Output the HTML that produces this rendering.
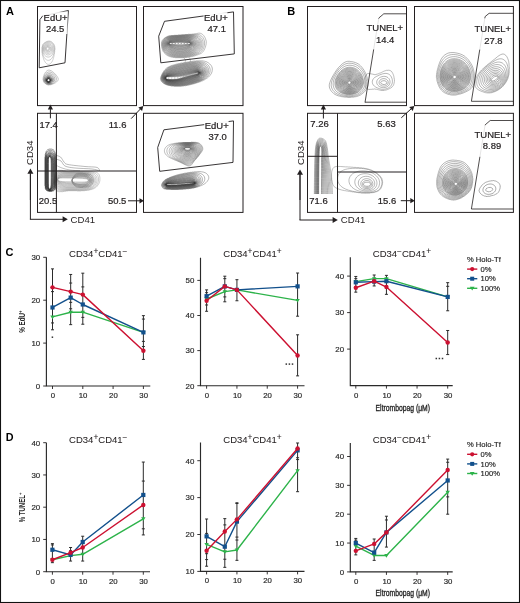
<!DOCTYPE html>
<html><head><meta charset="utf-8"><style>
html,body{margin:0;padding:0;background:#fff;overflow:hidden;}
svg{display:block;will-change:transform;}
text{font-family:"Liberation Sans", sans-serif;}
</style></head><body>
<svg width="520" height="603" viewBox="0 0 520 603">
<rect width="520" height="603" fill="#fff"/>
<rect x="0.5" y="0.5" width="519" height="602" fill="none" stroke="#111" stroke-width="1.1"/>
<text x="5.9" y="14.8" font-size="11" text-anchor="start" font-weight="bold" fill="#000" >A</text>
<text x="287.2" y="14.6" font-size="11" text-anchor="start" font-weight="bold" fill="#000" >B</text>
<text x="5.5" y="255.6" font-size="11" text-anchor="start" font-weight="bold" fill="#000" >C</text>
<text x="5.8" y="440.9" font-size="10.8" text-anchor="start" font-weight="bold" fill="#000" >D</text>
<rect x="37.5" y="6.5" width="99.00" height="99.10" fill="none" stroke="#231f20" stroke-width="1"/>
<rect x="143.5" y="6.5" width="99.50" height="99.10" fill="none" stroke="#231f20" stroke-width="1"/>
<rect x="37.5" y="113.3" width="99.00" height="99.10" fill="none" stroke="#231f20" stroke-width="1"/>
<rect x="143.5" y="113.3" width="99.50" height="99.10" fill="none" stroke="#231f20" stroke-width="1"/>
<path d="M49.30,64.25L50.00,63.90L50.50,63.51L51.64,62.25L52.00,61.72L52.62,60.50L53.02,59.50L53.10,59.00L53.32,58.50L53.39,58.00L53.61,57.50L53.66,57.00L53.83,56.75L53.93,55.75L54.12,55.50L54.20,54.25L54.40,54.00L54.46,52.50L54.67,52.25L54.69,52.00L54.72,50.25L54.93,50.00L54.95,47.75L54.93,47.50L54.72,47.25L54.67,46.25L54.46,46.00L54.42,45.50L54.21,45.25L54.17,44.75L53.95,44.50L53.91,44.25L53.45,43.75L53.41,43.50L52.50,42.58L51.75,41.85L51.50,41.81L51.25,41.60L51.00,41.56L50.75,41.35L50.25,41.30L50.00,41.11L49.75,41.07L48.25,41.07L48.00,41.09L47.75,41.29L47.25,41.33L47.00,41.54L46.50,41.58L46.25,41.79L46.00,41.82L45.75,42.04L45.50,42.07L45.25,42.29L45.00,42.32L44.30,43.00L44.00,43.07L43.75,43.32L43.57,43.50L43.54,43.75L42.82,44.50L42.78,45.00L42.55,45.25L42.53,45.75L42.30,46.00L42.27,47.00L42.05,47.25L42.05,53.00L42.07,53.25L42.29,53.50L42.35,54.75L42.55,55.00L42.63,56.00L42.82,56.25L42.91,57.00L43.09,57.25L43.18,57.75L43.35,58.00L43.50,58.75L44.09,60.25L45.25,62.22L46.00,63.17L46.75,63.80L47.25,64.11L48.25,64.40L48.75,64.39L49.30,64.25" fill="none" stroke="#a0a0a0" stroke-width="0.50" stroke-linejoin="round"/>
<path d="M49.05,60.25L50.00,59.93L51.00,59.25L52.00,58.12L52.75,56.84L53.40,55.25L53.90,53.50L54.26,51.75L54.55,49.50L54.57,48.75L54.50,47.75L54.24,46.50L54.00,45.75L53.50,44.61L52.75,43.54L51.75,42.59L51.00,42.13L49.75,41.68L48.75,41.59L48.25,41.62L47.25,41.85L46.50,42.09L45.50,42.55L44.17,43.50L43.52,44.25L43.18,44.75L42.60,46.25L42.29,47.75L42.26,49.75L42.34,51.75L42.50,53.00L43.25,55.53L43.75,56.67L44.25,57.56L45.25,58.86L45.75,59.32L46.50,59.83L47.25,60.15L47.75,60.27L48.50,60.32L49.05,60.25" fill="none" stroke="#9d9d9d" stroke-width="0.50" stroke-linejoin="round"/>
<path d="M49.08,57.00L50.00,56.67L51.00,55.99L51.75,55.20L52.50,54.04L53.00,52.92L53.43,51.50L53.73,49.75L53.76,48.50L53.58,47.25L53.19,46.00L52.67,45.00L52.00,44.14L51.25,43.49L50.25,42.93L49.25,42.64L48.25,42.58L47.00,42.79L45.75,43.29L44.75,43.97L44.00,44.76L43.41,45.75L42.98,47.00L42.77,48.25L42.76,49.75L42.96,51.50L43.29,52.75L43.97,54.25L44.75,55.37L45.75,56.28L46.75,56.83L48.00,57.10L49.08,57.00" fill="none" stroke="#999999" stroke-width="0.50" stroke-linejoin="round"/>
<path d="M49.26,54.75L50.00,54.42L50.75,53.88L51.50,53.05L52.00,52.25L52.43,51.25L52.69,50.25L52.82,49.00L52.75,48.00L52.52,47.00L52.21,46.25L51.75,45.49L51.00,44.67L50.25,44.15L49.50,43.82L48.50,43.62L47.50,43.66L46.50,43.93L45.75,44.29L45.00,44.85L44.25,45.75L43.75,46.75L43.47,47.75L43.37,49.00L43.47,50.25L43.79,51.50L44.25,52.50L44.75,53.24L45.50,54.00L46.25,54.49L47.25,54.86L48.25,54.94L49.26,54.75" fill="none" stroke="#969696" stroke-width="0.50" stroke-linejoin="round"/>
<path d="M48.75,53.25L49.50,52.97L50.00,52.66L50.50,52.22L51.07,51.50L51.45,50.75L51.69,50.00L51.82,49.00L51.79,48.25L51.63,47.50L51.33,46.75L50.85,46.00L50.36,45.50L49.75,45.07L49.00,44.75L48.25,44.61L47.50,44.63L46.75,44.80L46.00,45.15L45.26,45.75L44.84,46.25L44.43,47.00L44.19,47.75L44.08,48.50L44.10,49.50L44.33,50.50L44.65,51.25L45.16,52.00L45.75,52.58L46.50,53.04L47.25,53.28L48.00,53.35L48.75,53.25" fill="none" stroke="#929292" stroke-width="0.50" stroke-linejoin="round"/>
<path d="M48.54,52.00L49.00,51.83L49.54,51.50L50.00,51.07L50.40,50.50L50.63,50.00L50.82,49.25L50.84,48.50L50.77,48.00L50.37,47.00L50.00,46.50L49.50,46.05L49.00,45.77L48.50,45.59L48.00,45.52L47.25,45.57L46.50,45.83L46.00,46.15L45.63,46.50L45.26,47.00L45.02,47.50L44.83,48.25L44.80,49.00L44.86,49.50L45.10,50.25L45.38,50.75L45.75,51.21L46.25,51.63L46.75,51.89L47.25,52.04L48.00,52.09L48.54,52.00" fill="none" stroke="#8f8f8f" stroke-width="0.50" stroke-linejoin="round"/>
<path d="M48.15,51.00L48.50,50.90L49.00,50.61L49.54,50.00L49.84,49.25L49.86,48.25L49.60,47.50L49.25,47.03L48.93,46.75L48.50,46.51L48.00,46.38L47.25,46.41L46.50,46.75L46.21,47.00L45.84,47.50L45.58,48.25L45.60,49.25L45.90,50.00L46.50,50.66L47.25,51.00L47.75,51.05L48.15,51.00" fill="none" stroke="#8b8b8b" stroke-width="0.50" stroke-linejoin="round"/>
<path d="M48.25,50.00L48.59,49.75L48.89,49.25L48.97,48.50L48.87,48.00L48.54,47.50L48.25,47.29L47.75,47.16L47.25,47.21L46.75,47.51L46.44,48.00L46.34,48.50L46.42,49.25L46.75,49.78L47.25,50.08L47.75,50.14L48.25,50.00" fill="none" stroke="#888888" stroke-width="0.50" stroke-linejoin="round"/>
<path d="M49.71,84.75L50.75,84.71L51.00,84.48L51.75,84.45L52.00,84.22L52.50,84.19L52.69,84.00L53.00,83.94L53.25,83.72L53.75,83.67L54.00,83.45L54.25,83.42L54.50,83.20L54.75,83.16L55.00,82.94L55.25,82.89L55.50,82.67L55.75,82.62L56.50,81.90L56.75,81.82L57.52,81.00L57.97,80.25L58.20,79.50L58.25,79.00L58.00,78.00L57.78,77.50L57.54,77.00L57.14,76.50L57.07,76.25L56.50,75.62L56.34,75.25L56.12,75.00L53.50,72.38L53.25,72.16L52.88,72.00L52.25,71.42L52.00,71.35L51.50,70.95L51.00,70.70L49.50,70.19L48.50,70.13L47.75,70.29L47.00,70.72L45.68,72.00L45.60,72.25L45.14,72.75L45.08,73.00L44.87,73.25L44.82,73.50L44.60,73.75L44.56,74.00L44.34,74.25L44.31,74.50L44.09,74.75L44.04,75.25L43.83,75.50L43.79,76.00L43.57,76.25L43.53,77.00L43.31,77.25L43.28,78.25L43.06,78.50L43.06,80.00L43.28,80.25L43.30,81.00L43.53,81.25L43.56,81.75L44.03,82.25L44.05,82.50L45.25,83.71L45.50,83.73L46.00,84.21L46.25,84.23L46.50,84.46L47.00,84.48L47.25,84.71L48.00,84.73L48.25,84.96L49.50,84.96L49.71,84.75" fill="none" stroke="#8a8a8a" stroke-width="0.50" stroke-linejoin="round"/>
<path d="M49.56,84.50L50.50,84.33L52.25,83.72L53.60,83.00L54.63,82.25L55.38,81.50L56.02,80.50L56.29,79.75L56.38,78.75L56.20,77.75L55.67,76.50L54.81,75.25L53.75,74.12L52.50,73.12L51.25,72.43L50.00,72.03L49.00,71.96L48.00,72.14L47.00,72.62L46.00,73.45L45.25,74.37L44.59,75.50L44.07,76.75L43.62,78.50L43.53,79.50L43.75,80.75L44.00,81.50L44.60,82.50L45.25,83.19L46.50,84.01L47.50,84.37L48.75,84.59L49.56,84.50" fill="none" stroke="#7d7d7d" stroke-width="0.53" stroke-linejoin="round"/>
<path d="M49.81,84.00L50.75,83.74L51.86,83.25L52.64,82.75L53.50,82.00L54.09,81.25L54.57,80.25L54.74,79.50L54.73,78.50L54.48,77.50L53.98,76.50L53.25,75.56L52.50,74.87L51.75,74.35L50.75,73.90L49.75,73.67L48.75,73.67L47.75,73.92L47.00,74.29L46.25,74.85L45.50,75.68L44.84,76.75L44.44,77.75L44.16,79.00L44.17,80.00L44.38,81.00L44.71,81.75L45.24,82.50L46.00,83.19L46.75,83.64L47.75,83.98L48.75,84.12L49.81,84.00" fill="none" stroke="#6f6f6f" stroke-width="0.56" stroke-linejoin="round"/>
<path d="M49.90,83.50L50.75,83.19L51.50,82.78L52.16,82.25L52.62,81.75L53.11,81.00L53.40,80.25L53.52,79.50L53.49,78.75L53.30,78.00L52.96,77.25L52.41,76.50L51.75,75.88L51.00,75.41L50.25,75.11L49.25,74.95L48.50,75.00L47.75,75.20L47.00,75.56L46.25,76.15L45.73,76.75L45.25,77.52L44.88,78.50L44.72,79.50L44.76,80.25L44.94,81.00L45.29,81.75L45.89,82.50L46.51,83.00L47.25,83.38L48.25,83.63L49.00,83.66L49.90,83.50" fill="none" stroke="#626262" stroke-width="0.58" stroke-linejoin="round"/>
<path d="M50.02,83.00L50.75,82.65L51.30,82.25L51.78,81.75L52.13,81.25L52.37,80.75L52.56,80.00L52.59,79.25L52.44,78.50L52.10,77.75L51.75,77.26L51.25,76.77L50.75,76.43L50.25,76.18L49.50,75.98L48.75,75.94L48.00,76.07L47.25,76.38L46.75,76.72L46.25,77.19L45.75,77.89L45.46,78.50L45.27,79.25L45.23,80.00L45.35,80.75L45.66,81.50L46.00,82.00L46.52,82.50L47.25,82.94L47.75,83.12L48.50,83.24L49.25,83.20L50.02,83.00" fill="none" stroke="#545454" stroke-width="0.61" stroke-linejoin="round"/>
<path d="M49.45,82.75L50.00,82.55L50.50,82.26L51.27,81.50L51.57,81.00L51.75,80.50L51.84,80.00L51.81,79.25L51.44,78.25L51.00,77.67L50.50,77.25L49.50,76.82L48.75,76.74L48.25,76.79L47.75,76.93L47.15,77.25L46.75,77.56L46.25,78.14L45.92,78.75L45.77,79.25L45.69,80.00L45.74,80.50L45.89,81.00L46.14,81.50L46.54,82.00L47.00,82.38L47.50,82.64L48.25,82.84L48.75,82.86L49.45,82.75" fill="none" stroke="#474747" stroke-width="0.64" stroke-linejoin="round"/>
<path d="M48.99,82.50L49.50,82.37L50.00,82.13L50.72,81.50L51.14,80.75L51.29,79.75L51.21,79.25L51.01,78.75L50.44,78.00L50.00,77.68L49.50,77.46L49.00,77.35L48.50,77.35L48.00,77.44L47.50,77.65L46.75,78.25L46.40,78.75L46.19,79.25L46.08,80.25L46.18,80.75L46.39,81.25L47.03,82.00L47.50,82.29L48.00,82.47L48.99,82.50" fill="none" stroke="#393939" stroke-width="0.67" stroke-linejoin="round"/>
<path d="M49.54,82.00L50.22,81.50L50.69,80.75L50.82,80.00L50.69,79.25L50.21,78.50L49.50,78.01L49.00,77.87L48.50,77.84L47.75,78.03L47.00,78.59L46.58,79.25L46.44,79.75L46.42,80.25L46.61,81.00L47.00,81.57L47.75,82.08L48.25,82.21L48.75,82.22L49.54,82.00" fill="none" stroke="#2c2c2c" stroke-width="0.69" stroke-linejoin="round"/>
<path d="M49.29,81.75L49.95,81.25L50.25,80.75L50.37,80.25L50.27,79.50L50.00,79.01L49.76,78.75L49.25,78.44L48.75,78.32L48.00,78.41L47.43,78.75L47.00,79.27L46.77,80.00L46.86,80.75L47.25,81.39L47.75,81.75L48.50,81.92L49.29,81.75" fill="none" stroke="#1e1e1e" stroke-width="0.72" stroke-linejoin="round"/>
<path d="M49.12,81.50L49.51,81.25L49.88,80.75L50.00,80.00L49.85,79.50L49.50,79.05L49.00,78.77L48.50,78.70L48.00,78.81L47.50,79.15L47.14,79.75L47.06,80.25L47.16,80.75L47.49,81.25L48.00,81.57L48.50,81.65L49.12,81.50" fill="none" stroke="#111111" stroke-width="0.75" stroke-linejoin="round"/>
<path d="M39.2,67.8 L39.9,19.6 L42.6,16.0 L68.4,10.5 L65.0,62.8 Z" fill="none" stroke="#231f20" stroke-width="0.9" stroke-linejoin="miter"/>
<rect x="42.8" y="11.6" width="24.700000000000003" height="22.4" fill="#fff" fill-opacity="0.85"/>
<text x="43.6" y="21.1" font-size="9.45" text-anchor="start" font-weight="normal" fill="#231f20" stroke="#231f20" stroke-width="0.22">EdU+</text>
<text x="46.0" y="32.0" font-size="9.45" text-anchor="start" font-weight="normal" fill="#231f20" stroke="#231f20" stroke-width="0.22">24.5</text>
<path d="M185.16,57.50L187.25,57.41L187.50,57.21L188.75,57.16L189.00,56.96L190.25,56.91L190.50,56.70L191.50,56.65L191.75,56.45L192.75,56.39L193.00,56.20L193.75,56.14L194.00,55.94L194.75,55.88L195.00,55.69L195.50,55.63L195.75,55.44L196.25,55.38L196.50,55.18L197.00,55.12L197.25,54.93L197.75,54.86L198.00,54.67L198.50,54.59L199.25,54.16L199.75,54.06L201.25,53.27L202.52,52.25L203.50,51.00L204.00,50.25L204.75,48.75L204.87,48.25L205.25,47.50L205.73,46.00L205.86,45.25L206.04,44.75L206.11,43.75L206.27,43.25L206.28,41.75L205.94,40.00L204.95,37.50L203.66,35.50L202.50,34.35L201.25,33.59L200.50,33.32L200.00,33.21L198.75,33.17L198.00,33.35L196.75,33.42L196.50,33.58L195.50,33.63L195.25,33.81L194.25,33.85L194.00,34.04L191.75,34.07L191.50,34.28L188.25,34.30L188.00,34.52L184.75,34.55L184.50,34.77L181.50,34.79L181.25,35.02L178.25,35.04L178.00,35.27L174.00,35.28L173.75,35.29L173.50,35.52L170.75,35.55L170.50,35.77L169.25,35.80L169.00,36.03L168.25,36.05L168.00,36.28L167.50,36.31L167.25,36.53L167.00,36.55L166.75,36.78L166.50,36.80L166.25,37.03L166.00,37.06L165.75,37.29L165.50,37.31L165.25,37.54L165.00,37.57L164.25,38.29L164.00,38.33L163.08,39.25L163.05,39.50L162.34,40.25L162.30,40.50L162.08,40.75L162.05,41.00L161.84,41.25L161.80,41.75L161.59,42.00L161.58,46.50L161.79,46.75L161.83,47.75L162.04,48.00L162.09,48.75L162.30,49.00L162.34,49.50L162.55,49.75L162.60,50.25L162.81,50.50L162.84,50.75L163.06,51.00L163.09,51.25L163.31,51.50L163.35,51.75L163.81,52.25L163.86,52.50L166.00,54.64L166.25,54.69L166.75,55.15L167.00,55.19L167.50,55.64L167.75,55.68L168.00,55.90L168.25,55.94L168.50,56.14L169.00,56.20L169.25,56.41L169.50,56.44L169.75,56.64L170.50,56.70L170.75,56.91L171.25,56.95L171.50,57.15L172.75,57.21L173.00,57.41L174.75,57.46L175.00,57.66L176.00,57.70L184.50,57.69L185.00,57.66L185.16,57.50" fill="none" stroke="#707070" stroke-width="0.45" stroke-linejoin="round"/>
<path d="M182.54,57.25L184.50,57.18L188.25,56.68L191.25,56.08L194.36,55.25L196.99,54.25L199.05,53.25L200.50,52.29L201.60,51.25L202.21,50.50L202.85,49.50L203.77,47.50L204.40,45.25L204.57,44.00L204.62,43.00L204.56,42.00L204.40,41.00L203.84,39.25L203.36,38.25L202.90,37.50L201.75,36.15L200.75,35.38L199.75,34.87L198.50,34.53L197.00,34.38L192.25,34.51L191.25,34.61L188.75,34.63L187.75,34.77L185.50,34.80L184.25,34.99L182.00,35.04L181.00,35.22L178.75,35.28L177.75,35.46L174.25,35.54L173.50,35.70L171.00,35.85L170.50,35.99L169.50,36.12L168.25,36.46L167.00,36.98L165.50,37.79L165.00,38.12L163.75,39.22L162.69,40.75L162.35,41.50L162.13,42.25L161.98,43.75L162.04,46.00L162.60,48.50L163.26,50.25L164.25,51.93L165.50,53.34L166.75,54.36L168.25,55.29L170.00,56.04L171.75,56.56L173.50,56.89L176.00,57.20L182.54,57.25" fill="none" stroke="#6e6e6e" stroke-width="0.45" stroke-linejoin="round"/>
<path d="M183.46,56.75L186.50,56.44L188.50,56.11L191.50,55.45L194.00,54.69L196.25,53.75L198.08,52.75L199.46,51.75L200.69,50.50L201.25,49.75L201.85,48.75L202.59,47.00L203.06,45.00L203.16,43.25L202.96,41.50L202.40,39.75L201.50,38.17L200.95,37.50L200.25,36.83L198.99,36.00L197.50,35.44L195.75,35.13L193.00,34.98L189.25,34.94L185.50,35.08L184.25,35.22L182.00,35.30L181.00,35.43L178.75,35.53L177.75,35.67L174.50,35.77L171.00,36.13L169.50,36.42L168.25,36.79L167.18,37.25L165.84,38.00L164.85,38.75L164.09,39.50L163.22,40.75L162.87,41.50L162.63,42.25L162.42,44.00L162.43,45.25L162.54,46.25L163.11,48.50L163.86,50.25L164.83,51.75L166.25,53.23L167.50,54.16L169.00,55.00L170.75,55.69L172.75,56.22L175.25,56.61L176.75,56.74L180.00,56.81L183.46,56.75" fill="none" stroke="#6d6d6d" stroke-width="0.45" stroke-linejoin="round"/>
<path d="M183.69,56.25L186.50,55.94L188.75,55.54L191.25,54.94L193.36,54.25L195.25,53.43L196.91,52.50L198.27,51.50L199.52,50.25L200.56,48.75L201.34,47.00L201.77,45.25L201.88,43.50L201.66,41.75L201.17,40.25L200.31,38.75L199.75,38.08L199.14,37.50L198.00,36.72L196.50,36.08L194.75,35.68L192.25,35.39L189.25,35.28L185.75,35.35L177.50,35.90L174.75,36.00L171.25,36.37L169.75,36.66L168.50,37.03L167.25,37.57L166.10,38.25L165.25,38.90L164.50,39.66L163.59,41.00L163.04,42.50L162.85,44.25L162.96,46.00L163.44,48.00L164.18,49.75L165.25,51.38L166.58,52.75L168.00,53.80L169.50,54.61L171.25,55.28L173.25,55.78L175.50,56.13L177.50,56.29L180.75,56.34L183.69,56.25" fill="none" stroke="#6b6b6b" stroke-width="0.45" stroke-linejoin="round"/>
<path d="M184.10,55.75L186.50,55.46L188.75,55.04L191.00,54.46L193.02,53.75L194.75,52.95L196.31,52.00L197.58,51.00L198.74,49.75L199.71,48.25L200.33,46.75L200.68,45.25L200.77,43.50L200.50,41.75L199.94,40.25L199.15,39.00L198.00,37.84L196.69,37.00L195.00,36.35L193.00,35.92L190.50,35.66L188.75,35.59L185.50,35.63L175.00,36.23L171.25,36.63L169.75,36.94L168.50,37.34L167.50,37.79L166.32,38.50L165.39,39.25L164.71,40.00L163.92,41.25L163.41,42.75L163.25,44.50L163.43,46.25L163.91,48.00L164.74,49.75L165.75,51.17L167.11,52.50L168.50,53.48L170.00,54.25L171.75,54.89L173.75,55.38L176.00,55.71L178.25,55.85L181.50,55.88L184.10,55.75" fill="none" stroke="#696969" stroke-width="0.45" stroke-linejoin="round"/>
<path d="M183.82,55.25L186.00,55.00L188.25,54.59L190.25,54.07L192.25,53.38L194.00,52.55L195.50,51.62L196.75,50.59L197.75,49.50L198.58,48.25L199.24,46.75L199.60,45.25L199.67,43.50L199.42,42.00L198.85,40.50L198.02,39.25L197.02,38.25L195.91,37.50L194.75,36.96L193.26,36.50L191.75,36.21L190.00,36.00L188.25,35.92L185.75,35.92L182.25,36.06L174.50,36.53L171.75,36.84L170.25,37.13L168.75,37.58L167.35,38.25L166.25,39.00L165.23,40.00L164.40,41.25L163.87,42.75L163.70,44.25L163.84,46.00L164.33,47.75L165.05,49.25L166.12,50.75L167.40,52.00L168.75,52.95L170.25,53.73L172.00,54.38L174.00,54.87L176.25,55.20L178.50,55.35L181.25,55.37L183.82,55.25" fill="none" stroke="#686868" stroke-width="0.45" stroke-linejoin="round"/>
<path d="M183.62,54.75L185.75,54.51L188.00,54.09L190.00,53.56L191.75,52.92L193.25,52.21L194.75,51.27L195.97,50.25L196.87,49.25L197.70,48.00L198.34,46.50L198.66,45.00L198.69,43.50L198.42,42.00L197.92,40.75L197.09,39.50L196.06,38.50L194.92,37.75L193.50,37.12L192.00,36.70L190.25,36.41L188.50,36.26L186.00,36.21L179.25,36.49L174.00,36.84L171.75,37.12L170.00,37.49L168.75,37.92L167.50,38.54L166.50,39.25L165.51,40.25L164.73,41.50L164.29,42.75L164.12,44.25L164.29,46.00L164.73,47.50L165.50,49.04L166.50,50.39L167.75,51.58L169.00,52.45L170.50,53.23L172.25,53.88L174.00,54.32L176.25,54.67L178.50,54.84L181.25,54.87L183.62,54.75" fill="none" stroke="#666666" stroke-width="0.45" stroke-linejoin="round"/>
<path d="M183.32,54.25L185.50,54.01L187.50,53.64L189.25,53.19L191.00,52.59L192.50,51.89L193.95,51.00L195.16,50.00L196.07,49.00L196.89,47.75L197.43,46.50L197.77,45.00L197.80,43.50L197.50,42.00L196.96,40.75L196.27,39.75L195.24,38.75L194.09,38.00L192.75,37.41L191.25,36.98L189.50,36.69L187.75,36.56L185.50,36.52L179.00,36.77L173.75,37.14L171.75,37.40L170.25,37.73L169.00,38.15L167.75,38.77L166.74,39.50L165.78,40.50L165.05,41.75L164.65,43.00L164.53,44.50L164.73,46.00L165.22,47.50L166.00,48.92L167.00,50.17L168.20,51.25L169.50,52.11L171.00,52.85L172.50,53.38L174.25,53.82L176.25,54.14L178.50,54.32L181.00,54.36L183.32,54.25" fill="none" stroke="#646464" stroke-width="0.45" stroke-linejoin="round"/>
<path d="M182.18,53.75L184.25,53.59L186.25,53.30L188.25,52.85L190.00,52.30L191.50,51.66L193.00,50.80L194.05,50.00L195.05,49.00L195.79,48.00L196.43,46.75L196.81,45.50L196.95,44.00L196.81,42.75L196.41,41.50L195.68,40.25L194.75,39.25L193.75,38.51L192.75,37.99L191.50,37.53L190.00,37.18L188.50,36.98L186.50,36.87L181.75,36.94L174.75,37.34L172.50,37.60L171.00,37.87L169.50,38.31L168.25,38.88L167.25,39.55L166.28,40.50L165.61,41.50L165.14,42.75L164.97,44.00L165.08,45.50L165.53,47.00L166.18,48.25L167.00,49.36L168.17,50.50L169.50,51.43L170.75,52.09L172.25,52.68L174.00,53.17L175.75,53.49L177.75,53.70L180.00,53.79L182.18,53.75" fill="none" stroke="#636363" stroke-width="0.45" stroke-linejoin="round"/>
<path d="M180.92,53.25L183.00,53.16L185.00,52.94L187.00,52.58L188.75,52.12L190.25,51.57L191.75,50.84L193.00,50.01L194.00,49.13L194.94,48.00L195.63,46.75L196.04,45.50L196.19,44.25L196.10,43.00L195.73,41.75L195.21,40.75L194.39,39.75L193.49,39.00L192.50,38.41L191.25,37.91L190.00,37.58L188.50,37.34L187.00,37.22L182.75,37.20L175.25,37.59L173.25,37.79L171.50,38.07L170.00,38.46L168.75,38.98L167.75,39.58L166.73,40.50L166.03,41.50L165.60,42.50L165.37,43.75L165.41,45.00L165.71,46.25L166.26,47.50L167.00,48.60L168.00,49.67L169.00,50.47L170.25,51.24L171.75,51.92L173.25,52.41L175.00,52.81L176.75,53.07L178.75,53.22L180.92,53.25" fill="none" stroke="#616161" stroke-width="0.45" stroke-linejoin="round"/>
<path d="M184.05,52.50L185.75,52.26L187.50,51.88L189.00,51.43L190.50,50.81L191.75,50.13L192.75,49.41L193.70,48.50L194.46,47.50L194.99,46.50L195.38,45.25L195.50,44.00L195.40,43.00L195.02,41.75L194.46,40.75L193.75,39.92L192.75,39.13L191.75,38.58L190.50,38.12L189.00,37.78L187.25,37.58L185.25,37.50L182.50,37.52L175.25,37.88L172.00,38.28L170.75,38.56L169.75,38.88L168.75,39.33L168.00,39.80L167.18,40.50L166.58,41.25L166.07,42.25L165.77,43.50L165.77,44.75L166.06,46.00L166.63,47.25L167.32,48.25L168.25,49.23L169.50,50.18L170.75,50.89L172.25,51.51L174.00,52.03L175.75,52.37L177.75,52.60L179.75,52.70L182.00,52.66L184.05,52.50" fill="none" stroke="#5f5f5f" stroke-width="0.45" stroke-linejoin="round"/>
<path d="M182.64,52.00L184.25,51.85L186.00,51.57L187.50,51.22L189.00,50.75L190.25,50.21L191.50,49.50L192.48,48.75L193.25,47.97L193.94,47.00L194.42,46.00L194.70,45.00L194.78,43.75L194.58,42.50L194.17,41.50L193.50,40.53L192.75,39.80L191.75,39.14L190.50,38.60L189.25,38.26L187.75,38.02L185.75,37.89L183.50,37.86L177.50,38.07L173.25,38.43L171.75,38.67L170.50,38.98L169.50,39.35L168.50,39.88L167.70,40.50L167.00,41.29L166.48,42.25L166.20,43.25L166.15,44.25L166.36,45.50L166.75,46.50L167.50,47.68L168.50,48.73L169.50,49.50L170.75,50.23L172.00,50.77L173.50,51.26L175.00,51.61L176.75,51.88L178.75,52.04L180.75,52.08L182.64,52.00" fill="none" stroke="#5e5e5e" stroke-width="0.45" stroke-linejoin="round"/>
<path d="M180.50,51.50L184.00,51.29L185.75,51.03L187.25,50.69L188.75,50.22L190.00,49.68L191.00,49.12L192.00,48.38L192.86,47.50L193.53,46.50L193.96,45.50L194.17,44.50L194.18,43.50L193.98,42.50L193.54,41.50L193.01,40.75L192.25,40.02L191.48,39.50L190.50,39.04L189.25,38.66L188.00,38.43L186.25,38.26L182.00,38.21L175.75,38.50L173.50,38.72L171.75,39.00L170.50,39.31L169.25,39.81L168.25,40.44L167.43,41.25L166.95,42.00L166.60,43.00L166.50,44.00L166.62,45.00L166.96,46.00L167.50,46.95L168.25,47.85L169.00,48.52L170.00,49.21L171.25,49.87L172.50,50.37L173.75,50.74L175.25,51.07L177.00,51.32L180.50,51.50" fill="none" stroke="#5c5c5c" stroke-width="0.45" stroke-linejoin="round"/>
<path d="M183.54,50.75L186.50,50.27L187.75,49.94L189.00,49.50L190.00,49.04L191.00,48.43L191.84,47.75L192.53,47.00L193.02,46.25L193.45,45.25L193.61,44.50L193.63,43.50L193.43,42.50L193.11,41.75L192.60,41.00L191.82,40.25L190.75,39.60L189.75,39.20L188.50,38.90L187.00,38.69L185.00,38.57L182.25,38.55L176.00,38.80L172.50,39.18L171.25,39.43L170.00,39.82L169.00,40.30L168.35,40.75L167.75,41.35L167.31,42.00L167.00,42.75L166.84,43.75L166.93,44.75L167.26,45.75L167.75,46.59L168.50,47.47L169.50,48.30L170.50,48.92L171.75,49.50L173.00,49.94L174.50,50.33L176.25,50.64L178.00,50.83L179.75,50.91L181.75,50.88L183.54,50.75" fill="none" stroke="#5b5b5b" stroke-width="0.45" stroke-linejoin="round"/>
<path d="M181.41,50.25L184.50,49.99L187.25,49.44L188.50,49.04L189.50,48.61L190.50,48.05L191.25,47.49L191.99,46.75L192.50,46.02L192.86,45.25L193.05,44.50L193.09,43.50L192.96,42.75L192.67,42.00L192.18,41.25L191.39,40.50L190.50,39.96L189.50,39.57L188.25,39.27L186.75,39.07L185.00,38.97L180.00,38.97L174.75,39.27L172.75,39.50L171.25,39.79L170.00,40.18L169.00,40.68L168.25,41.27L167.68,42.00L167.34,42.75L167.20,43.50L167.21,44.25L167.47,45.25L167.85,46.00L168.44,46.75L169.25,47.49L170.00,48.01L171.00,48.55L172.25,49.07L173.50,49.46L175.00,49.80L178.00,50.19L181.41,50.25" fill="none" stroke="#595959" stroke-width="0.45" stroke-linejoin="round"/>
<path d="M183.53,49.50L186.25,49.08L188.50,48.43L190.25,47.58L191.00,47.03L191.50,46.55L192.00,45.90L192.34,45.25L192.57,44.50L192.65,43.75L192.57,43.00L192.31,42.25L192.00,41.71L191.50,41.12L190.75,40.55L189.75,40.07L188.50,39.71L187.25,39.51L185.25,39.35L182.75,39.29L177.00,39.44L173.00,39.80L171.50,40.06L170.50,40.33L169.50,40.73L168.75,41.21L168.20,41.75L167.74,42.50L167.53,43.25L167.50,44.00L167.64,44.75L168.00,45.56L168.50,46.24L169.25,46.95L170.25,47.61L171.25,48.11L172.50,48.58L173.75,48.94L176.75,49.47L180.00,49.66L183.53,49.50" fill="none" stroke="#575757" stroke-width="0.45" stroke-linejoin="round"/>
<path d="M182.22,49.00L185.00,48.71L187.25,48.25L189.00,47.65L189.75,47.28L190.57,46.75L191.25,46.13L191.72,45.50L191.97,45.00L192.19,44.25L192.23,43.50L192.15,43.00L191.88,42.25L191.56,41.75L191.00,41.18L190.25,40.69L189.25,40.29L188.00,40.01L186.50,39.82L184.25,39.69L179.25,39.69L174.25,40.01L172.50,40.21L171.00,40.51L169.75,40.93L169.00,41.36L168.50,41.80L168.03,42.50L167.80,43.25L167.78,44.00L167.96,44.75L168.20,45.25L168.75,45.98L169.25,46.43L170.00,46.95L171.00,47.47L173.25,48.24L176.00,48.78L179.00,49.03L182.22,49.00" fill="none" stroke="#565656" stroke-width="0.45" stroke-linejoin="round"/>
<path d="M184.11,48.25L186.50,47.87L188.25,47.40L189.75,46.74L190.75,46.04L191.24,45.50L191.55,45.00L191.85,44.00L191.84,43.25L191.72,42.75L191.49,42.25L191.12,41.75L190.50,41.23L189.75,40.84L188.75,40.53L187.50,40.30L185.75,40.14L183.00,40.02L178.00,40.09L173.50,40.42L172.00,40.62L170.75,40.88L169.75,41.23L169.00,41.67L168.50,42.18L168.18,42.75L168.05,43.25L168.04,44.00L168.25,44.73L168.55,45.25L169.00,45.76L169.75,46.34L170.75,46.87L171.75,47.26L173.00,47.64L174.50,47.97L177.50,48.36L180.75,48.47L184.11,48.25" fill="none" stroke="#545454" stroke-width="0.45" stroke-linejoin="round"/>
<path d="M182.28,47.75L184.75,47.52L187.00,47.14L188.75,46.63L190.00,46.04L190.50,45.67L190.91,45.25L191.24,44.75L191.43,44.25L191.48,43.25L191.35,42.75L191.08,42.25L190.62,41.75L190.00,41.35L189.25,41.06L188.00,40.79L186.25,40.60L183.75,40.46L179.50,40.44L177.00,40.53L174.25,40.73L172.25,40.94L171.00,41.16L170.00,41.44L169.25,41.81L168.76,42.25L168.45,42.75L168.31,43.25L168.31,44.00L168.45,44.50L168.75,45.00L169.25,45.51L169.75,45.86L171.25,46.55L173.50,47.16L176.50,47.62L179.25,47.80L182.28,47.75" fill="none" stroke="#525252" stroke-width="0.45" stroke-linejoin="round"/>
<path d="M184.25,47.00L186.25,46.73L187.75,46.44L189.00,46.06L190.00,45.58L190.75,44.93L191.12,44.25L191.21,43.75L191.19,43.25L190.92,42.50L190.50,42.01L190.00,41.69L189.25,41.40L188.00,41.15L186.25,40.98L183.00,40.81L179.00,40.81L176.75,40.89L173.50,41.14L170.75,41.51L169.75,41.80L169.25,42.07L168.81,42.50L168.57,43.00L168.51,43.75L168.60,44.25L169.09,45.00L169.50,45.33L170.25,45.73L172.00,46.31L175.00,46.87L178.00,47.16L181.25,47.21L184.25,47.00" fill="none" stroke="#515151" stroke-width="0.45" stroke-linejoin="round"/>
<path d="M182.06,46.50L186.75,46.03L188.25,45.76L189.50,45.37L190.25,44.96L190.50,44.73L190.80,44.25L190.91,43.50L190.75,42.75L190.50,42.40L190.00,42.03L189.25,41.77L188.25,41.59L183.00,41.24L179.75,41.21L176.75,41.30L171.00,41.79L170.25,41.93L169.50,42.18L169.08,42.50L168.79,43.00L168.76,44.00L169.00,44.52L169.25,44.79L169.75,45.10L171.00,45.54L173.25,45.99L176.75,46.41L179.25,46.53L182.06,46.50" fill="none" stroke="#4f4f4f" stroke-width="0.45" stroke-linejoin="round"/>
<path d="M183.44,45.75L187.75,45.32L189.00,45.10L189.75,44.87L190.25,44.59L190.52,44.25L190.62,44.00L190.60,43.00L190.27,42.50L190.00,42.32L189.00,42.07L187.25,41.90L181.00,41.62L177.00,41.68L171.00,42.11L169.50,42.40L169.09,42.75L168.98,43.00L168.95,44.00L169.25,44.49L169.75,44.78L171.00,45.10L173.00,45.39L177.50,45.82L180.75,45.87L183.44,45.75" fill="none" stroke="#4d4d4d" stroke-width="0.45" stroke-linejoin="round"/>
<path d="M182.47,45.25L188.00,44.84L189.75,44.58L190.25,44.32L190.44,44.00L190.44,43.00L190.25,42.71L190.00,42.53L189.00,42.36L184.25,42.17L182.75,42.02L180.75,42.00L176.75,42.04L175.25,42.22L170.50,42.42L169.50,42.57L169.25,42.76L169.10,43.00L169.16,43.50L169.09,44.00L169.24,44.25L169.50,44.46L170.25,44.63L177.00,45.23L182.47,45.25" fill="none" stroke="#4c4c4c" stroke-width="0.45" stroke-linejoin="round"/>
<path d="M182.89,44.75L184.25,44.55L190.00,44.34L190.32,44.00L190.16,43.50L190.32,43.00L190.00,42.67L189.75,42.65L184.25,42.54L183.75,42.51L183.25,42.35L180.75,42.32L176.50,42.35L175.50,42.55L169.75,42.67L169.50,42.68L169.20,43.00L169.34,43.25L169.37,43.50L169.34,43.75L169.19,44.00L169.50,44.33L175.25,44.54L176.75,44.75L182.89,44.75" fill="none" stroke="#4a4a4a" stroke-width="0.45" stroke-linejoin="round"/>
<path d="M181.71,86.00L184.00,85.95L184.25,85.73L185.75,85.70L186.00,85.48L187.25,85.45L187.50,85.23L188.50,85.20L188.75,84.98L189.50,84.95L189.75,84.73L190.50,84.70L190.75,84.48L191.50,84.45L191.75,84.23L192.50,84.20L192.75,83.98L193.50,83.95L193.75,83.73L194.50,83.70L194.75,83.47L195.25,83.45L195.50,83.22L196.00,83.20L196.25,82.97L196.75,82.95L197.00,82.72L197.75,82.69L197.94,82.50L198.25,82.45L198.50,82.22L199.00,82.20L199.25,81.97L199.75,81.95L200.00,81.72L200.50,81.69L200.75,81.47L201.00,81.44L201.25,81.22L201.50,81.20L201.75,80.97L202.25,80.93L202.50,80.71L202.75,80.69L203.00,80.46L203.25,80.43L203.50,80.21L203.75,80.18L204.00,79.96L204.25,79.93L204.50,79.70L204.75,79.67L205.25,79.20L205.50,79.17L205.75,78.95L206.00,78.91L206.50,78.44L206.75,78.40L207.25,77.93L207.50,77.88L208.40,77.00L208.75,76.86L209.37,76.25L209.83,75.75L210.00,75.37L210.56,74.75L210.64,74.50L211.04,74.00L211.54,73.00L212.07,71.50L212.12,70.75L212.32,70.00L212.26,68.00L211.72,66.50L210.97,65.25L209.75,63.97L209.07,63.50L208.50,62.98L207.25,62.20L206.25,61.70L205.75,61.60L205.50,61.44L204.75,61.34L204.50,61.17L204.25,61.12L203.50,61.07L203.25,60.90L203.00,60.86L196.25,60.82L196.00,60.84L195.75,61.04L193.75,61.06L193.50,61.08L193.25,61.29L191.75,61.33L191.50,61.54L190.25,61.57L190.00,61.78L188.75,61.82L188.50,62.03L187.50,62.07L187.25,62.28L186.00,62.32L185.75,62.53L184.50,62.57L184.25,62.78L183.00,62.82L182.75,63.03L181.25,63.07L181.00,63.28L179.75,63.32L179.50,63.53L178.50,63.57L178.25,63.79L177.50,63.82L177.25,64.03L176.50,64.07L176.25,64.28L175.50,64.32L175.25,64.54L174.75,64.57L174.50,64.78L173.75,64.82L173.50,65.04L173.00,65.07L172.75,65.28L172.25,65.31L172.00,65.53L171.25,65.57L171.00,65.79L170.75,65.81L170.50,66.04L170.00,66.07L169.75,66.29L169.50,66.32L169.25,66.54L169.00,66.56L168.75,66.79L168.50,66.81L168.25,67.04L168.00,67.07L167.75,67.29L167.50,67.32L166.75,68.04L166.50,68.07L165.06,69.50L165.03,69.75L164.05,70.75L164.03,71.00L163.55,71.50L163.53,71.75L163.04,72.25L163.03,72.50L162.79,72.75L162.77,73.00L162.29,73.50L162.27,73.75L162.04,74.00L162.02,74.25L161.79,74.50L161.77,74.75L161.54,75.00L161.52,75.50L161.29,75.75L161.25,76.04L161.04,76.25L161.02,76.75L160.80,77.00L160.77,78.00L160.55,78.25L160.54,79.00L160.56,79.25L160.78,79.50L160.81,80.25L161.03,80.50L161.05,80.75L161.28,81.00L161.30,81.25L163.25,83.21L163.50,83.23L164.00,83.71L164.25,83.73L164.50,83.96L164.75,83.98L165.00,84.21L165.25,84.23L165.50,84.46L165.75,84.48L166.00,84.71L166.50,84.73L166.75,84.96L167.25,84.98L167.50,85.21L168.25,85.23L168.50,85.46L169.50,85.48L169.75,85.71L171.00,85.73L171.25,85.96L173.50,85.98L173.75,86.21L174.00,86.22L181.25,86.22L181.50,86.21L181.71,86.00" fill="none" stroke="#606060" stroke-width="0.45" stroke-linejoin="round"/>
<path d="M181.37,85.75L183.50,85.54L187.00,84.99L189.25,84.50L194.50,83.15L197.50,82.20L200.50,81.05L203.15,79.75L205.11,78.50L206.68,77.25L208.11,75.75L209.10,74.25L209.83,72.50L210.15,70.75L210.16,69.75L210.08,69.00L209.66,67.50L208.83,66.00L207.74,64.75L206.50,63.74L205.00,62.89L203.25,62.24L201.50,61.88L199.00,61.65L196.75,61.61L194.25,61.77L190.75,62.20L180.25,63.93L175.75,64.95L171.50,66.22L170.00,66.80L168.00,67.81L166.25,69.08L164.69,70.75L163.50,72.37L162.23,74.50L161.42,76.50L161.18,77.50L161.06,78.50L161.07,79.00L161.30,80.00L161.50,80.50L161.92,81.25L162.33,81.75L163.36,82.75L165.00,83.78L166.25,84.37L168.75,85.11L171.50,85.60L173.50,85.72L174.50,85.88L179.50,85.87L181.37,85.75" fill="none" stroke="#5e5e5e" stroke-width="0.45" stroke-linejoin="round"/>
<path d="M180.29,85.50L183.50,85.16L187.00,84.60L190.25,83.86L194.25,82.81L197.50,81.75L200.00,80.77L202.08,79.75L203.69,78.75L205.27,77.50L206.69,76.00L207.67,74.50L208.30,73.00L208.63,71.25L208.63,70.25L208.55,69.50L208.12,68.00L207.29,66.50L206.44,65.50L205.25,64.49L203.75,63.62L202.25,63.04L200.50,62.63L198.50,62.38L196.50,62.31L194.00,62.42L190.25,62.85L181.50,64.27L178.75,64.79L176.00,65.45L172.50,66.46L170.25,67.28L168.25,68.27L166.50,69.50L165.00,71.01L163.65,72.75L162.50,74.66L161.76,76.50L161.47,78.00L161.52,79.25L161.93,80.50L162.75,81.70L163.89,82.75L165.25,83.58L167.00,84.33L168.75,84.81L171.75,85.32L174.50,85.56L177.00,85.58L180.29,85.50" fill="none" stroke="#5c5c5c" stroke-width="0.45" stroke-linejoin="round"/>
<path d="M178.33,85.25L180.75,85.12L185.00,84.58L188.25,83.95L192.00,83.03L194.75,82.25L198.00,81.14L200.25,80.17L202.36,79.00L204.03,77.75L205.27,76.50L206.34,75.00L207.02,73.50L207.36,72.00L207.42,71.00L207.37,70.25L207.01,68.75L206.26,67.25L205.48,66.25L204.37,65.25L203.21,64.50L201.75,63.85L200.00,63.36L198.25,63.09L196.50,62.97L194.25,63.01L191.75,63.22L188.75,63.63L181.00,64.91L177.50,65.62L174.25,66.46L171.50,67.34L169.50,68.18L167.75,69.16L166.25,70.32L164.75,71.86L163.36,73.75L162.54,75.25L161.95,77.00L161.80,78.50L162.02,79.75L162.63,81.00L163.50,82.02L164.75,82.97L166.25,83.74L168.00,84.34L170.00,84.77L172.00,85.05L175.00,85.27L178.33,85.25" fill="none" stroke="#5a5a5a" stroke-width="0.45" stroke-linejoin="round"/>
<path d="M181.10,84.75L184.00,84.38L187.25,83.79L190.50,83.03L194.00,82.09L196.75,81.18L199.00,80.29L200.75,79.42L202.21,78.50L203.72,77.25L204.81,76.00L205.58,74.75L206.15,73.25L206.39,71.75L206.29,70.25L205.84,68.75L205.13,67.50L204.53,66.75L203.75,66.01L203.00,65.46L202.00,64.89L201.00,64.46L200.00,64.14L198.75,63.86L197.50,63.69L195.00,63.58L192.00,63.76L188.75,64.18L183.00,65.10L179.00,65.83L175.50,66.65L172.25,67.61L169.75,68.60L167.75,69.71L166.00,71.09L164.50,72.69L163.24,74.50L162.64,75.75L162.25,77.00L162.12,78.25L162.22,79.25L162.57,80.25L163.20,81.25L164.21,82.25L165.25,82.95L166.50,83.55L168.00,84.06L169.75,84.45L171.75,84.75L174.25,84.94L176.00,84.99L179.00,84.91L181.10,84.75" fill="none" stroke="#585858" stroke-width="0.45" stroke-linejoin="round"/>
<path d="M180.24,84.50L183.25,84.13L186.50,83.57L189.50,82.90L193.00,81.98L195.75,81.12L198.00,80.28L199.75,79.47L201.38,78.50L202.66,77.50L203.84,76.25L204.65,75.00L205.25,73.50L205.48,72.25L205.43,70.75L205.01,69.25L204.33,68.00L203.23,66.75L202.50,66.16L201.75,65.68L200.00,64.91L197.75,64.38L195.50,64.19L192.75,64.26L189.75,64.58L185.50,65.23L180.50,66.08L176.75,66.88L173.25,67.82L170.50,68.80L168.25,69.93L166.50,71.17L165.50,72.08L164.75,72.89L163.50,74.62L162.94,75.75L162.55,77.00L162.42,78.25L162.55,79.25L162.91,80.25L163.50,81.15L164.25,81.91L165.25,82.63L166.50,83.26L167.75,83.71L169.25,84.08L171.25,84.40L173.50,84.60L175.50,84.68L178.00,84.64L180.24,84.50" fill="none" stroke="#565656" stroke-width="0.45" stroke-linejoin="round"/>
<path d="M179.36,84.25L182.25,83.93L185.25,83.45L188.25,82.82L192.00,81.87L194.75,81.06L197.04,80.25L199.00,79.39L200.59,78.50L201.93,77.50L203.14,76.25L203.96,75.00L204.47,73.75L204.71,72.50L204.66,71.00L204.33,69.75L203.69,68.50L202.61,67.25L201.25,66.25L199.61,65.50L197.75,65.02L195.75,64.79L193.25,64.79L190.50,65.02L187.00,65.52L181.25,66.48L177.50,67.23L173.75,68.19L171.00,69.11L168.75,70.15L166.75,71.46L165.75,72.31L165.00,73.08L163.75,74.73L163.22,75.75L162.82,77.00L162.70,78.00L162.79,79.00L163.11,80.00L163.55,80.75L164.25,81.55L165.25,82.33L166.25,82.87L167.50,83.35L169.00,83.76L170.75,84.07L172.75,84.27L175.00,84.39L179.36,84.25" fill="none" stroke="#545454" stroke-width="0.45" stroke-linejoin="round"/>
<path d="M178.13,84.00L180.75,83.77L183.75,83.34L186.75,82.76L190.00,82.00L193.25,81.11L195.75,80.30L198.00,79.41L199.75,78.50L201.19,77.50L202.24,76.50L203.00,75.50L203.63,74.25L203.95,73.00L204.00,71.75L203.78,70.50L203.24,69.25L202.30,68.00L201.08,67.00L199.75,66.29L198.00,65.73L196.00,65.42L194.00,65.35L191.75,65.47L188.75,65.82L182.75,66.78L178.25,67.63L174.50,68.52L171.50,69.45L169.25,70.41L167.25,71.59L165.50,73.03L164.75,73.84L164.07,74.75L163.52,75.75L163.16,76.75L163.00,77.75L163.04,78.75L163.32,79.75L163.72,80.50L164.33,81.25L165.25,82.00L166.25,82.57L167.50,83.07L168.75,83.42L170.25,83.71L172.00,83.92L174.25,84.06L178.13,84.00" fill="none" stroke="#525252" stroke-width="0.45" stroke-linejoin="round"/>
<path d="M176.76,83.75L179.50,83.57L182.00,83.26L184.94,82.75L188.00,82.09L191.50,81.21L194.50,80.32L196.78,79.50L198.75,78.60L200.15,77.75L201.25,76.86L202.23,75.75L202.83,74.75L203.26,73.50L203.40,72.25L203.23,71.00L202.75,69.75L201.85,68.50L200.75,67.57L199.50,66.87L198.00,66.35L196.25,66.03L194.50,65.92L192.25,65.99L189.75,66.24L184.50,67.04L179.00,68.03L175.00,68.93L172.00,69.79L169.50,70.78L167.50,71.89L165.75,73.24L164.50,74.62L163.94,75.50L163.50,76.50L163.28,77.50L163.27,78.50L163.51,79.50L163.87,80.25L164.45,81.00L165.25,81.69L166.25,82.29L167.25,82.71L168.50,83.08L169.75,83.35L173.00,83.71L176.76,83.75" fill="none" stroke="#505050" stroke-width="0.45" stroke-linejoin="round"/>
<path d="M179.45,83.25L182.00,82.91L184.75,82.42L187.75,81.77L191.00,80.95L193.50,80.24L195.75,79.48L197.50,78.77L199.00,78.01L200.25,77.17L201.25,76.25L202.01,75.25L202.51,74.25L202.81,73.00L202.83,72.00L202.63,71.00L202.20,70.00L201.49,69.00L200.98,68.50L200.25,67.95L198.75,67.19L197.00,66.71L195.00,66.49L192.75,66.50L190.25,66.72L186.75,67.22L181.00,68.19L176.75,69.04L173.50,69.84L170.75,70.74L168.50,71.75L166.50,73.03L165.75,73.66L165.00,74.42L164.38,75.25L163.96,76.00L163.61,77.00L163.50,77.75L163.56,78.75L163.77,79.50L164.16,80.25L164.79,81.00L165.50,81.57L166.50,82.13L167.75,82.61L169.00,82.93L172.00,83.36L175.75,83.48L179.45,83.25" fill="none" stroke="#4e4e4e" stroke-width="0.45" stroke-linejoin="round"/>
<path d="M178.48,83.00L180.75,82.74L183.50,82.27L186.50,81.65L190.00,80.79L192.75,80.04L195.00,79.32L197.00,78.55L198.50,77.82L199.75,77.02L200.65,76.25L201.30,75.50L201.89,74.50L202.22,73.50L202.32,72.50L202.19,71.50L201.75,70.37L201.00,69.33L200.00,68.49L198.75,67.82L197.00,67.30L195.25,67.08L193.25,67.05L191.00,67.22L188.00,67.61L182.00,68.60L177.25,69.50L173.75,70.32L171.00,71.16L168.75,72.10L166.75,73.28L166.00,73.86L165.25,74.57L164.70,75.25L164.24,76.00L163.87,77.00L163.75,77.75L163.81,78.75L164.04,79.50L164.46,80.25L165.00,80.86L165.75,81.44L166.50,81.85L167.50,82.24L168.75,82.59L171.50,83.02L175.00,83.17L178.48,83.00" fill="none" stroke="#4c4c4c" stroke-width="0.45" stroke-linejoin="round"/>
<path d="M177.60,82.75L179.75,82.53L182.25,82.14L188.25,80.84L194.00,79.25L196.00,78.54L197.75,77.78L199.00,77.07L200.07,76.25L200.79,75.50L201.42,74.50L201.77,73.50L201.86,72.50L201.70,71.50L201.40,70.75L200.69,69.75L199.75,68.95L198.50,68.29L197.00,67.84L195.25,67.62L193.50,67.59L191.25,67.74L188.50,68.10L182.25,69.13L177.25,70.05L173.75,70.84L171.00,71.64L168.75,72.54L166.75,73.67L166.00,74.24L165.25,74.96L164.75,75.60L164.38,76.25L164.10,77.00L163.98,77.75L164.01,78.50L164.19,79.25L164.57,80.00L165.00,80.54L165.75,81.16L166.50,81.58L167.50,81.98L168.50,82.27L171.00,82.69L174.25,82.86L177.60,82.75" fill="none" stroke="#4a4a4a" stroke-width="0.45" stroke-linejoin="round"/>
<path d="M176.55,82.50L178.50,82.34L180.75,82.04L186.25,80.91L192.75,79.22L195.25,78.41L197.00,77.71L198.25,77.08L199.25,76.43L200.25,75.54L200.85,74.75L201.21,74.00L201.43,73.00L201.38,72.00L201.14,71.25L200.51,70.25L199.75,69.54L198.50,68.83L197.25,68.43L195.75,68.19L194.00,68.12L192.00,68.23L189.75,68.49L184.75,69.28L177.50,70.56L174.00,71.30L171.25,72.04L169.00,72.86L167.00,73.89L166.25,74.41L165.50,75.07L165.00,75.66L164.63,76.25L164.41,76.75L164.23,77.50L164.20,78.25L164.33,79.00L164.66,79.75L165.03,80.25L165.50,80.70L166.25,81.19L167.00,81.53L168.00,81.87L170.50,82.35L173.25,82.55L176.55,82.50" fill="none" stroke="#494949" stroke-width="0.45" stroke-linejoin="round"/>
<path d="M175.06,82.25L177.25,82.14L179.25,81.92L183.75,81.09L188.00,80.08L191.75,79.10L194.50,78.26L196.50,77.51L198.00,76.79L199.00,76.17L199.79,75.50L200.42,74.75L200.83,74.00L201.03,73.25L201.03,72.25L200.81,71.50L200.25,70.60L199.50,69.91L198.50,69.34L197.25,68.93L196.00,68.72L194.50,68.64L192.75,68.71L190.50,68.94L177.50,71.11L174.00,71.82L171.50,72.44L169.25,73.18L167.25,74.11L166.50,74.58L165.75,75.18L165.25,75.71L164.88,76.25L164.64,76.75L164.44,77.50L164.41,78.25L164.48,78.75L164.64,79.25L165.00,79.88L165.50,80.42L166.00,80.79L167.50,81.46L169.50,81.94L172.00,82.21L175.06,82.25" fill="none" stroke="#474747" stroke-width="0.45" stroke-linejoin="round"/>
<path d="M178.03,81.75L182.00,81.11L188.25,79.63L193.50,78.18L196.75,77.01L197.75,76.53L198.75,75.93L199.50,75.33L200.03,74.75L200.48,74.00L200.71,73.25L200.73,72.50L200.54,71.75L200.00,70.87L199.25,70.21L198.25,69.69L197.00,69.33L195.50,69.15L194.00,69.14L192.25,69.27L190.00,69.55L176.00,71.92L172.75,72.58L170.50,73.17L168.25,73.97L166.50,74.90L165.75,75.49L165.29,76.00L164.75,77.00L164.63,77.50L164.60,78.25L164.74,79.00L164.97,79.50L165.34,80.00L165.75,80.38L166.50,80.83L167.25,81.14L169.25,81.64L171.75,81.92L175.00,81.96L178.03,81.75" fill="none" stroke="#454545" stroke-width="0.45" stroke-linejoin="round"/>
<path d="M177.43,81.50L181.00,80.96L186.18,79.75L192.50,78.08L194.75,77.38L196.50,76.73L197.50,76.27L198.50,75.70L199.25,75.13L199.75,74.61L200.15,74.00L200.41,73.25L200.43,72.50L200.31,72.00L199.88,71.25L199.25,70.65L198.25,70.12L197.25,69.82L196.00,69.65L194.50,69.62L191.00,69.95L175.50,72.53L172.75,73.06L170.50,73.59L168.25,74.32L166.75,75.04L166.00,75.57L165.55,76.00L165.18,76.50L164.95,77.00L164.82,77.50L164.78,78.25L165.03,79.25L165.35,79.75L165.75,80.14L166.25,80.47L167.00,80.81L169.00,81.34L171.50,81.64L174.50,81.68L177.43,81.50" fill="none" stroke="#434343" stroke-width="0.45" stroke-linejoin="round"/>
<path d="M176.87,81.25L180.00,80.81L183.65,80.00L192.00,77.83L194.50,77.08L196.25,76.45L198.25,75.48L199.00,74.95L199.50,74.47L199.85,74.00L200.15,73.25L200.17,72.50L200.02,72.00L199.71,71.50L199.00,70.88L198.25,70.51L197.25,70.23L196.25,70.10L195.00,70.07L191.75,70.37L182.75,71.90L174.25,73.25L170.25,74.06L168.25,74.66L166.75,75.33L165.75,76.07L165.39,76.50L165.13,77.00L164.99,77.50L164.95,78.25L165.03,78.75L165.22,79.25L165.50,79.67L166.00,80.11L167.00,80.59L169.00,81.10L171.25,81.36L173.75,81.41L176.87,81.25" fill="none" stroke="#414141" stroke-width="0.45" stroke-linejoin="round"/>
<path d="M176.32,81.00L179.00,80.67L182.25,79.98L191.75,77.51L196.00,76.17L198.00,75.27L198.75,74.79L199.25,74.36L199.71,73.75L199.91,73.25L199.96,72.75L199.86,72.25L199.50,71.65L199.00,71.23L198.25,70.86L197.50,70.66L196.50,70.53L195.25,70.51L192.25,70.80L183.00,72.43L172.75,73.97L169.75,74.57L167.75,75.15L166.50,75.74L165.75,76.33L165.43,76.75L165.21,77.25L165.11,78.25L165.19,78.75L165.39,79.25L166.00,79.91L167.00,80.38L169.00,80.86L171.00,81.08L173.25,81.14L176.32,81.00" fill="none" stroke="#3f3f3f" stroke-width="0.45" stroke-linejoin="round"/>
<path d="M175.81,80.75L178.50,80.44L181.25,79.88L191.75,77.12L195.75,75.91L197.75,75.07L199.00,74.26L199.45,73.75L199.70,73.25L199.76,72.75L199.64,72.25L199.27,71.75L199.00,71.53L198.25,71.18L197.50,71.00L195.75,70.91L193.25,71.14L183.25,72.95L172.50,74.45L169.50,74.98L168.00,75.35L166.75,75.83L165.81,76.50L165.36,77.25L165.27,78.25L165.41,79.00L165.74,79.50L166.00,79.72L166.75,80.10L168.75,80.58L170.50,80.80L172.75,80.88L175.81,80.75" fill="none" stroke="#3d3d3d" stroke-width="0.45" stroke-linejoin="round"/>
<path d="M175.16,80.50L177.75,80.25L180.50,79.72L192.00,76.67L195.50,75.63L197.50,74.87L198.75,74.16L199.38,73.50L199.57,73.00L199.54,72.50L199.25,72.01L199.00,71.80L198.00,71.41L196.50,71.28L194.25,71.46L183.00,73.55L171.50,75.01L169.00,75.41L167.50,75.77L166.50,76.19L165.79,76.75L165.51,77.25L165.41,78.25L165.55,79.00L166.00,79.55L166.75,79.92L168.75,80.36L170.25,80.54L172.50,80.62L175.16,80.50" fill="none" stroke="#3b3b3b" stroke-width="0.45" stroke-linejoin="round"/>
<path d="M174.58,80.25L177.25,80.04L180.12,79.50L195.25,75.37L197.50,74.57L198.75,73.90L199.00,73.70L199.33,73.25L199.42,73.00L199.39,72.50L199.00,72.02L198.00,71.68L196.75,71.61L195.00,71.78L192.75,72.17L186.25,73.54L183.00,74.10L179.25,74.60L170.75,75.48L168.25,75.84L167.25,76.08L166.50,76.39L166.00,76.71L165.63,77.25L165.55,78.25L165.67,79.00L166.00,79.40L166.50,79.68L169.00,80.18L170.00,80.29L172.50,80.37L174.58,80.25" fill="none" stroke="#393939" stroke-width="0.45" stroke-linejoin="round"/>
<path d="M173.99,80.00L176.50,79.86L178.00,79.64L180.00,79.21L185.75,77.54L195.25,75.02L197.25,74.38L198.75,73.67L199.00,73.46L199.25,73.06L199.25,72.50L199.00,72.20L198.00,71.93L197.25,71.91L195.75,72.06L193.46,72.50L186.50,74.06L182.75,74.71L179.50,75.12L175.50,75.51L170.25,75.89L167.75,76.19L167.00,76.35L166.25,76.69L166.00,76.88L165.76,77.25L165.68,78.00L165.78,79.00L166.00,79.26L166.50,79.54L169.75,80.05L172.50,80.11L173.99,80.00" fill="none" stroke="#373737" stroke-width="0.45" stroke-linejoin="round"/>
<path d="M173.65,79.75L176.50,79.59L179.00,79.14L180.75,78.69L185.75,77.14L196.25,74.40L197.25,74.10L198.75,73.47L199.00,73.26L199.16,73.00L199.15,72.50L199.00,72.33L198.00,72.17L197.50,72.16L196.50,72.31L193.75,72.90L187.50,74.42L184.00,75.10L180.00,75.62L176.00,75.97L170.00,76.26L167.50,76.45L167.00,76.53L166.25,76.83L165.86,77.25L165.81,78.00L165.87,79.00L166.00,79.15L166.50,79.41L169.75,79.82L172.50,79.86L173.65,79.75" fill="none" stroke="#353535" stroke-width="0.45" stroke-linejoin="round"/>
<path d="M173.37,79.50L173.50,79.37L173.75,79.34L176.50,79.31L176.75,79.12L178.00,79.06L178.25,78.87L179.00,78.81L179.25,78.63L180.00,78.56L180.25,78.38L180.75,78.32L181.00,78.13L181.50,78.07L181.75,77.89L182.25,77.82L182.50,77.64L183.00,77.58L183.25,77.40L183.75,77.33L184.00,77.15L184.50,77.08L184.75,76.91L185.25,76.83L185.50,76.66L186.25,76.58L186.50,76.41L186.75,76.36L187.25,76.33L187.50,76.16L188.25,76.08L188.50,75.91L189.25,75.83L189.50,75.66L190.25,75.58L190.50,75.41L191.25,75.33L191.50,75.15L192.25,75.08L192.50,74.90L193.25,74.82L193.50,74.65L194.25,74.57L194.50,74.39L195.25,74.32L195.50,74.13L196.25,74.06L196.50,73.87L197.25,73.81L197.50,73.60L198.00,73.55L198.25,73.33L198.75,73.29L199.03,73.00L199.02,72.50L197.50,72.45L197.25,72.63L196.50,72.68L196.25,72.85L195.50,72.92L195.25,73.09L194.75,73.16L194.50,73.32L193.75,73.41L193.50,73.56L193.00,73.65L192.75,73.79L192.00,73.90L191.75,74.05L191.25,74.14L191.00,74.28L190.25,74.39L189.75,74.59L189.25,74.64L188.75,74.84L188.25,74.89L187.75,75.09L187.25,75.13L186.75,75.33L186.00,75.38L185.50,75.58L184.75,75.63L184.25,75.82L183.00,75.89L182.50,76.07L180.75,76.14L180.50,76.26L180.00,76.35L177.00,76.40L176.75,76.53L176.25,76.61L167.00,76.71L166.75,76.93L166.25,76.97L165.98,77.25L165.98,79.00L166.25,79.04L166.50,79.28L168.75,79.34L169.00,79.54L173.00,79.56L173.37,79.50" fill="none" stroke="#333333" stroke-width="0.45" stroke-linejoin="round"/>
<path d="M171.5,43.5 L188.5,43.5" stroke="#8a8a8a" stroke-width="0.7" stroke-dasharray="1.6 1.4" fill="none"/>
<path d="M168,78.1 L177,77.9 L186,76.1 L197,73.2" stroke="#9a9a9a" stroke-width="0.6" stroke-dasharray="1.4 1.6" fill="none"/>
<path d="M183.50,57.50C183.83,57.92 185.28,59.08 185.50,60.00C185.72,60.92 184.92,62.50 184.80,63.00" fill="none" stroke="#888888" stroke-width="0.45"/>
<path d="M189.00,57.30C189.25,57.75 190.33,59.13 190.50,60.00C190.67,60.87 190.08,62.08 190.00,62.50" fill="none" stroke="#888888" stroke-width="0.45"/>
<path d="M164.5,21.3 L233.5,11.9 L234.3,53.9 L160.8,62.8 L158.7,36.2 Z" fill="none" stroke="#231f20" stroke-width="0.9" stroke-linejoin="miter"/>
<rect x="203.6" y="12.2" width="23.80000000000001" height="21.3" fill="#fff" fill-opacity="0.95"/>
<text x="204.0" y="20.9" font-size="9.45" text-anchor="start" font-weight="normal" fill="#231f20" stroke="#231f20" stroke-width="0.22">EdU+</text>
<text x="207.6" y="31.8" font-size="9.45" text-anchor="start" font-weight="normal" fill="#231f20" stroke="#231f20" stroke-width="0.22">47.1</text>
<path d="M55.50,155.30C56.33,155.58 59.08,155.88 60.50,157.00C61.92,158.12 62.75,160.75 64.00,162.00C65.25,163.25 64.50,163.75 68.00,164.50C71.50,165.25 80.33,166.05 85.00,166.50C89.67,166.95 93.67,166.78 96.00,167.20C98.33,167.62 98.40,168.37 99.00,169.00C99.60,169.63 99.50,170.67 99.60,171.00" fill="none" stroke="#666666" stroke-width="0.45"/>
<path d="M55.50,159.00C56.42,159.33 59.42,159.83 61.00,161.00C62.58,162.17 62.67,164.83 65.00,166.00C67.33,167.17 70.50,167.50 75.00,168.00C79.50,168.50 88.08,168.58 92.00,169.00C95.92,169.42 97.42,170.25 98.50,170.50" fill="none" stroke="#666666" stroke-width="0.45"/>
<path d="M55.50,165.00C56.58,165.50 59.58,167.17 62.00,168.00C64.42,168.83 67.00,169.53 70.00,170.00C73.00,170.47 78.33,170.67 80.00,170.80" fill="none" stroke="#777777" stroke-width="0.45"/>
<path d="M60.09,191.75L60.25,191.69L62.75,191.67L63.00,191.46L64.25,191.43L64.50,191.22L66.00,191.19L66.25,190.97L67.75,190.94L68.00,190.72L77.00,190.72L77.25,190.94L79.50,190.97L80.75,190.94L81.00,190.72L85.00,190.69L85.25,190.47L87.25,190.43L87.50,190.22L88.75,190.18L89.00,189.96L90.00,189.92L90.25,189.71L91.25,189.66L91.50,189.45L92.00,189.41L92.25,189.20L92.75,189.15L93.00,188.94L93.25,188.90L93.50,188.69L94.00,188.62L94.50,188.18L94.75,188.14L95.00,187.92L95.25,187.87L96.15,187.00L96.50,186.85L97.10,186.25L97.16,186.00L98.09,185.00L98.16,184.75L98.58,184.25L99.31,182.75L99.40,182.25L99.62,181.75L99.65,181.25L99.85,180.75L99.88,178.50L99.83,177.00L99.24,175.00L98.98,174.50L98.24,173.50L97.25,172.75L96.75,172.48L95.75,172.13L95.25,172.09L95.00,171.92L93.25,171.81L93.00,171.62L92.75,171.58L68.50,171.52L68.25,171.29L66.50,171.27L66.25,171.04L65.00,171.02L64.75,170.80L63.50,170.77L63.25,170.55L61.75,170.53L61.50,170.31L58.75,170.31L58.50,170.34L58.25,170.54L57.50,170.60L57.25,170.81L57.00,170.86L55.59,172.25L55.55,172.50L55.33,172.75L55.29,173.25L55.07,173.50L55.03,174.00L54.81,174.25L54.77,175.25L54.55,175.50L54.52,176.75L54.29,177.00L54.31,185.00L54.53,185.25L54.58,186.75L54.79,187.00L54.84,187.75L55.05,188.00L55.11,188.50L55.31,188.75L55.38,189.25L55.58,189.50L55.64,189.75L55.84,190.00L55.92,190.25L56.75,191.07L57.25,191.33L57.75,191.42L58.00,191.59L58.25,191.64L59.50,191.69L59.75,191.84L60.00,191.84L60.09,191.75" fill="none" stroke="#8a8a8a" stroke-width="0.42" stroke-linejoin="round"/>
<path d="M62.83,191.00L68.50,190.38L76.25,190.37L77.75,190.53L79.00,190.56L80.25,190.52L81.25,190.37L84.25,190.27L86.75,189.96L88.50,189.64L90.75,189.08L92.00,188.63L93.75,187.75L95.25,186.64L96.54,185.25L97.07,184.50L97.63,183.50L98.28,181.75L98.55,180.00L98.46,178.00L98.24,177.00L97.98,176.25L97.61,175.50L97.08,174.75L96.50,174.15L95.75,173.59L95.00,173.18L94.00,172.79L92.50,172.37L91.50,172.20L89.00,171.98L85.50,171.86L68.75,171.76L67.75,171.58L66.50,171.50L63.00,170.96L61.00,170.78L59.25,170.88L57.92,171.25L57.25,171.60L56.75,172.00L56.27,172.50L55.92,173.00L55.25,174.50L54.58,177.25L54.47,179.50L54.56,183.00L54.70,184.50L55.10,186.25L55.52,187.50L56.15,188.75L56.75,189.55L57.50,190.18L58.50,190.65L59.75,190.94L61.50,191.06L62.83,191.00" fill="none" stroke="#898989" stroke-width="0.42" stroke-linejoin="round"/>
<path d="M64.49,190.25L69.00,189.91L75.50,189.92L79.00,190.05L83.75,189.78L86.25,189.47L87.75,189.19L89.50,188.74L91.00,188.21L92.75,187.31L94.16,186.25L95.31,185.00L96.25,183.50L96.82,182.00L97.11,180.25L97.02,178.50L96.59,177.00L96.06,176.00L95.49,175.25L94.75,174.56L93.94,174.00L92.95,173.50L91.75,173.07L89.25,172.57L86.75,172.34L83.75,172.22L69.00,172.08L63.00,171.42L61.50,171.34L60.00,171.41L58.50,171.79L57.75,172.16L57.25,172.51L56.75,172.99L56.25,173.64L55.50,175.17L54.91,177.25L54.72,179.25L54.79,181.75L55.07,184.00L55.50,185.54L56.00,186.78L56.75,188.02L57.50,188.85L58.50,189.53L59.72,190.00L61.00,190.24L62.50,190.33L64.49,190.25" fill="none" stroke="#878787" stroke-width="0.42" stroke-linejoin="round"/>
<path d="M79.61,189.50L84.25,189.18L86.25,188.88L88.00,188.49L89.54,188.00L91.00,187.36L92.25,186.59L93.27,185.75L94.35,184.50L95.08,183.25L95.55,182.00L95.80,180.50L95.73,179.00L95.42,177.75L94.80,176.50L93.99,175.50L92.73,174.50L91.25,173.77L89.50,173.25L87.25,172.88L85.00,172.69L82.25,172.59L69.25,172.44L62.50,171.88L60.50,171.95L59.50,172.15L58.75,172.42L58.00,172.81L57.50,173.17L57.00,173.65L56.50,174.28L55.73,175.75L55.14,177.75L54.98,179.75L55.13,182.00L55.54,184.00L56.25,185.79L56.75,186.65L57.25,187.32L57.75,187.84L58.50,188.44L59.25,188.86L60.31,189.25L61.50,189.50L62.75,189.62L64.75,189.63L70.00,189.41L79.61,189.50" fill="none" stroke="#868686" stroke-width="0.42" stroke-linejoin="round"/>
<path d="M82.16,188.75L84.25,188.55L86.00,188.27L87.50,187.91L89.00,187.40L90.38,186.75L91.50,186.02L92.39,185.25L93.23,184.25L93.83,183.25L94.31,182.00L94.54,180.75L94.52,179.50L94.25,178.25L93.75,177.14L93.00,176.11L92.05,175.25L90.81,174.50L89.25,173.90L87.50,173.49L85.50,173.23L81.00,173.01L69.50,172.86L64.00,172.47L62.25,172.43L60.25,172.65L59.25,172.95L58.50,173.31L57.75,173.82L57.06,174.50L56.50,175.27L56.10,176.00L55.55,177.50L55.29,179.25L55.38,181.25L55.75,183.03L56.43,184.75L57.25,186.06L58.25,187.12L59.59,188.00L60.50,188.38L61.50,188.65L62.75,188.84L64.00,188.93L70.75,188.83L78.75,188.92L82.16,188.75" fill="none" stroke="#848484" stroke-width="0.42" stroke-linejoin="round"/>
<path d="M80.17,188.25L84.25,187.90L85.75,187.64L87.25,187.26L88.50,186.81L89.75,186.19L90.77,185.50L91.60,184.75L92.40,183.75L92.94,182.75L93.28,181.75L93.46,180.50L93.37,179.25L93.08,178.25L92.58,177.25L91.75,176.23L90.50,175.26L89.00,174.54L87.25,174.05L85.25,173.74L81.50,173.50L70.00,173.32L63.00,172.97L61.75,173.03L60.75,173.18L59.75,173.45L59.00,173.77L58.25,174.22L57.50,174.86L56.95,175.50L56.34,176.50L55.79,178.00L55.59,179.50L55.68,181.00L56.12,182.75L56.75,184.14L57.75,185.55L58.75,186.48L60.00,187.25L61.00,187.65L62.00,187.92L63.25,188.12L64.50,188.22L80.17,188.25" fill="none" stroke="#838383" stroke-width="0.42" stroke-linejoin="round"/>
<path d="M81.23,187.50L84.50,187.15L86.00,186.84L87.25,186.47L88.50,185.95L89.50,185.38L90.32,184.75L91.06,184.00L91.74,183.00L92.17,182.00L92.39,181.00L92.42,180.00L92.25,179.00L91.87,178.00L91.20,177.00L90.44,176.25L89.32,175.50L88.00,174.93L86.25,174.48L84.25,174.21L80.50,173.99L70.25,173.82L64.75,173.57L63.00,173.57L61.75,173.66L60.50,173.90L59.50,174.25L58.75,174.64L58.00,175.18L57.25,175.96L56.75,176.68L56.34,177.50L56.00,178.75L55.92,180.00L56.16,181.50L56.63,182.75L57.25,183.84L58.25,185.03L59.50,186.01L60.75,186.64L61.75,186.98L62.75,187.21L65.50,187.50L77.75,187.61L81.23,187.50" fill="none" stroke="#818181" stroke-width="0.42" stroke-linejoin="round"/>
<path d="M81.54,186.75L84.50,186.40L85.75,186.14L87.00,185.76L88.00,185.33L89.00,184.75L89.75,184.16L90.37,183.50L90.88,182.75L91.31,181.75L91.47,181.00L91.50,180.00L91.31,179.00L91.00,178.25L90.50,177.48L89.75,176.71L88.70,176.00L87.25,175.39L85.75,175.02L83.75,174.75L79.75,174.53L63.25,174.17L62.00,174.27L61.00,174.44L60.00,174.73L59.00,175.20L58.25,175.71L57.50,176.43L56.92,177.25L56.50,178.18L56.28,179.25L56.32,180.50L56.67,181.75L57.25,182.86L58.00,183.82L59.00,184.73L60.25,185.51L61.50,186.02L62.50,186.30L63.75,186.53L66.50,186.75L77.25,186.88L81.54,186.75" fill="none" stroke="#808080" stroke-width="0.42" stroke-linejoin="round"/>
<path d="M81.72,186.00L84.50,185.66L86.50,185.16L87.50,184.76L88.25,184.36L89.00,183.82L89.59,183.25L90.14,182.50L90.49,181.75L90.68,181.00L90.73,180.25L90.57,179.25L90.27,178.50L89.77,177.75L89.25,177.22L88.25,176.52L87.00,175.98L85.50,175.60L83.50,175.32L79.00,175.08L63.50,174.77L62.25,174.86L61.00,175.07L60.00,175.37L59.00,175.84L58.25,176.36L57.60,177.00L57.08,177.75L56.76,178.50L56.58,179.50L56.66,180.50L57.00,181.51L57.60,182.50L58.50,183.49L59.50,184.24L60.75,184.90L62.00,185.34L64.25,185.79L67.25,186.00L77.25,186.14L81.72,186.00" fill="none" stroke="#7e7e7e" stroke-width="0.42" stroke-linejoin="round"/>
<path d="M81.45,185.25L84.00,184.99L86.00,184.56L87.00,184.20L87.75,183.84L88.87,183.00L89.31,182.50L89.75,181.75L89.92,181.25L90.04,180.50L89.98,179.75L89.85,179.25L89.48,178.50L89.00,177.89L88.00,177.12L86.75,176.56L85.25,176.18L83.25,175.91L78.50,175.66L63.75,175.39L62.50,175.46L61.25,175.64L60.25,175.90L59.25,176.32L58.50,176.78L57.75,177.46L57.36,178.00L57.03,178.75L56.90,179.50L57.01,180.50L57.44,181.50L58.00,182.24L58.75,182.94L59.75,183.61L61.00,184.19L62.25,184.58L64.50,184.99L67.75,185.21L76.75,185.36L81.45,185.25" fill="none" stroke="#7d7d7d" stroke-width="0.42" stroke-linejoin="round"/>
<path d="M81.03,184.50L83.50,184.32L85.50,183.97L87.00,183.48L88.23,182.75L88.74,182.25L89.09,181.75L89.43,180.75L89.43,180.00L89.32,179.50L89.10,179.00L88.76,178.50L88.00,177.81L86.75,177.19L85.25,176.80L83.25,176.52L80.50,176.34L74.75,176.17L64.00,176.00L61.50,176.20L60.50,176.41L59.50,176.76L58.75,177.14L58.00,177.74L57.60,178.25L57.27,179.00L57.19,179.75L57.34,180.50L57.72,181.25L58.25,181.87L59.00,182.46L60.00,183.03L61.00,183.43L62.25,183.79L64.50,184.17L67.50,184.38L76.00,184.56L81.03,184.50" fill="none" stroke="#7b7b7b" stroke-width="0.42" stroke-linejoin="round"/>
<path d="M83.90,183.50L85.50,183.24L86.75,182.88L87.75,182.38L88.44,181.75L88.84,181.00L88.94,180.50L88.91,180.00L88.65,179.25L88.00,178.48L87.25,178.02L86.00,177.60L84.50,177.32L82.25,177.08L73.50,176.78L63.25,176.67L61.00,176.89L60.00,177.12L59.25,177.39L58.50,177.80L58.00,178.25L57.68,178.75L57.51,179.25L57.51,180.00L57.67,180.50L58.00,181.03L58.75,181.70L59.50,182.13L60.50,182.54L61.75,182.89L63.00,183.14L64.75,183.35L66.75,183.48L75.25,183.70L81.00,183.69L83.90,183.50" fill="none" stroke="#7a7a7a" stroke-width="0.42" stroke-linejoin="round"/>
<path d="M84.50,182.75L85.75,182.55L86.75,182.30L87.50,181.98L88.11,181.50L88.29,181.25L88.50,180.75L88.51,180.00L88.25,179.37L87.75,178.83L87.00,178.42L86.00,178.14L84.50,177.91L82.00,177.66L73.50,177.37L62.75,177.27L60.75,177.45L59.75,177.66L59.00,177.91L58.50,178.18L58.15,178.50L57.83,179.00L57.71,179.50L57.75,180.00L58.00,180.56L58.50,181.08L59.00,181.39L59.75,181.71L60.75,182.01L63.00,182.41L66.50,182.67L75.75,182.91L81.75,182.93L84.50,182.75" fill="none" stroke="#787878" stroke-width="0.42" stroke-linejoin="round"/>
<path d="M84.77,182.00L86.75,181.72L87.25,181.58L87.75,181.31L88.02,181.00L88.18,180.50L88.14,180.00L87.88,179.50L87.25,179.01L86.50,178.80L82.25,178.34L76.75,178.20L74.00,178.05L62.50,177.90L60.25,178.05L58.75,178.38L58.25,178.78L58.00,179.21L57.95,179.50L57.98,180.00L58.09,180.25L58.50,180.67L59.00,180.96L60.50,181.33L62.50,181.58L65.50,181.75L72.00,181.87L75.50,182.02L82.25,182.11L84.77,182.00" fill="none" stroke="#777777" stroke-width="0.42" stroke-linejoin="round"/>
<path d="M83.21,187.25L86.00,187.21L86.25,186.98L87.75,186.96L88.00,186.73L88.75,186.70L89.00,186.47L89.50,186.45L89.75,186.22L90.00,186.20L90.25,185.97L90.50,185.95L90.75,185.71L91.00,185.69L91.69,185.00L91.71,184.75L92.19,184.25L92.22,184.00L92.45,183.75L92.47,183.50L92.69,183.25L92.72,182.75L92.95,182.50L92.97,182.00L93.19,181.75L93.21,181.50L93.19,178.50L92.97,178.25L92.93,177.50L92.71,177.25L92.69,177.00L92.46,176.75L92.44,176.50L92.21,176.25L92.18,176.00L91.00,174.82L90.75,174.79L90.50,174.56L90.25,174.54L90.00,174.31L89.25,174.28L89.00,174.05L88.25,174.02L88.00,173.80L86.25,173.77L86.00,173.54L83.00,173.52L82.75,173.29L80.75,173.27L77.50,173.29L77.25,173.52L76.50,173.55L76.25,173.78L76.00,173.80L74.03,175.75L74.01,176.00L73.52,176.50L73.51,176.75L73.02,177.25L73.01,177.50L72.76,177.75L72.76,178.00L72.51,178.25L72.50,178.75L72.25,179.00L72.25,179.50L72.00,179.75L72.00,180.75L71.75,181.00L72.00,181.25L72.01,182.25L72.26,182.50L72.26,182.75L72.51,183.00L72.52,183.25L72.76,183.50L72.77,183.75L75.25,186.21L75.50,186.23L76.00,186.71L76.50,186.73L76.75,186.96L77.25,186.98L77.50,187.21L79.00,187.23L79.25,187.46L83.00,187.46L83.21,187.25" fill="none" stroke="#666666" stroke-width="0.42" stroke-linejoin="round"/>
<path d="M83.88,186.50L85.25,186.39L86.75,186.14L88.50,185.63L89.28,185.25L90.00,184.78L90.50,184.33L90.97,183.75L91.42,183.00L91.81,182.00L91.98,181.25L92.06,180.25L91.97,179.25L91.80,178.50L91.50,177.73L91.00,176.89L90.50,176.32L90.00,175.89L88.75,175.21L87.25,174.73L85.00,174.36L81.50,174.08L78.75,174.15L77.75,174.30L77.00,174.51L76.25,174.84L75.50,175.33L74.75,175.95L73.50,177.31L72.75,178.37L72.62,178.75L72.38,179.00L72.28,179.50L72.03,179.75L72.03,180.75L71.78,181.00L72.06,181.25L72.25,182.06L73.00,183.20L73.75,184.01L75.25,185.20L76.25,185.76L77.25,186.13L78.25,186.37L80.25,186.63L82.00,186.65L83.88,186.50" fill="none" stroke="#666666" stroke-width="0.42" stroke-linejoin="round"/>
<path d="M84.98,185.50L87.00,185.08L88.00,184.70L88.75,184.28L89.42,183.75L89.89,183.25L90.37,182.50L90.68,181.75L90.85,181.00L90.88,180.00L90.75,179.25L90.49,178.50L90.06,177.75L89.50,177.11L88.75,176.52L88.00,176.11L87.00,175.73L85.75,175.43L82.75,175.07L80.00,175.02L78.75,175.13L77.75,175.31L76.25,175.86L74.75,176.80L73.25,178.15L72.50,179.03L72.31,179.50L72.06,179.75L72.06,180.75L71.81,181.00L72.13,181.25L72.50,182.00L73.25,182.84L74.00,183.48L75.00,184.15L76.00,184.69L77.75,185.29L80.00,185.66L82.25,185.72L84.98,185.50" fill="none" stroke="#666666" stroke-width="0.42" stroke-linejoin="round"/>
<path d="M84.77,184.50L86.50,184.14L87.25,183.88L88.00,183.49L88.50,183.13L89.00,182.63L89.42,182.00L89.64,181.50L89.80,180.75L89.78,180.00L89.59,179.25L89.35,178.75L89.00,178.25L88.50,177.75L87.75,177.24L87.00,176.89L86.00,176.58L85.00,176.37L82.50,176.09L80.00,176.07L78.00,176.31L76.25,176.83L74.75,177.57L73.50,178.39L72.50,179.19L72.35,179.50L72.10,179.75L72.10,180.75L71.85,181.00L72.21,181.25L72.75,181.86L73.75,182.61L74.75,183.18L76.00,183.73L78.00,184.30L80.00,184.60L82.25,184.68L84.77,184.50" fill="none" stroke="#666666" stroke-width="0.42" stroke-linejoin="round"/>
<path d="M52.22,191.00L53.25,190.96L53.50,190.72L53.75,190.70L54.25,190.22L54.50,190.18L54.68,190.00L54.72,189.75L55.19,189.25L55.22,188.75L55.45,188.50L55.48,186.75L55.71,186.50L55.74,180.75L55.97,180.50L55.98,180.00L55.96,158.75L55.73,158.50L55.71,155.50L55.69,155.25L55.47,155.00L55.42,153.50L55.21,153.25L55.14,152.50L54.94,152.25L54.90,152.00L54.68,151.75L54.64,151.50L54.42,151.25L54.37,151.00L54.15,150.75L54.08,150.50L53.50,149.94L52.50,149.42L52.00,149.34L51.75,149.18L51.00,149.10L49.25,149.12L49.00,149.18L48.75,149.34L48.25,149.42L47.75,149.67L46.38,151.00L46.33,151.25L46.11,151.50L46.07,151.75L45.86,152.00L45.79,152.75L45.57,153.00L45.53,154.00L45.30,154.25L45.26,156.50L45.03,156.75L45.02,157.25L45.02,185.75L45.26,186.00L45.28,188.50L45.52,188.75L45.53,189.25L46.02,189.75L46.03,190.00L46.50,190.47L46.75,190.48L47.00,190.72L47.25,190.73L47.50,190.97L48.50,190.99L48.75,191.23L52.00,191.22L52.22,191.00" fill="none" stroke="#3a3a3a" stroke-width="0.55" stroke-linejoin="round"/>
<path d="M51.60,191.00L53.25,190.49L53.96,190.00L54.43,189.50L54.75,189.00L55.04,188.25L55.42,186.00L55.52,181.00L55.70,180.00L55.73,179.00L55.69,159.75L55.47,158.25L55.27,155.75L54.83,154.00L54.25,152.65L53.50,151.63L53.00,151.17L52.50,150.85L51.50,150.45L50.25,150.31L49.25,150.43L48.25,150.80L47.50,151.32L46.86,152.00L46.25,153.08L45.75,154.50L45.46,156.50L45.31,157.00L45.19,161.00L45.21,185.00L45.25,185.50L45.41,186.00L45.55,188.25L45.93,189.25L46.50,190.03L47.50,190.66L48.50,190.86L49.00,191.05L50.25,191.09L51.60,191.00" fill="none" stroke="#373737" stroke-width="0.55" stroke-linejoin="round"/>
<path d="M51.34,190.75L52.00,190.56L53.00,190.11L53.49,189.75L53.96,189.25L54.29,188.75L54.60,188.00L55.00,186.00L55.37,178.50L55.34,160.75L55.24,159.25L54.79,156.25L54.41,155.00L53.96,154.00L53.25,153.01L52.25,152.19L51.25,151.78L50.00,151.66L49.00,151.85L48.25,152.19L47.50,152.77L47.00,153.35L46.50,154.18L46.16,155.00L45.58,157.50L45.48,159.00L45.44,161.75L45.46,184.50L45.84,188.00L46.20,189.00L46.73,189.75L47.25,190.17L47.75,190.45L49.00,190.81L50.00,190.88L51.34,190.75" fill="none" stroke="#353535" stroke-width="0.55" stroke-linejoin="round"/>
<path d="M51.14,190.50L51.88,190.25L52.50,189.93L53.07,189.50L53.53,189.00L53.85,188.50L54.17,187.75L54.61,185.75L54.98,178.25L54.95,161.50L54.82,159.50L54.50,157.47L54.19,156.25L53.65,155.00L52.93,154.00L52.00,153.25L51.00,152.85L50.00,152.75L49.25,152.86L48.50,153.16L47.75,153.68L47.25,154.21L46.88,154.75L46.50,155.51L46.10,156.75L45.89,157.75L45.77,159.25L45.71,162.00L45.74,184.25L45.80,185.25L46.12,187.75L46.47,188.75L46.97,189.50L47.75,190.12L49.00,190.58L50.00,190.65L51.14,190.50" fill="none" stroke="#323232" stroke-width="0.55" stroke-linejoin="round"/>
<path d="M51.29,190.25L52.00,189.93L52.62,189.50L53.12,189.00L53.47,188.50L53.99,187.25L54.34,185.50L54.71,178.00L54.67,161.75L54.54,159.75L54.27,158.00L53.87,156.50L53.41,155.50L52.75,154.58L52.00,153.95L51.00,153.49L50.00,153.37L49.50,153.42L48.75,153.65L48.00,154.10L47.50,154.57L47.00,155.25L46.63,156.00L46.30,157.00L46.09,158.00L45.95,159.75L45.91,162.50L45.94,184.25L46.03,185.50L46.35,187.75L46.73,188.75L47.25,189.47L48.00,190.04L49.00,190.41L50.25,190.48L51.29,190.25" fill="none" stroke="#303030" stroke-width="0.55" stroke-linejoin="round"/>
<path d="M51.01,190.00L51.53,189.75L52.21,189.25L52.67,188.75L53.00,188.25L53.52,187.00L53.86,185.25L54.00,183.50L54.21,178.00L54.18,162.50L54.08,160.50L53.90,159.00L53.55,157.50L53.17,156.50L52.52,155.50L51.75,154.80L51.00,154.42L50.00,154.25L49.25,154.35L48.75,154.53L48.00,155.01L47.53,155.50L47.19,156.00L46.84,156.75L46.61,157.50L46.42,158.50L46.31,160.00L46.26,162.75L46.28,183.75L46.39,185.50L46.62,187.25L46.91,188.25L47.33,189.00L48.11,189.75L49.00,190.14L50.00,190.23L51.01,190.00" fill="none" stroke="#2d2d2d" stroke-width="0.55" stroke-linejoin="round"/>
<path d="M50.86,189.75L51.31,189.50L51.91,189.00L52.61,188.00L53.15,186.50L53.43,184.75L53.73,177.50L53.69,162.50L53.58,160.50L53.38,159.00L53.07,157.75L52.64,156.75L52.13,156.00L51.50,155.43L50.75,155.05L49.75,154.92L48.75,155.19L48.25,155.50L47.75,156.00L47.42,156.50L47.09,157.25L46.88,158.00L46.73,159.00L46.60,163.50L46.63,183.75L46.73,185.50L46.93,187.00L47.19,188.00L47.55,188.75L48.24,189.50L49.00,189.89L49.50,189.99L50.00,189.98L50.86,189.75" fill="none" stroke="#2b2b2b" stroke-width="0.55" stroke-linejoin="round"/>
<path d="M50.01,189.75L50.50,189.62L51.00,189.34L51.41,189.00L51.83,188.50L52.44,187.25L52.72,186.25L52.88,185.25L53.06,183.00L53.22,178.50L53.24,165.50L53.19,162.50L53.07,160.50L52.86,159.00L52.52,157.75L52.02,156.75L51.33,156.00L50.50,155.56L49.75,155.46L49.25,155.54L48.75,155.74L48.25,156.10L47.90,156.50L47.40,157.50L47.10,159.00L46.95,163.00L46.96,182.00L47.10,185.75L47.27,187.00L47.54,188.00L47.91,188.75L48.50,189.38L49.25,189.72L50.01,189.75" fill="none" stroke="#282828" stroke-width="0.55" stroke-linejoin="round"/>
<path d="M50.26,189.50L51.05,189.00L51.46,188.50L51.75,188.00L52.27,186.50L52.54,184.75L52.69,182.25L52.80,177.75L52.80,164.00L52.73,161.75L52.59,160.00L52.38,158.75L52.08,157.75L51.70,157.00L51.00,156.25L50.50,155.97L49.75,155.83L49.25,155.91L48.75,156.13L48.10,156.75L47.64,157.75L47.38,159.25L47.25,163.50L47.27,183.00L47.45,186.25L47.66,187.50L47.91,188.25L48.38,189.00L49.00,189.46L49.75,189.60L50.26,189.50" fill="none" stroke="#262626" stroke-width="0.55" stroke-linejoin="round"/>
<path d="M50.27,189.25L50.87,188.75L51.41,187.75L51.81,186.25L52.02,184.50L52.23,177.50L52.22,163.75L52.06,160.25L51.88,159.00L51.63,158.00L51.29,157.25L50.89,156.75L50.25,156.34L49.75,156.25L49.00,156.43L48.38,157.00L47.97,158.00L47.76,159.50L47.66,163.75L47.68,183.00L47.83,186.25L48.02,187.50L48.25,188.25L48.51,188.75L49.00,189.22L49.25,189.33L49.75,189.39L50.27,189.25" fill="none" stroke="#232323" stroke-width="0.55" stroke-linejoin="round"/>
<path d="M50.35,189.00L50.59,188.75L50.87,188.25L51.20,187.25L51.46,185.75L51.61,184.00L51.75,177.00L51.73,163.25L51.58,160.00L51.40,158.75L51.21,158.00L51.01,157.50L50.69,157.00L50.25,156.66L49.75,156.54L49.25,156.60L49.00,156.73L48.54,157.25L48.23,158.25L48.09,159.50L48.00,163.75L48.02,183.50L48.19,186.75L48.36,187.75L48.60,188.50L48.96,189.00L49.25,189.17L50.00,189.19L50.35,189.00" fill="none" stroke="#212121" stroke-width="0.55" stroke-linejoin="round"/>
<path d="M50.08,189.00L50.37,188.75L50.80,187.50L51.03,186.00L51.15,184.25L51.27,177.50L51.26,164.00L51.15,160.25L50.90,158.25L50.54,157.25L50.25,156.94L49.75,156.77L49.25,156.83L48.80,157.25L48.57,158.00L48.41,159.50L48.35,163.75L48.36,183.00L48.47,186.50L48.73,188.25L48.92,188.75L49.25,189.03L49.75,189.08L50.08,189.00" fill="none" stroke="#1e1e1e" stroke-width="0.55" stroke-linejoin="round"/>
<line x1="56.4" y1="113.3" x2="56.4" y2="212.4" stroke="#231f20" stroke-width="1"/>
<line x1="37.5" y1="171.0" x2="136.5" y2="171.0" stroke="#231f20" stroke-width="1"/>
<text x="39.4" y="128.0" font-size="9.45" text-anchor="start" font-weight="normal" fill="#231f20" stroke="#231f20" stroke-width="0.22">17.4</text>
<text x="108.8" y="128.0" font-size="9.45" text-anchor="start" font-weight="normal" fill="#231f20" stroke="#231f20" stroke-width="0.22">11.6</text>
<text x="38.8" y="203.5" font-size="9.45" text-anchor="start" font-weight="normal" fill="#231f20" stroke="#231f20" stroke-width="0.22">20.5</text>
<text x="107.9" y="203.5" font-size="9.45" text-anchor="start" font-weight="normal" fill="#231f20" stroke="#231f20" stroke-width="0.22">50.5</text>
<path d="M190.21,165.75L191.00,165.36L191.66,164.75L192.23,164.00L192.63,163.25L193.06,162.75L193.41,162.00L194.11,161.25L194.17,161.00L195.63,159.50L195.75,159.17L197.14,157.75L197.25,157.42L198.38,156.25L198.50,155.91L199.37,155.00L199.43,154.75L200.11,154.00L200.17,153.75L200.61,153.25L200.66,153.00L201.32,152.25L201.39,152.00L202.01,151.25L202.49,150.25L202.76,149.50L202.80,148.75L202.76,148.00L202.46,147.00L201.98,146.00L201.49,145.25L199.75,143.49L198.75,142.96L198.00,142.84L197.75,142.66L196.50,142.56L196.25,142.37L195.75,142.32L191.50,142.29L191.25,142.30L191.00,142.52L182.75,142.54L182.50,142.55L182.25,142.77L178.25,142.83L178.00,142.86L177.75,143.06L175.75,143.13L175.25,143.34L174.00,143.42L173.50,143.63L172.50,143.73L172.00,143.92L171.25,144.04L169.25,144.68L167.34,145.75L166.45,146.50L165.79,147.25L165.11,148.25L164.58,149.50L164.41,150.50L164.50,151.75L164.89,153.00L165.43,154.00L166.46,155.25L167.61,156.25L168.75,157.05L171.25,158.43L171.75,158.58L173.00,159.23L173.50,159.37L174.75,160.03L175.25,160.14L176.00,160.56L176.50,160.66L177.25,161.08L177.75,161.17L179.00,161.84L179.50,161.92L179.75,162.12L180.00,162.17L180.25,162.36L180.50,162.41L180.75,162.61L181.00,162.66L181.25,162.86L181.50,162.91L182.25,163.35L182.50,163.41L182.75,163.60L183.00,163.65L183.25,163.84L183.50,163.90L183.75,164.08L186.25,165.25L186.75,165.36L187.50,165.70L188.75,165.96L189.50,165.96L190.21,165.75" fill="none" stroke="#707070" stroke-width="0.45" stroke-linejoin="round"/>
<path d="M189.60,165.00L190.25,164.77L190.75,164.50L191.25,164.12L192.00,163.34L194.05,160.75L196.75,157.75L198.96,155.00L200.81,152.25L201.53,151.00L201.92,150.00L202.08,149.25L202.10,148.50L201.92,147.50L201.65,146.75L201.11,145.75L200.55,145.00L199.75,144.18L198.75,143.50L197.50,143.01L195.75,142.59L194.50,142.49L191.75,142.41L191.25,142.49L191.00,142.60L183.25,142.64L182.75,142.67L182.25,142.87L178.75,143.05L175.75,143.57L174.00,144.01L171.85,144.75L170.78,145.25L169.75,145.87L168.96,146.50L168.25,147.25L167.56,148.25L167.05,149.50L166.84,150.75L166.93,152.00L167.31,153.25L167.84,154.25L168.81,155.50L169.89,156.50L171.66,157.75L174.75,159.45L184.75,164.06L186.25,164.65L187.50,164.98L188.75,165.11L189.60,165.00" fill="none" stroke="#6e6e6e" stroke-width="0.45" stroke-linejoin="round"/>
<path d="M189.27,164.00L190.50,163.52L191.50,162.79L194.75,159.42L196.46,157.50L198.45,155.00L199.46,153.50L200.32,152.00L200.78,151.00L201.10,150.00L201.22,149.00L201.18,148.25L200.94,147.25L200.49,146.25L200.00,145.50L199.25,144.67L198.37,144.00L197.38,143.50L195.75,142.97L194.50,142.77L192.00,142.60L190.75,142.73L186.25,142.71L183.25,142.81L182.00,143.04L178.75,143.40L175.75,144.18L174.27,144.75L172.80,145.50L171.72,146.25L170.90,147.00L170.12,148.00L169.51,149.25L169.22,150.50L169.22,151.75L169.49,153.00L170.04,154.25L170.92,155.50L171.88,156.50L173.45,157.75L175.86,159.25L179.00,160.83L183.00,162.68L185.25,163.56L186.75,163.97L188.00,164.12L189.27,164.00" fill="none" stroke="#6c6c6c" stroke-width="0.45" stroke-linejoin="round"/>
<path d="M189.34,163.00L190.50,162.51L191.50,161.85L192.75,160.75L194.50,159.03L196.00,157.40L197.35,155.75L198.42,154.25L199.30,152.75L199.88,151.50L200.21,150.50L200.38,149.50L200.36,148.50L200.15,147.50L199.85,146.75L199.25,145.75L198.59,145.00L197.62,144.25L196.50,143.68L195.25,143.25L193.75,142.97L191.75,142.81L190.75,142.88L187.00,142.83L184.00,142.93L183.00,143.02L179.50,143.62L177.32,144.25L176.05,144.75L175.06,145.25L173.90,146.00L173.02,146.75L172.16,147.75L171.47,149.00L171.10,150.25L171.03,151.50L171.21,152.75L171.68,154.00L172.43,155.25L173.52,156.50L175.32,158.00L177.27,159.25L179.75,160.56L183.00,162.04L184.75,162.68L186.50,163.11L188.00,163.21L189.34,163.00" fill="none" stroke="#6b6b6b" stroke-width="0.45" stroke-linejoin="round"/>
<path d="M188.26,162.25L189.50,161.97L190.50,161.54L191.50,160.92L192.75,159.93L194.25,158.54L195.70,157.00L196.92,155.50L197.94,154.00L198.63,152.75L199.16,151.50L199.43,150.50L199.55,149.50L199.50,148.50L199.26,147.50L198.80,146.50L198.28,145.75L197.55,145.00L196.50,144.27L195.38,143.75L194.25,143.40L192.00,143.06L186.50,142.99L183.25,143.21L179.58,144.00L178.25,144.46L177.07,145.00L176.20,145.50L175.17,146.25L174.16,147.25L173.46,148.25L172.91,149.50L172.67,150.75L172.69,152.00L172.98,153.25L173.53,154.50L174.39,155.75L175.58,157.00L177.16,158.25L179.00,159.40L181.25,160.56L183.25,161.40L185.25,162.02L186.75,162.27L188.26,162.25" fill="none" stroke="#696969" stroke-width="0.45" stroke-linejoin="round"/>
<path d="M188.70,161.25L189.75,160.94L191.00,160.34L192.00,159.69L193.25,158.69L194.50,157.51L195.65,156.25L196.62,155.00L197.42,153.75L198.06,152.50L198.43,151.50L198.67,150.50L198.76,149.50L198.68,148.50L198.49,147.75L198.06,146.75L197.55,146.00L196.84,145.25L196.00,144.62L195.00,144.09L193.75,143.66L191.75,143.30L187.50,143.15L184.00,143.33L183.00,143.49L181.25,143.92L180.00,144.30L178.87,144.75L177.92,145.25L176.81,146.00L175.74,147.00L174.99,148.00L174.39,149.25L174.10,150.50L174.08,151.75L174.31,153.00L174.82,154.25L175.61,155.50L176.74,156.75L178.25,158.00L180.00,159.11L182.00,160.11L184.00,160.87L185.75,161.29L187.25,161.41L188.70,161.25" fill="none" stroke="#676767" stroke-width="0.45" stroke-linejoin="round"/>
<path d="M187.85,160.50L189.00,160.29L190.00,159.96L191.00,159.48L192.25,158.67L193.50,157.66L194.50,156.69L195.50,155.55L196.27,154.50L196.88,153.50L197.37,152.50L197.72,151.50L197.94,150.50L198.00,149.50L197.90,148.50L197.60,147.50L197.22,146.75L196.68,146.00L196.20,145.50L195.59,145.00L194.78,144.50L194.00,144.15L193.00,143.82L191.08,143.50L187.25,143.33L185.50,143.40L184.00,143.56L182.75,143.82L181.29,144.25L180.00,144.75L179.03,145.25L177.64,146.25L176.68,147.25L176.02,148.25L175.51,149.50L175.29,150.75L175.34,152.00L175.65,153.25L176.23,154.50L177.11,155.75L178.25,156.90L179.69,158.00L181.25,158.92L183.00,159.71L184.75,160.26L186.25,160.51L187.85,160.50" fill="none" stroke="#656565" stroke-width="0.45" stroke-linejoin="round"/>
<path d="M188.62,159.50L189.50,159.26L190.50,158.86L191.50,158.32L192.50,157.64L193.50,156.80L194.31,156.00L195.17,155.00L195.87,154.00L196.43,153.00L196.85,152.00L197.13,151.00L197.24,150.25L197.24,149.25L197.13,148.50L196.81,147.50L196.41,146.75L195.84,146.00L195.32,145.50L194.66,145.00L193.75,144.50L192.00,143.92L189.50,143.60L186.50,143.55L184.00,143.82L183.00,144.05L181.63,144.50L180.50,145.00L179.64,145.50L178.66,146.25L177.72,147.25L177.08,148.25L176.60,149.50L176.41,150.75L176.49,152.00L176.83,153.25L177.45,154.50L178.40,155.75L179.50,156.79L181.00,157.85L182.50,158.64L184.25,159.28L185.75,159.59L187.25,159.67L188.62,159.50" fill="none" stroke="#636363" stroke-width="0.45" stroke-linejoin="round"/>
<path d="M188.16,158.75L189.00,158.58L190.00,158.25L191.75,157.34L192.75,156.61L193.50,155.94L194.25,155.15L194.96,154.25L195.50,153.41L195.96,152.50L196.32,151.50L196.48,150.75L196.57,149.75L196.52,149.00L196.36,148.25L196.09,147.50L195.67,146.75L195.29,146.25L194.17,145.25L192.75,144.50L191.00,144.02L188.25,143.75L185.50,143.84L183.34,144.25L181.41,145.00L180.16,145.75L179.28,146.50L178.44,147.50L177.79,148.75L177.50,149.75L177.40,151.00L177.57,152.25L178.01,153.50L178.76,154.75L179.63,155.75L180.81,156.75L182.25,157.63L183.75,158.28L185.25,158.68L186.75,158.84L188.16,158.75" fill="none" stroke="#626262" stroke-width="0.45" stroke-linejoin="round"/>
<path d="M187.82,158.00L189.50,157.64L191.25,156.84L192.78,155.75L193.50,155.06L194.21,154.25L195.16,152.75L195.58,151.75L195.78,151.00L195.91,149.50L195.82,148.75L195.62,148.00L194.98,146.75L194.06,145.75L192.95,145.00L191.50,144.43L189.50,144.07L187.25,143.96L185.00,144.15L183.25,144.59L182.00,145.12L180.75,145.90L179.83,146.75L179.09,147.75L178.62,148.75L178.32,150.00L178.32,151.25L178.59,152.50L179.16,153.75L180.00,154.91L181.00,155.87L182.25,156.73L183.50,157.35L185.00,157.82L186.50,158.04L187.82,158.00" fill="none" stroke="#606060" stroke-width="0.45" stroke-linejoin="round"/>
<path d="M187.48,157.25L188.75,157.07L190.00,156.68L191.25,156.05L192.25,155.35L193.17,154.50L194.00,153.49L194.59,152.50L195.08,151.25L195.28,150.00L195.24,149.00L194.99,148.00L194.49,147.00L193.90,146.25L193.00,145.50L192.09,145.00L191.00,144.61L189.25,144.29L187.00,144.21L185.00,144.42L183.50,144.82L182.08,145.50L180.79,146.50L180.34,147.00L179.82,147.75L179.30,149.00L179.14,149.75L179.10,150.50L179.16,151.25L179.32,152.00L179.60,152.75L180.00,153.50L181.00,154.77L181.75,155.44L182.50,155.96L184.00,156.70L185.75,157.17L187.48,157.25" fill="none" stroke="#5e5e5e" stroke-width="0.45" stroke-linejoin="round"/>
<path d="M187.35,156.50L188.50,156.37L189.50,156.10L190.75,155.56L191.75,154.92L192.75,154.04L193.42,153.25L194.04,152.25L194.44,151.25L194.66,150.25L194.67,149.25L194.48,148.25L194.04,147.25L193.49,146.50L192.65,145.75L191.75,145.23L190.75,144.86L189.00,144.52L187.25,144.45L185.50,144.60L183.92,145.00L182.50,145.69L181.46,146.50L180.65,147.50L180.07,148.75L179.85,150.00L179.87,150.75L180.01,151.50L180.25,152.25L180.63,153.00L181.50,154.15L182.75,155.20L184.25,155.98L185.75,156.39L187.35,156.50" fill="none" stroke="#5c5c5c" stroke-width="0.45" stroke-linejoin="round"/>
<path d="M187.75,155.75L189.25,155.46L190.50,154.94L191.75,154.12L192.75,153.13L193.50,152.00L193.98,150.75L194.12,149.50L193.93,148.25L193.47,147.25L192.75,146.36L191.75,145.63L190.75,145.18L189.25,144.82L187.75,144.70L186.25,144.77L184.75,145.05L183.75,145.41L182.70,146.00L181.83,146.75L181.26,147.50L180.87,148.25L180.59,149.25L180.53,150.25L180.69,151.25L181.07,152.25L181.70,153.25L182.41,154.00L183.25,154.64L184.25,155.18L185.50,155.59L186.75,155.77L187.75,155.75" fill="none" stroke="#5a5a5a" stroke-width="0.45" stroke-linejoin="round"/>
<path d="M188.00,155.00L189.25,154.73L190.50,154.19L191.50,153.50L192.50,152.46L193.09,151.50L193.50,150.25L193.55,149.00L193.30,148.00L192.92,147.25L192.25,146.47L191.25,145.76L190.25,145.35L188.75,145.05L187.25,144.99L185.75,145.13L184.50,145.46L183.50,145.92L182.75,146.46L182.21,147.00L181.69,147.75L181.37,148.50L181.18,149.50L181.20,150.25L181.42,151.25L181.89,152.25L182.45,153.00L183.25,153.74L184.00,154.23L185.00,154.68L186.00,154.94L187.00,155.05L188.00,155.00" fill="none" stroke="#585858" stroke-width="0.45" stroke-linejoin="round"/>
<path d="M188.55,154.25L189.75,153.87L190.75,153.33L191.75,152.48L192.48,151.50L192.91,150.50L193.08,149.50L192.98,148.50L192.58,147.50L192.00,146.75L191.25,146.15L190.25,145.68L189.00,145.37L187.50,145.26L186.00,145.37L184.75,145.69L183.75,146.16L183.00,146.73L182.53,147.25L182.08,148.00L181.83,148.75L181.74,149.50L181.79,150.25L181.98,151.00L182.33,151.75L182.88,152.50L183.50,153.09L184.25,153.60L185.00,153.96L185.75,154.20L186.75,154.37L187.75,154.37L188.55,154.25" fill="none" stroke="#575757" stroke-width="0.45" stroke-linejoin="round"/>
<path d="M188.82,153.50L189.75,153.17L190.75,152.58L191.50,151.89L192.13,151.00L192.50,150.00L192.58,149.00L192.34,148.00L191.91,147.25L191.25,146.60L190.50,146.15L189.50,145.79L188.25,145.59L187.00,145.58L185.75,145.74L184.75,146.04L183.75,146.60L183.25,147.04L182.72,147.75L182.41,148.50L182.31,149.00L182.30,149.75L182.45,150.50L182.75,151.20L183.11,151.75L183.56,152.25L184.17,152.75L184.75,153.10L185.50,153.41L186.25,153.60L187.25,153.70L188.00,153.66L188.82,153.50" fill="none" stroke="#555555" stroke-width="0.45" stroke-linejoin="round"/>
<path d="M188.97,152.75L190.00,152.31L190.75,151.78L191.47,151.00L191.87,150.25L192.07,149.50L192.07,148.75L191.86,148.00L191.37,147.25L190.75,146.72L190.00,146.33L189.00,146.04L187.75,145.91L186.50,145.97L185.50,146.16L184.63,146.50L183.87,147.00L183.40,147.50L183.10,148.00L182.91,148.50L182.82,149.25L182.92,150.00L183.09,150.50L183.75,151.50L184.75,152.30L186.00,152.82L186.75,152.96L187.50,152.99L188.25,152.92L188.97,152.75" fill="none" stroke="#535353" stroke-width="0.45" stroke-linejoin="round"/>
<path d="M187.88,152.25L188.75,152.09L189.75,151.70L190.50,151.19L191.00,150.67L191.40,150.00L191.60,149.25L191.56,148.50L191.23,147.75L190.79,147.25L190.25,146.87L189.50,146.56L188.50,146.36L187.25,146.30L186.25,146.39L185.25,146.65L184.50,147.02L183.75,147.74L183.40,148.50L183.33,149.00L183.37,149.50L183.51,150.00L183.77,150.50L184.50,151.31L185.50,151.90L186.75,152.23L187.88,152.25" fill="none" stroke="#515151" stroke-width="0.45" stroke-linejoin="round"/>
<path d="M188.42,151.50L189.25,151.25L190.00,150.86L190.50,150.45L191.00,149.75L191.17,149.25L191.16,148.50L190.95,148.00L190.51,147.50L190.00,147.17L189.25,146.89L188.25,146.72L187.25,146.70L186.25,146.79L185.50,146.96L184.75,147.30L184.22,147.75L183.82,148.50L183.80,149.25L184.08,150.00L184.50,150.52L185.25,151.07L186.25,151.46L187.25,151.60L188.42,151.50" fill="none" stroke="#4f4f4f" stroke-width="0.45" stroke-linejoin="round"/>
<path d="M188.04,151.00L188.75,150.86L189.50,150.58L190.00,150.29L190.56,149.75L190.82,149.25L190.88,148.75L190.74,148.25L190.33,147.75L189.75,147.41L189.00,147.18L188.00,147.07L187.00,147.07L186.25,147.14L185.50,147.31L184.75,147.68L184.41,148.00L184.15,148.50L184.11,149.00L184.26,149.50L184.75,150.14L185.50,150.62L186.25,150.88L187.25,151.03L188.04,151.00" fill="none" stroke="#4e4e4e" stroke-width="0.45" stroke-linejoin="round"/>
<path d="M187.75,150.50L188.50,150.39L189.25,150.18L189.75,149.96L190.25,149.59L190.50,149.25L190.60,148.75L190.50,148.36L190.25,148.03L189.75,147.75L189.00,147.52L187.00,147.43L185.75,147.57L185.00,147.85L184.55,148.25L184.42,148.50L184.40,149.00L184.65,149.50L185.00,149.82L185.50,150.10L186.25,150.34L187.00,150.49L187.75,150.50" fill="none" stroke="#4c4c4c" stroke-width="0.45" stroke-linejoin="round"/>
<path d="M188.35,150.00L189.50,149.72L190.24,149.25L190.39,149.00L190.40,148.75L190.38,148.50L190.25,148.30L190.00,148.09L189.25,147.82L186.50,147.76L185.75,147.82L185.00,148.09L184.61,148.50L184.61,149.00L184.75,149.24L185.00,149.47L185.50,149.73L187.00,150.06L188.35,150.00" fill="none" stroke="#4a4a4a" stroke-width="0.45" stroke-linejoin="round"/>
<path d="M178.98,189.25L183.25,189.22L183.50,188.99L186.25,188.97L186.50,188.74L188.75,188.72L189.00,188.49L190.75,188.47L191.00,188.24L192.25,188.22L192.50,187.99L193.75,187.97L194.00,187.74L195.00,187.72L195.25,187.48L196.00,187.47L196.25,187.23L196.75,187.22L197.00,186.98L197.75,186.95L198.00,186.72L198.50,186.70L198.75,186.47L199.25,186.44L199.50,186.21L200.00,186.17L200.17,186.00L200.50,185.92L200.75,185.70L201.25,185.65L201.50,185.44L201.75,185.39L202.00,185.18L202.25,185.13L202.50,184.92L202.75,184.87L203.00,184.66L203.75,184.33L205.00,183.50L206.21,182.50L207.34,181.25L208.35,179.50L208.68,178.50L208.76,177.25L208.69,176.75L208.45,176.00L207.88,175.00L207.47,174.50L206.50,173.53L205.75,173.00L204.00,172.27L203.00,171.99L201.75,171.87L201.25,171.68L197.75,171.60L197.25,171.64L197.00,171.81L194.25,171.82L194.00,171.85L193.75,172.04L192.25,172.06L192.00,172.08L191.75,172.29L190.00,172.32L189.75,172.53L188.50,172.56L188.25,172.78L187.00,172.81L186.75,173.03L185.50,173.06L185.25,173.28L184.25,173.31L184.00,173.53L183.00,173.55L182.75,173.78L181.75,173.80L181.50,174.03L180.50,174.05L180.25,174.28L179.50,174.30L179.25,174.52L178.50,174.55L178.25,174.77L177.50,174.80L177.25,175.02L176.50,175.05L176.25,175.27L175.75,175.30L175.50,175.52L175.00,175.54L174.75,175.77L174.25,175.79L174.00,176.02L173.50,176.04L173.25,176.27L172.75,176.29L172.50,176.52L172.00,176.54L171.75,176.77L171.25,176.79L171.04,177.00L170.75,177.04L170.50,177.27L170.00,177.29L169.79,177.50L169.50,177.53L169.25,177.77L169.00,177.78L168.75,178.02L168.50,178.03L168.25,178.27L167.75,178.29L167.54,178.50L167.25,178.53L167.00,178.77L166.75,178.78L166.25,179.27L166.00,179.28L165.75,179.52L165.50,179.53L165.00,180.02L164.75,180.03L163.53,181.25L162.79,182.00L162.77,182.25L162.54,182.50L162.52,182.75L162.05,183.25L162.02,183.75L161.79,184.00L161.78,184.25L161.56,184.50L161.56,186.00L161.78,186.25L161.80,186.50L162.03,186.75L162.05,187.00L162.28,187.25L162.31,187.50L163.25,188.44L163.50,188.47L163.75,188.70L164.25,188.73L164.50,188.96L165.75,188.99L166.00,189.22L170.25,189.24L170.50,189.48L170.75,189.48L178.75,189.48L178.98,189.25" fill="none" stroke="#606060" stroke-width="0.45" stroke-linejoin="round"/>
<path d="M178.29,189.25L179.00,189.08L182.50,189.01L183.00,188.98L183.50,188.83L185.75,188.75L186.50,188.58L188.25,188.50L189.00,188.32L190.50,188.23L191.00,188.07L192.00,187.98L192.50,187.82L193.50,187.72L194.00,187.55L194.75,187.44L197.50,186.56L199.00,185.91L200.64,185.00L202.00,184.00L203.03,183.00L203.95,181.75L204.52,180.50L204.78,179.25L204.74,178.00L204.37,176.75L203.95,176.00L203.50,175.41L202.82,174.75L202.13,174.25L200.50,173.44L198.50,172.92L195.25,172.66L192.75,172.73L190.25,172.94L185.75,173.59L180.75,174.53L176.75,175.49L172.25,176.90L170.00,177.72L167.25,178.93L165.50,179.95L164.75,180.47L163.26,182.00L162.44,183.50L162.12,184.50L162.05,185.00L162.11,185.75L162.38,186.50L162.79,187.25L163.25,187.78L163.92,188.25L164.75,188.60L166.50,188.98L170.25,189.09L171.00,189.27L178.29,189.25" fill="none" stroke="#5d5d5d" stroke-width="0.45" stroke-linejoin="round"/>
<path d="M178.29,189.00L179.25,188.86L182.50,188.77L183.75,188.60L185.50,188.52L190.50,187.97L193.50,187.45L194.75,187.15L196.00,186.75L197.73,186.00L199.00,185.25L200.25,184.25L201.16,183.25L201.92,182.00L202.36,180.75L202.48,179.50L202.30,178.25L201.90,177.25L201.42,176.50L200.99,176.00L199.75,175.00L198.18,174.25L196.25,173.75L194.00,173.51L191.25,173.53L188.75,173.74L184.75,174.30L180.50,175.08L176.25,176.09L171.50,177.56L168.00,178.95L166.00,180.01L164.63,181.00L163.51,182.25L163.08,183.00L162.77,183.75L162.58,184.50L162.54,185.25L162.62,185.75L162.90,186.50L163.25,187.07L163.75,187.61L164.32,188.00L165.00,188.31L166.75,188.74L170.00,188.89L171.25,189.05L178.29,189.00" fill="none" stroke="#5a5a5a" stroke-width="0.45" stroke-linejoin="round"/>
<path d="M178.29,188.75L185.50,188.27L190.25,187.75L194.22,187.00L195.50,186.60L196.50,186.17L197.70,185.50L198.95,184.50L199.81,183.50L200.39,182.50L200.80,181.25L200.91,180.25L200.75,179.00L200.38,178.00L199.92,177.25L199.51,176.75L198.31,175.75L196.80,175.00L195.01,174.50L193.00,174.25L190.75,174.22L188.00,174.42L184.75,174.84L180.50,175.59L176.25,176.56L171.75,177.88L168.50,179.10L166.50,180.07L165.00,181.10L163.92,182.25L163.47,183.00L163.16,183.75L163.00,184.50L162.99,185.25L163.17,186.00L163.40,186.50L163.75,187.00L164.27,187.50L164.75,187.81L165.50,188.14L166.50,188.43L167.25,188.54L171.25,188.81L175.50,188.84L178.29,188.75" fill="none" stroke="#575757" stroke-width="0.45" stroke-linejoin="round"/>
<path d="M178.26,188.50L185.50,188.02L190.25,187.50L193.50,186.91L194.75,186.55L195.75,186.16L196.93,185.50L197.87,184.75L198.55,184.00L199.18,183.00L199.55,182.00L199.71,180.75L199.61,179.75L199.28,178.75L198.50,177.53L197.50,176.61L196.25,175.89L194.50,175.29L192.75,175.00L190.50,174.90L188.00,175.02L185.00,175.37L180.75,176.07L176.75,176.92L172.25,178.14L169.00,179.27L167.00,180.16L166.00,180.75L165.25,181.30L164.75,181.76L164.14,182.50L163.84,183.00L163.53,183.75L163.38,184.50L163.37,185.00L163.52,185.75L163.75,186.29L164.05,186.75L164.55,187.25L165.25,187.70L166.00,188.00L167.50,188.32L171.50,188.58L175.50,188.59L178.26,188.50" fill="none" stroke="#555555" stroke-width="0.45" stroke-linejoin="round"/>
<path d="M178.01,188.25L185.25,187.77L189.75,187.29L193.00,186.74L195.00,186.13L196.00,185.64L196.90,185.00L197.63,184.25L198.14,183.50L198.55,182.50L198.73,181.50L198.68,180.50L198.41,179.50L197.75,178.36L196.75,177.36L195.50,176.59L194.00,176.04L192.25,175.71L190.25,175.59L188.00,175.66L185.25,175.94L181.00,176.58L176.75,177.43L172.50,178.52L169.25,179.57L167.00,180.54L165.51,181.50L164.54,182.50L164.22,183.00L163.90,183.75L163.78,184.25L163.76,185.00L163.92,185.75L164.17,186.25L164.54,186.75L165.00,187.16L165.56,187.50L166.25,187.78L167.75,188.09L171.25,188.32L174.75,188.34L178.01,188.25" fill="none" stroke="#525252" stroke-width="0.45" stroke-linejoin="round"/>
<path d="M177.69,188.00L182.75,187.70L188.75,187.14L192.25,186.62L193.50,186.33L194.53,186.00L195.50,185.54L196.29,185.00L197.03,184.25L197.50,183.50L197.80,182.75L197.96,181.75L197.88,180.75L197.65,180.00L197.00,178.89L196.12,178.00L195.00,177.29L193.50,176.72L191.75,176.38L190.00,176.26L187.75,176.31L185.25,176.54L181.25,177.10L177.00,177.89L172.75,178.90L169.50,179.87L167.50,180.66L166.00,181.52L164.93,182.50L164.58,183.00L164.23,183.75L164.11,184.25L164.10,185.00L164.20,185.50L164.42,186.00L164.76,186.50L165.25,186.95L165.75,187.26L166.50,187.57L168.00,187.87L171.25,188.06L174.50,188.09L177.69,188.00" fill="none" stroke="#4f4f4f" stroke-width="0.45" stroke-linejoin="round"/>
<path d="M177.20,187.75L182.50,187.44L188.25,186.92L191.75,186.44L194.00,185.89L195.00,185.46L195.73,185.00L196.29,184.50L196.84,183.75L197.16,183.00L197.30,182.25L197.29,181.50L197.13,180.75L196.65,179.75L195.77,178.75L194.75,178.04L193.50,177.50L192.00,177.13L190.25,176.94L188.25,176.93L186.00,177.07L182.00,177.56L177.75,178.27L173.50,179.18L170.00,180.11L167.75,180.92L166.25,181.73L165.58,182.25L165.11,182.75L164.55,183.75L164.39,184.50L164.41,185.00L164.54,185.50L164.78,186.00L165.50,186.77L166.00,187.08L166.75,187.37L168.25,187.65L171.00,187.80L174.25,187.82L177.20,187.75" fill="none" stroke="#4c4c4c" stroke-width="0.45" stroke-linejoin="round"/>
<path d="M176.78,187.50L182.50,187.17L188.00,186.68L191.50,186.21L193.75,185.69L194.50,185.40L195.25,184.98L195.83,184.50L196.24,184.00L196.52,183.50L196.74,182.75L196.79,182.00L196.66,181.25L196.20,180.25L195.50,179.42L194.50,178.69L193.25,178.13L191.75,177.76L190.00,177.57L188.00,177.55L185.75,177.69L181.75,178.16L177.25,178.88L173.00,179.75L169.75,180.58L167.75,181.28L166.25,182.08L165.72,182.50L165.26,183.00L164.94,183.50L164.75,184.00L164.66,184.50L164.69,185.00L164.83,185.50L165.11,186.00L165.50,186.43L165.94,186.75L167.00,187.19L168.25,187.41L170.50,187.53L176.78,187.50" fill="none" stroke="#494949" stroke-width="0.45" stroke-linejoin="round"/>
<path d="M176.53,187.25L182.50,186.90L187.25,186.49L190.75,186.07L193.25,185.57L194.75,184.97L195.41,184.50L195.86,184.00L196.14,183.50L196.35,182.75L196.36,182.25L196.22,181.50L195.75,180.57L195.00,179.76L194.00,179.11L192.75,178.62L191.25,178.30L189.75,178.16L188.00,178.15L185.75,178.27L181.75,178.71L177.25,179.38L173.00,180.18L169.75,180.95L167.75,181.61L166.50,182.24L166.00,182.60L165.50,183.09L165.21,183.50L165.00,184.00L164.90,184.50L164.93,185.00L165.23,185.75L165.50,186.10L165.99,186.50L167.00,186.95L168.25,187.18L170.00,187.28L176.53,187.25" fill="none" stroke="#464646" stroke-width="0.45" stroke-linejoin="round"/>
<path d="M176.86,187.00L182.50,186.66L187.00,186.28L190.50,185.87L193.00,185.40L194.50,184.85L195.04,184.50L195.50,184.05L195.84,183.50L196.00,183.00L196.04,182.50L195.97,182.00L195.68,181.25L195.00,180.39L194.00,179.68L192.75,179.16L191.50,178.87L190.00,178.71L188.25,178.67L186.00,178.77L182.00,179.17L177.25,179.83L172.75,180.62L169.50,181.34L167.75,181.90L166.50,182.52L165.63,183.25L165.30,183.75L165.13,184.25L165.13,185.00L165.50,185.79L166.25,186.43L167.25,186.80L168.50,187.00L170.00,187.07L176.86,187.00" fill="none" stroke="#444444" stroke-width="0.45" stroke-linejoin="round"/>
<path d="M176.89,186.75L182.50,186.41L186.50,186.07L190.25,185.66L192.75,185.22L194.25,184.72L194.75,184.44L195.24,184.00L195.66,183.25L195.74,182.75L195.69,182.25L195.39,181.50L194.75,180.75L193.75,180.09L192.75,179.70L191.50,179.42L190.00,179.25L188.25,179.21L186.25,179.30L182.50,179.64L177.50,180.26L173.00,180.98L169.75,181.62L167.75,182.19L166.50,182.79L165.75,183.42L165.52,183.75L165.32,184.25L165.32,185.00L165.53,185.50L165.75,185.80L166.50,186.34L167.50,186.65L168.50,186.78L170.00,186.85L176.89,186.75" fill="none" stroke="#414141" stroke-width="0.45" stroke-linejoin="round"/>
<path d="M176.72,186.50L182.75,186.13L186.25,185.83L189.75,185.46L192.50,185.02L193.75,184.68L194.75,184.16L195.31,183.50L195.46,183.00L195.45,182.50L195.14,181.75L194.50,181.06L193.75,180.60L192.75,180.23L191.50,179.96L190.00,179.81L186.50,179.84L182.75,180.16L177.50,180.76L172.75,181.44L169.75,181.96L168.00,182.40L166.75,182.92L165.94,183.50L165.73,183.75L165.51,184.25L165.51,185.00L165.74,185.50L165.96,185.75L166.50,186.12L167.50,186.43L169.75,186.61L176.72,186.50" fill="none" stroke="#3e3e3e" stroke-width="0.45" stroke-linejoin="round"/>
<path d="M177.05,186.25L180.25,186.07L186.25,185.60L189.50,185.26L192.50,184.80L193.75,184.47L194.75,183.93L195.00,183.66L195.22,183.25L195.23,182.50L194.80,181.75L194.25,181.29L193.50,180.90L192.50,180.59L191.25,180.38L190.00,180.28L186.50,180.34L182.75,180.64L177.00,181.24L169.50,182.31L168.00,182.66L166.75,183.14L166.00,183.66L165.65,184.25L165.65,185.00L166.00,185.59L166.50,185.94L167.50,186.25L169.75,186.41L177.05,186.25" fill="none" stroke="#3b3b3b" stroke-width="0.45" stroke-linejoin="round"/>
<path d="M177.29,186.00L180.25,185.85L186.25,185.37L189.25,185.06L192.00,184.68L193.50,184.35L194.50,183.92L194.93,183.50L195.05,183.25L195.09,182.75L194.90,182.25L194.50,181.81L193.75,181.38L192.75,181.06L191.50,180.85L190.00,180.75L186.50,180.83L177.00,181.67L169.25,182.64L167.75,182.97L166.50,183.49L166.00,183.87L165.78,184.25L165.74,184.50L165.78,185.00L166.00,185.39L166.25,185.62L166.75,185.89L167.75,186.11L169.75,186.21L175.50,186.11L177.29,186.00" fill="none" stroke="#383838" stroke-width="0.45" stroke-linejoin="round"/>
<path d="M169.73,186.00L175.75,185.86L180.00,185.61L186.25,185.11L191.25,184.56L193.25,184.20L194.25,183.85L194.75,183.49L194.89,183.25L194.92,182.75L194.75,182.38L194.25,181.96L193.50,181.65L192.75,181.47L190.25,181.26L187.00,181.33L176.75,182.15L169.25,182.94L168.00,183.16L167.00,183.47L166.25,183.82L165.90,184.25L165.91,185.00L166.05,185.25L166.50,185.61L167.50,185.89L169.73,186.00" fill="none" stroke="#353535" stroke-width="0.45" stroke-linejoin="round"/>
<path d="M170.41,185.75L171.50,185.67L176.00,185.61L177.50,185.47L180.25,185.36L186.25,184.87L191.25,184.33L193.50,183.94L194.50,183.56L194.75,183.25L194.78,182.75L194.50,182.36L194.25,182.23L193.00,181.88L190.75,181.75L188.50,181.77L176.75,182.59L169.00,183.26L167.25,183.59L166.25,183.97L166.02,184.25L166.02,185.00L166.25,185.30L166.75,185.57L168.25,185.76L170.41,185.75" fill="none" stroke="#333333" stroke-width="0.45" stroke-linejoin="round"/>
<path d="M170.47,185.50L171.50,185.40L176.00,185.36L177.50,185.18L180.25,185.11L181.25,184.95L183.50,184.86L184.50,184.70L189.25,184.33L193.50,183.75L194.50,183.42L194.65,183.25L194.66,182.75L194.50,182.55L194.25,182.47L193.00,182.24L189.00,182.27L180.50,182.91L176.50,183.08L174.25,183.31L168.50,183.60L167.50,183.73L166.25,184.09L166.11,184.25L166.11,185.00L166.25,185.17L166.75,185.43L168.75,185.57L170.47,185.50" fill="none" stroke="#303030" stroke-width="0.45" stroke-linejoin="round"/>
<path d="M175.34,185.25L176.50,185.21L177.25,185.05L180.25,184.98L181.25,184.81L183.75,184.72L184.50,184.56L186.50,184.47L187.25,184.31L189.25,184.21L190.00,184.04L191.50,183.95L192.00,183.80L193.50,183.66L194.00,183.46L194.50,183.36L194.60,183.25L194.61,182.75L194.50,182.62L194.25,182.57L192.75,182.40L189.00,182.52L184.50,182.90L182.00,183.01L180.50,183.18L176.50,183.30L174.50,183.53L168.00,183.77L167.50,183.82L167.00,184.02L166.25,184.14L166.16,184.25L166.16,185.00L166.75,185.37L169.75,185.46L171.25,185.27L175.34,185.25" fill="none" stroke="#2d2d2d" stroke-width="0.45" stroke-linejoin="round"/>
<path d="M170.36,185.25L170.50,185.11L170.75,185.08L176.50,185.05L176.75,184.87L177.00,184.84L180.50,184.80L180.75,184.62L181.00,184.59L183.75,184.55L184.00,184.37L184.25,184.34L186.50,184.31L186.75,184.12L187.00,184.09L189.25,184.05L189.50,183.87L189.75,183.83L191.50,183.80L191.75,183.61L193.50,183.54L193.75,183.33L194.50,183.28L194.50,183.14L194.36,183.00L194.53,182.75L192.25,182.67L191.75,182.85L188.75,182.89L188.25,183.07L185.50,183.14L184.75,183.34L181.75,183.39L181.00,183.59L175.75,183.66L175.50,183.79L175.00,183.87L167.50,183.95L167.25,184.16L166.23,184.25L166.25,184.60L166.40,184.75L166.23,185.00L166.50,185.05L166.75,185.28L170.36,185.25" fill="none" stroke="#2a2a2a" stroke-width="0.45" stroke-linejoin="round"/>
<path d="M163.9,129.8 L233.5,120.9 L233.0,162.4 L159.7,171.3 L157.7,147.5 Z" fill="none" stroke="#231f20" stroke-width="0.9" stroke-linejoin="miter"/>
<rect x="204.2" y="120.6" width="24.400000000000006" height="20.900000000000006" fill="#fff" fill-opacity="0.95"/>
<text x="204.8" y="128.8" font-size="9.45" text-anchor="start" font-weight="normal" fill="#231f20" stroke="#231f20" stroke-width="0.22">EdU+</text>
<text x="208.5" y="139.6" font-size="9.45" text-anchor="start" font-weight="normal" fill="#231f20" stroke="#231f20" stroke-width="0.22">37.0</text>
<line x1="50.4" y1="118.3" x2="50.40" y2="109.10" stroke="#231f20" stroke-width="1.0"/>
<path d="M50.40,104.60 L53.00,109.60 L47.80,109.60 Z" fill="#231f20"/>
<line x1="131.2" y1="118.6" x2="140.53" y2="108.89" stroke="#231f20" stroke-width="1.0"/>
<path d="M143.30,106.00 L142.06,111.05 L138.31,107.44 Z" fill="#231f20"/>
<line x1="128.0" y1="200.8" x2="140.00" y2="200.80" stroke="#231f20" stroke-width="1.0"/>
<path d="M144.00,200.80 L139.50,203.40 L139.50,198.20 Z" fill="#231f20"/>
<path d="M30.4,219.3 L30.4,173.5" stroke="#231f20" stroke-width="1" fill="none"/>
<line x1="30.4" y1="200" x2="30.40" y2="173.30" stroke="#231f20" stroke-width="1"/>
<path d="M30.40,168.60 L33.40,173.80 L27.40,173.80 Z" fill="#231f20"/>
<line x1="29.9" y1="219.3" x2="63.10" y2="219.30" stroke="#231f20" stroke-width="1"/>
<path d="M67.80,219.30 L62.60,222.30 L62.60,216.30 Z" fill="#231f20"/>
<text x="0" y="0" font-size="9.6" fill="#231f20" transform="translate(33.4,165.0) rotate(-90)">CD34</text>
<text x="70.6" y="222.8" font-size="9.6" text-anchor="start" font-weight="normal" fill="#231f20" >CD41</text>
<rect x="307.5" y="6.5" width="99.00" height="99.10" fill="none" stroke="#231f20" stroke-width="1"/>
<rect x="414.5" y="6.5" width="98.90" height="99.10" fill="none" stroke="#231f20" stroke-width="1"/>
<rect x="307.5" y="113.3" width="99.00" height="99.10" fill="none" stroke="#231f20" stroke-width="1"/>
<rect x="414.5" y="113.3" width="98.90" height="99.10" fill="none" stroke="#231f20" stroke-width="1"/>
<path d="M384.46,90.25L385.50,90.21L385.75,89.98L386.50,89.96L386.75,89.73L387.25,89.71L387.50,89.48L388.00,89.46L388.25,89.22L388.50,89.21L388.75,88.97L389.00,88.96L389.25,88.72L389.50,88.71L389.75,88.47L390.00,88.45L390.25,88.22L390.50,88.20L390.75,87.97L391.00,87.94L391.75,87.21L392.00,87.17L392.17,87.00L392.21,86.75L393.18,85.75L393.21,85.50L393.43,85.25L393.46,85.00L393.68,84.75L393.71,84.25L393.93,84.00L393.96,83.50L394.17,83.25L394.22,81.75L394.42,81.50L394.44,81.25L394.44,79.75L394.42,79.50L394.21,79.25L394.16,77.75L393.96,77.50L393.90,76.50L393.70,76.25L393.64,75.50L393.44,75.25L393.39,74.75L393.19,74.50L393.12,74.00L392.92,73.75L392.87,73.50L392.67,73.25L392.61,73.00L392.41,72.75L392.06,72.00L391.25,71.18L390.50,70.70L389.75,70.40L388.75,70.34L388.50,70.23L388.25,70.23L388.00,70.33L386.50,70.35L386.25,70.39L386.00,70.56L385.50,70.61L385.25,70.81L384.75,70.85L384.50,71.06L384.25,71.08L384.00,71.30L383.50,71.34L383.25,71.55L383.00,71.58L382.75,71.79L382.50,71.82L382.25,72.04L382.00,72.06L381.75,72.29L381.50,72.31L381.25,72.54L381.00,72.56L380.75,72.78L380.50,72.80L380.25,73.03L379.75,73.06L379.56,73.25L379.25,73.31L379.00,73.53L378.75,73.55L378.50,73.78L378.00,73.81L377.75,74.03L377.25,74.06L377.00,74.28L376.00,74.32L375.75,74.54L374.25,74.55L374.00,74.38L373.00,74.33L372.75,74.18L372.00,74.11L371.50,73.94L371.00,73.90L370.50,73.76L369.50,73.60L368.25,73.56L367.75,73.63L367.25,73.82L366.75,74.14L366.37,74.50L365.75,75.59L365.44,76.50L365.12,78.00L365.00,79.75L365.00,83.00L365.06,84.00L365.21,84.50L365.32,85.50L365.64,86.75L366.25,88.12L366.75,88.69L367.75,89.26L368.75,89.44L370.00,89.48L370.50,89.35L371.50,89.33L372.00,89.16L373.50,89.16L373.75,89.13L374.00,88.95L374.75,88.96L375.00,89.17L376.50,89.22L376.75,89.44L377.50,89.47L377.75,89.70L378.50,89.73L378.75,89.95L379.50,89.98L379.75,90.20L380.50,90.23L380.75,90.45L384.25,90.46L384.46,90.25" fill="none" stroke="#666666" stroke-width="0.45" stroke-linejoin="round"/>
<path d="M384.07,89.25L385.75,88.94L387.11,88.50L388.50,87.83L389.75,87.00L390.57,86.25L391.35,85.25L391.97,84.00L392.31,82.75L392.44,81.25L392.32,79.75L391.93,78.25L391.25,76.72L390.50,75.62L389.50,74.65L388.25,73.90L387.00,73.52L386.00,73.40L385.00,73.41L384.00,73.54L382.75,73.82L380.00,74.78L376.50,76.38L374.65,77.50L373.58,78.50L372.78,79.75L372.39,81.00L372.31,81.75L372.34,82.50L372.48,83.25L372.74,84.00L373.51,85.25L374.23,86.00L374.85,86.50L375.75,87.08L377.03,87.75L378.50,88.38L379.75,88.81L381.00,89.13L382.00,89.27L383.00,89.31L384.07,89.25" fill="none" stroke="#626262" stroke-width="0.45" stroke-linejoin="round"/>
<path d="M384.91,87.50L386.25,87.12L387.25,86.63L388.25,85.91L389.08,85.00L389.64,84.00L389.95,83.00L390.04,81.75L389.84,80.50L389.46,79.50L388.75,78.41L388.00,77.66L387.00,77.01L386.00,76.61L384.75,76.38L383.50,76.38L382.00,76.65L380.75,77.09L379.50,77.74L378.50,78.50L377.79,79.25L377.16,80.25L376.81,81.25L376.71,82.25L376.83,83.25L377.20,84.25L377.87,85.25L378.75,86.09L379.76,86.75L381.00,87.27L382.25,87.57L383.50,87.65L384.91,87.50" fill="none" stroke="#5e5e5e" stroke-width="0.45" stroke-linejoin="round"/>
<path d="M384.80,86.00L385.75,85.72L386.64,85.25L387.25,84.75L387.83,84.00L388.13,83.25L388.24,82.50L388.12,81.50L387.80,80.75L387.25,80.00L386.68,79.50L386.00,79.10L385.00,78.75L384.00,78.62L383.00,78.68L382.00,78.92L381.25,79.24L380.50,79.72L380.00,80.18L379.57,80.75L379.32,81.25L379.11,82.00L379.09,82.75L379.26,83.50L379.48,84.00L379.82,84.50L380.32,85.00L381.00,85.47L381.75,85.80L382.50,86.00L383.25,86.10L384.00,86.11L384.80,86.00" fill="none" stroke="#595959" stroke-width="0.45" stroke-linejoin="round"/>
<path d="M384.77,84.50L385.00,84.27L385.50,84.26L385.75,84.02L386.00,84.01L386.76,83.25L386.76,82.00L386.00,81.24L385.75,81.23L385.52,81.00L385.25,80.98L385.00,80.74L382.75,80.74L382.50,80.98L382.00,80.99L381.75,81.23L381.50,81.24L381.00,81.73L380.98,82.00L380.74,82.25L380.74,83.00L380.98,83.25L380.99,83.50L381.25,83.76L381.50,83.77L382.00,84.26L382.75,84.27L383.00,84.51L384.77,84.50" fill="none" stroke="#555555" stroke-width="0.45" stroke-linejoin="round"/>
<path d="M351.31,97.25L351.50,97.16L353.75,97.10L354.25,96.90L355.25,96.85L355.75,96.64L356.50,96.58L358.25,96.00L359.00,95.62L359.50,95.49L360.50,94.98L361.25,94.48L362.00,93.84L362.25,93.73L363.04,93.00L363.75,92.49L364.72,91.50L365.25,90.76L365.92,90.00L366.69,88.75L367.65,86.75L367.96,85.75L368.01,85.25L368.03,81.50L367.84,80.75L367.77,80.00L367.35,78.50L367.29,78.00L366.22,74.75L365.72,73.50L364.19,70.50L363.19,69.00L361.65,67.00L360.50,65.81L359.25,64.64L358.25,63.91L356.75,63.12L355.50,62.62L353.75,62.05L351.50,61.57L350.25,61.47L349.50,61.31L347.50,61.34L346.25,61.62L345.00,62.15L344.00,62.67L342.25,63.88L338.52,67.50L336.77,69.75L334.25,73.50L333.89,74.25L333.51,74.75L333.14,75.50L332.77,76.00L330.57,80.50L329.85,82.50L329.35,84.25L329.28,85.75L329.36,87.00L329.62,88.00L330.17,89.25L330.70,90.25L331.41,91.25L333.75,93.60L335.00,94.42L336.50,95.18L338.75,95.97L339.50,96.12L340.00,96.31L340.75,96.38L341.25,96.58L342.25,96.64L342.75,96.84L344.00,96.90L344.50,97.10L347.00,97.16L347.25,97.31L348.00,97.38L350.75,97.38L351.31,97.25" fill="none" stroke="#5a5a5a" stroke-width="0.45" stroke-linejoin="round"/>
<path d="M351.36,96.50L353.25,96.30L355.00,95.98L356.50,95.58L357.75,95.12L359.09,94.50L360.25,93.81L361.50,92.88L362.77,91.75L363.90,90.50L364.81,89.25L365.52,88.00L366.06,86.75L366.38,85.75L366.61,84.50L366.71,83.00L366.67,81.50L366.42,79.75L365.95,77.75L365.31,75.75L364.60,74.00L363.71,72.25L362.75,70.70L361.50,69.03L360.25,67.65L359.00,66.52L357.75,65.61L356.50,64.89L355.00,64.23L353.50,63.76L351.75,63.39L350.00,63.21L348.50,63.23L347.00,63.46L345.75,63.83L344.50,64.38L343.00,65.27L341.50,66.40L340.00,67.74L338.75,69.07L337.50,70.61L335.98,72.75L334.72,74.75L333.62,76.75L332.59,79.00L331.86,81.00L331.41,82.75L331.21,84.25L331.23,85.75L331.44,87.00L331.84,88.25L332.46,89.50L333.11,90.50L333.94,91.50L334.97,92.50L335.95,93.25L337.18,94.00L338.50,94.63L340.00,95.19L341.50,95.62L343.50,96.05L345.25,96.33L348.25,96.61L350.00,96.62L351.36,96.50" fill="none" stroke="#585858" stroke-width="0.45" stroke-linejoin="round"/>
<path d="M351.87,95.50L353.50,95.25L355.00,94.89L356.25,94.48L357.50,93.94L358.75,93.26L359.86,92.50L361.05,91.50L362.02,90.50L362.81,89.50L363.62,88.25L364.23,87.00L364.67,85.75L364.96,84.50L365.11,83.25L365.13,82.00L365.02,80.50L364.76,79.00L364.30,77.25L363.66,75.50L362.96,74.00L362.09,72.50L361.21,71.25L360.17,70.00L359.00,68.85L357.96,68.00L356.75,67.19L355.50,66.53L354.00,65.94L352.50,65.54L351.00,65.31L349.50,65.25L348.25,65.34L346.75,65.63L345.50,66.04L344.25,66.61L342.75,67.51L341.50,68.44L340.25,69.55L339.00,70.87L337.88,72.25L336.75,73.85L335.75,75.50L334.85,77.25L334.13,79.00L333.58,80.75L333.27,82.25L333.14,83.75L333.20,85.25L333.44,86.50L333.75,87.50L334.33,88.75L334.95,89.75L335.74,90.75L336.76,91.75L337.75,92.52L339.00,93.29L340.25,93.91L341.75,94.48L343.25,94.91L345.00,95.29L347.00,95.55L348.75,95.67L350.25,95.65L351.87,95.50" fill="none" stroke="#575757" stroke-width="0.45" stroke-linejoin="round"/>
<path d="M351.61,94.50L353.00,94.26L354.25,93.94L355.50,93.51L356.75,92.95L357.95,92.25L358.98,91.50L359.83,90.75L360.77,89.75L361.53,88.75L362.14,87.75L362.63,86.75L363.08,85.50L363.37,84.25L363.53,83.00L363.56,81.75L363.46,80.50L363.21,79.00L362.87,77.75L362.33,76.25L361.74,75.00L361.00,73.73L360.13,72.50L359.25,71.47L358.25,70.50L357.25,69.70L356.00,68.89L355.00,68.37L353.75,67.87L352.50,67.51L351.25,67.30L349.75,67.20L348.50,67.27L347.00,67.54L345.75,67.93L344.50,68.47L343.25,69.17L342.00,70.05L341.00,70.90L339.90,72.00L338.84,73.25L337.94,74.50L337.03,76.00L336.28,77.50L335.70,79.00L335.33,80.25L335.03,81.75L334.92,83.25L334.98,84.50L335.19,85.75L335.48,86.75L336.03,88.00L336.62,89.00L337.39,90.00L338.25,90.88L339.25,91.70L340.25,92.36L341.46,93.00L342.75,93.53L344.00,93.94L345.50,94.29L347.00,94.53L348.50,94.65L350.00,94.64L351.61,94.50" fill="none" stroke="#555555" stroke-width="0.45" stroke-linejoin="round"/>
<path d="M351.56,94.00L354.00,93.46L355.25,93.02L356.35,92.50L357.25,91.98L358.29,91.25L359.25,90.42L360.11,89.50L360.86,88.50L361.47,87.50L361.95,86.50L362.39,85.25L362.62,84.25L362.79,83.00L362.82,81.75L362.73,80.50L362.47,79.00L362.12,77.75L361.65,76.50L361.04,75.25L360.29,74.00L359.55,73.00L358.67,72.00L357.75,71.13L356.75,70.35L355.50,69.57L354.50,69.09L353.25,68.62L352.00,68.31L350.75,68.13L349.50,68.09L348.25,68.19L347.00,68.43L345.75,68.82L344.50,69.36L343.25,70.08L342.00,70.98L341.00,71.86L340.00,72.90L339.10,74.00L338.24,75.25L337.51,76.50L336.91,77.75L336.35,79.25L335.96,80.75L335.77,82.00L335.72,83.25L335.80,84.50L336.05,85.75L336.37,86.75L336.82,87.75L337.42,88.75L338.20,89.75L338.93,90.50L339.82,91.25L340.93,92.00L342.00,92.57L343.25,93.10L344.50,93.51L346.00,93.86L347.50,94.08L348.75,94.16L350.25,94.13L351.56,94.00" fill="none" stroke="#545454" stroke-width="0.45" stroke-linejoin="round"/>
<path d="M351.49,93.50L352.75,93.26L354.00,92.90L356.07,92.00L357.00,91.44L358.00,90.70L358.77,90.00L359.67,89.00L360.39,88.00L360.95,87.00L361.39,86.00L361.72,85.00L361.94,84.00L362.09,82.75L362.11,81.75L362.01,80.50L361.79,79.25L361.45,78.00L360.97,76.75L360.49,75.75L359.75,74.52L359.00,73.51L358.25,72.67L357.25,71.74L356.25,70.98L355.25,70.37L354.25,69.88L353.00,69.43L352.00,69.17L350.75,68.99L349.50,68.94L348.25,69.04L347.00,69.28L346.00,69.58L344.75,70.11L343.75,70.65L342.75,71.32L341.60,72.25L340.59,73.25L339.74,74.25L338.85,75.50L338.13,76.75L337.54,78.00L337.08,79.25L336.75,80.50L336.55,81.75L336.48,83.00L336.56,84.25L336.74,85.25L337.04,86.25L337.45,87.25L338.01,88.25L338.74,89.25L339.44,90.00L340.28,90.75L341.34,91.50L342.50,92.15L343.75,92.69L345.00,93.09L346.25,93.38L347.75,93.60L349.00,93.66L350.25,93.63L351.49,93.50" fill="none" stroke="#525252" stroke-width="0.45" stroke-linejoin="round"/>
<path d="M351.32,93.00L352.50,92.77L353.75,92.41L355.75,91.51L356.75,90.88L357.57,90.25L359.03,88.75L359.58,88.00L360.18,87.00L360.64,86.00L360.98,85.00L361.21,84.00L361.37,82.75L361.39,81.75L361.29,80.50L361.12,79.50L360.78,78.25L360.29,77.00L359.79,76.00L359.18,75.00L358.42,74.00L357.50,73.01L356.75,72.34L355.75,71.61L354.75,71.03L353.75,70.57L352.75,70.22L351.50,69.93L350.50,69.81L349.25,69.79L348.25,69.88L347.00,70.12L346.00,70.43L345.00,70.85L344.00,71.38L343.00,72.04L342.00,72.84L341.07,73.75L340.21,74.75L339.49,75.75L338.76,77.00L338.28,78.00L337.81,79.25L337.48,80.50L337.29,81.75L337.24,83.00L337.31,84.00L337.49,85.00L337.77,86.00L338.19,87.00L338.75,88.00L339.28,88.75L340.00,89.56L340.75,90.26L341.75,91.00L342.75,91.59L343.75,92.06L345.00,92.52L346.25,92.84L347.50,93.05L348.75,93.14L350.00,93.13L351.32,93.00" fill="none" stroke="#515151" stroke-width="0.45" stroke-linejoin="round"/>
<path d="M350.90,92.50L353.00,92.05L354.00,91.69L355.00,91.23L356.00,90.64L356.86,90.00L357.68,89.25L358.36,88.50L358.91,87.75L359.51,86.75L359.96,85.75L360.29,84.75L360.62,82.75L360.57,80.75L360.35,79.50L360.07,78.50L359.69,77.50L359.20,76.50L358.00,74.72L356.50,73.19L355.75,72.61L354.75,71.98L353.75,71.49L352.75,71.11L351.75,70.85L350.75,70.70L349.50,70.64L348.50,70.70L347.25,70.92L346.25,71.21L345.25,71.61L344.25,72.14L343.25,72.79L342.37,73.50L341.50,74.35L340.75,75.22L340.01,76.25L339.43,77.25L338.58,79.25L338.30,80.25L338.08,81.50L338.02,82.75L338.08,83.75L338.24,84.75L338.52,85.75L338.94,86.75L339.34,87.50L340.00,88.45L340.71,89.25L342.25,90.53L343.25,91.14L344.25,91.61L346.25,92.26L348.50,92.58L349.75,92.60L350.90,92.50" fill="none" stroke="#4f4f4f" stroke-width="0.45" stroke-linejoin="round"/>
<path d="M350.43,92.00L352.50,91.61L354.25,90.94L356.00,89.88L356.76,89.25L357.49,88.50L358.58,87.00L359.39,85.25L359.68,84.25L359.85,83.25L359.89,81.25L359.53,79.25L359.20,78.25L358.75,77.25L357.64,75.50L356.25,74.01L355.50,73.41L354.50,72.76L352.75,71.98L351.00,71.56L350.00,71.47L349.00,71.48L348.00,71.59L347.00,71.81L346.00,72.14L345.00,72.60L343.25,73.72L342.35,74.50L341.64,75.25L340.37,77.00L339.84,78.00L339.42,79.00L339.10,80.00L338.86,81.25L338.77,82.25L338.79,83.25L338.92,84.25L339.16,85.25L339.53,86.25L339.91,87.00L341.00,88.53L341.70,89.25L342.50,89.90L344.25,90.95L346.25,91.67L348.25,92.01L349.25,92.06L350.43,92.00" fill="none" stroke="#4e4e4e" stroke-width="0.45" stroke-linejoin="round"/>
<path d="M349.64,91.50L351.50,91.28L352.50,91.02L353.50,90.65L355.13,89.75L356.50,88.62L357.64,87.25L358.09,86.50L358.56,85.50L359.06,83.75L359.21,82.00L359.15,81.00L358.98,80.00L358.41,78.25L357.45,76.50L356.25,75.06L354.75,73.83L354.00,73.38L353.00,72.92L351.25,72.41L349.50,72.26L348.50,72.32L347.50,72.49L345.75,73.07L344.00,74.07L342.50,75.36L341.19,77.00L340.27,78.75L339.91,79.75L339.66,80.75L339.50,82.50L339.67,84.25L340.22,86.00L341.07,87.50L341.67,88.25L342.42,89.00L344.00,90.13L345.75,90.92L347.75,91.40L349.64,91.50" fill="none" stroke="#4c4c4c" stroke-width="0.45" stroke-linejoin="round"/>
<path d="M351.16,90.75L353.00,90.20L354.50,89.42L355.95,88.25L356.99,87.00L357.81,85.50L358.28,84.00L358.48,82.25L358.33,80.50L357.81,78.75L357.00,77.19L355.84,75.75L354.50,74.62L353.00,73.79L351.50,73.29L349.75,73.07L348.00,73.20L346.25,73.71L344.71,74.50L343.25,75.65L342.00,77.09L341.05,78.75L340.47,80.50L340.24,82.25L340.38,84.00L340.63,85.00L340.92,85.75L341.75,87.22L342.88,88.50L344.20,89.50L345.75,90.27L347.50,90.76L349.25,90.93L351.16,90.75" fill="none" stroke="#4b4b4b" stroke-width="0.45" stroke-linejoin="round"/>
<path d="M350.57,90.25L352.00,89.93L353.57,89.25L355.00,88.25L356.00,87.21L356.80,86.00L357.42,84.50L357.72,83.00L357.70,81.25L357.30,79.50L356.61,78.00L355.72,76.75L354.50,75.58L353.25,74.78L351.75,74.18L350.25,73.90L348.50,73.92L346.75,74.34L345.25,75.05L343.95,76.00L342.79,77.25L341.85,78.75L341.28,80.25L340.99,82.00L341.05,83.50L341.40,85.00L342.12,86.50L343.09,87.75L344.25,88.75L345.75,89.60L347.25,90.10L349.00,90.34L350.57,90.25" fill="none" stroke="#494949" stroke-width="0.45" stroke-linejoin="round"/>
<path d="M351.29,89.50L352.75,88.98L353.97,88.25L355.00,87.35L355.87,86.25L356.51,85.00L356.94,83.50L357.04,82.00L356.83,80.50L356.30,79.00L355.56,77.75L354.68,76.75L353.50,75.82L352.25,75.18L350.75,74.75L349.25,74.64L347.75,74.84L346.25,75.37L345.00,76.11L343.75,77.23L342.81,78.50L342.20,79.75L341.80,81.25L341.71,82.75L341.93,84.25L342.38,85.50L343.14,86.75L344.25,87.92L345.46,88.75L346.75,89.32L348.25,89.67L349.75,89.73L351.29,89.50" fill="none" stroke="#484848" stroke-width="0.45" stroke-linejoin="round"/>
<path d="M350.74,89.00L352.00,88.63L353.25,87.98L354.43,87.00L355.23,86.00L355.87,84.75L356.22,83.50L356.33,82.25L356.20,81.00L355.83,79.75L355.17,78.50L354.25,77.38L353.25,76.57L352.00,75.90L350.75,75.54L349.50,75.41L348.25,75.52L347.00,75.87L345.74,76.50L344.50,77.50L343.67,78.50L342.98,79.75L342.58,81.00L342.42,82.50L342.55,83.75L342.93,85.00L343.63,86.25L344.50,87.25L345.50,88.03L346.75,88.66L348.00,89.01L349.25,89.14L350.74,89.00" fill="none" stroke="#464646" stroke-width="0.45" stroke-linejoin="round"/>
<path d="M349.85,88.50L351.00,88.31L352.00,87.95L353.00,87.38L354.00,86.50L354.75,85.50L355.23,84.50L355.55,83.25L355.61,82.00L355.40,80.75L355.00,79.68L354.26,78.50L353.50,77.71L352.50,76.99L351.50,76.53L350.25,76.23L349.00,76.19L347.75,76.41L346.75,76.79L345.75,77.39L344.75,78.29L344.04,79.25L343.46,80.50L343.18,81.75L343.16,83.00L343.41,84.25L343.82,85.25L344.49,86.25L345.25,87.03L346.25,87.72L347.50,88.25L348.75,88.49L349.85,88.50" fill="none" stroke="#454545" stroke-width="0.45" stroke-linejoin="round"/>
<path d="M350.64,87.75L351.75,87.37L352.75,86.76L353.50,86.07L354.12,85.25L354.60,84.25L354.85,83.25L354.91,82.25L354.79,81.25L354.47,80.25L353.91,79.25L353.25,78.48L352.31,77.75L351.25,77.24L350.25,76.99L349.25,76.93L348.25,77.05L347.25,77.37L346.25,77.93L345.50,78.55L344.74,79.50L344.23,80.50L343.94,81.50L343.85,82.75L344.00,83.75L344.35,84.75L344.95,85.75L345.65,86.50L346.50,87.12L347.50,87.58L348.50,87.83L349.50,87.90L350.64,87.75" fill="none" stroke="#434343" stroke-width="0.45" stroke-linejoin="round"/>
<path d="M349.88,87.25L350.75,87.08L351.75,86.66L352.50,86.15L353.14,85.50L353.65,84.75L354.05,83.75L354.20,83.00L354.21,82.00L354.00,81.00L353.69,80.25L353.20,79.50L352.50,78.77L351.75,78.26L350.75,77.84L350.00,77.69L349.00,77.67L348.00,77.86L347.09,78.25L346.25,78.83L345.60,79.50L345.11,80.25L344.71,81.25L344.57,82.00L344.56,83.00L344.78,84.00L345.10,84.75L345.60,85.50L346.36,86.25L347.15,86.75L348.00,87.09L349.00,87.27L349.88,87.25" fill="none" stroke="#424242" stroke-width="0.45" stroke-linejoin="round"/>
<path d="M350.43,86.50L351.25,86.19L351.94,85.75L352.50,85.23L353.00,84.52L353.34,83.75L353.50,83.00L353.52,82.25L353.41,81.50L353.14,80.75L352.68,80.00L352.22,79.50L351.50,78.96L350.75,78.61L350.00,78.43L349.00,78.40L348.25,78.55L347.50,78.85L346.75,79.35L346.25,79.84L345.79,80.50L345.45,81.25L345.28,82.00L345.25,82.75L345.35,83.50L345.61,84.25L346.06,85.00L346.51,85.50L347.25,86.06L348.00,86.41L348.75,86.59L349.50,86.64L350.43,86.50" fill="none" stroke="#404040" stroke-width="0.45" stroke-linejoin="round"/>
<path d="M349.71,86.00L350.25,85.91L351.00,85.62L351.56,85.25L352.07,84.75L352.41,84.25L352.73,83.50L352.84,83.00L352.85,82.25L352.70,81.50L352.36,80.75L351.99,80.25L351.50,79.79L351.00,79.47L350.25,79.19L349.75,79.10L349.00,79.10L348.25,79.28L347.75,79.50L347.05,80.00L346.60,80.50L346.29,81.00L346.01,81.75L345.92,82.25L345.94,83.00L346.12,83.75L346.35,84.25L346.75,84.82L347.25,85.29L347.75,85.62L348.50,85.91L349.00,86.00L349.71,86.00" fill="none" stroke="#3f3f3f" stroke-width="0.45" stroke-linejoin="round"/>
<path d="M350.24,85.25L350.75,85.03L351.25,84.67L351.64,84.25L351.94,83.75L352.19,82.75L352.07,81.75L351.87,81.25L351.52,80.75L350.75,80.12L350.25,79.90L349.75,79.79L349.00,79.80L348.50,79.92L348.00,80.15L347.52,80.50L346.93,81.25L346.60,82.25L346.61,83.00L346.73,83.50L346.96,84.00L347.33,84.50L347.75,84.87L348.25,85.15L349.25,85.39L350.24,85.25" fill="none" stroke="#3d3d3d" stroke-width="0.45" stroke-linejoin="round"/>
<path d="M350.36,84.50L351.00,84.00L351.43,83.25L351.52,82.50L351.35,81.75L350.81,81.00L350.25,80.64L349.75,80.49L349.25,80.47L348.50,80.66L347.75,81.25L347.35,82.00L347.26,82.75L347.44,83.50L348.00,84.24L348.75,84.65L349.50,84.74L350.00,84.65L350.36,84.50" fill="none" stroke="#3c3c3c" stroke-width="0.45" stroke-linejoin="round"/>
<path d="M349.83,84.00L350.30,83.75L350.70,83.25L350.83,82.75L350.80,82.25L350.50,81.67L350.00,81.29L349.50,81.16L349.00,81.22L348.48,81.50L348.09,82.00L347.95,82.50L347.98,83.00L348.25,83.54L348.75,83.94L349.25,84.07L349.83,84.00" fill="none" stroke="#3a3a3a" stroke-width="0.45" stroke-linejoin="round"/>
<path d="M365.0,102.5 L378.8,18.0 L383.8,13.8 L406.5,13.8" fill="none" stroke="#231f20" stroke-width="0.8" stroke-linejoin="miter"/>
<line x1="365.0" y1="102.2" x2="406.5" y2="102.2" stroke="#231f20" stroke-width="0.8"/>
<rect x="366" y="18.6" width="38" height="30.799999999999997" fill="#fff" fill-opacity="0.85"/>
<text x="366.6" y="31.2" font-size="9.45" text-anchor="start" font-weight="normal" fill="#231f20" stroke="#231f20" stroke-width="0.22">TUNEL+</text>
<text x="376.0" y="42.6" font-size="9.45" text-anchor="start" font-weight="normal" fill="#231f20" stroke="#231f20" stroke-width="0.22">14.4</text>
<path d="M490.61,92.75L491.75,92.63L492.00,92.44L492.75,92.38L493.00,92.19L493.50,92.14L493.75,91.95L494.25,91.90L494.50,91.70L495.00,91.65L495.25,91.44L495.50,91.41L495.75,91.20L496.00,91.16L496.25,90.95L496.50,90.92L496.75,90.70L497.00,90.67L497.25,90.45L497.50,90.42L497.75,90.20L498.00,90.16L498.50,89.70L498.75,89.67L499.25,89.20L499.50,89.17L500.25,88.46L500.50,88.42L501.69,87.25L502.00,87.17L503.17,86.00L503.25,85.70L504.42,84.50L504.46,84.25L505.17,83.50L505.21,83.25L505.67,82.75L505.70,82.50L506.17,82.00L506.20,81.75L506.42,81.50L506.45,81.25L506.67,81.00L506.70,80.75L507.15,80.25L507.20,79.75L507.42,79.50L507.45,79.25L507.66,79.00L507.69,78.75L507.90,78.50L507.95,78.00L508.15,77.75L508.19,77.25L508.39,77.00L508.44,76.25L508.64,76.00L508.69,75.25L508.87,75.00L508.94,73.50L509.11,73.25L509.15,73.00L509.16,69.25L509.35,68.75L509.36,67.75L509.33,67.00L509.14,66.50L508.97,63.00L508.81,62.50L508.68,61.50L508.37,60.25L507.75,58.58L507.03,57.00L506.50,56.19L505.75,55.33L504.75,54.53L504.00,54.15L503.00,53.98L502.00,54.13L500.50,54.72L499.00,55.59L497.25,56.88L494.43,59.25L494.00,59.49L492.89,60.50L492.50,60.68L491.75,61.35L491.50,61.42L490.61,62.25L490.25,62.40L489.25,63.33L489.00,63.39L488.10,64.25L487.75,64.38L486.34,65.75L486.00,65.87L483.58,68.25L483.25,68.37L481.60,70.00L480.14,71.50L480.00,71.85L478.90,73.00L478.84,73.25L478.40,73.75L478.34,74.00L477.91,74.50L477.84,74.75L477.43,75.25L475.98,78.25L475.66,79.25L475.62,79.75L475.42,80.25L475.37,81.25L475.19,81.75L475.14,82.75L474.98,83.25L474.96,84.50L475.02,85.25L475.36,86.50L475.85,87.50L476.38,88.25L478.25,89.71L480.25,90.78L481.25,91.28L482.50,91.65L482.75,91.81L483.25,91.90L483.50,92.07L484.00,92.16L484.25,92.32L485.00,92.41L485.25,92.58L485.50,92.63L486.25,92.67L486.50,92.83L486.75,92.88L490.00,92.91L490.50,92.86L490.61,92.75" fill="none" stroke="#606060" stroke-width="0.45" stroke-linejoin="round"/>
<path d="M490.45,92.00L492.75,91.61L494.25,91.18L495.50,90.71L498.00,89.47L500.50,87.75L502.48,86.00L504.51,83.50L505.79,81.50L506.56,80.00L507.18,78.50L507.64,77.00L507.92,75.75L508.12,74.50L508.26,72.75L508.11,68.75L507.75,66.54L507.35,65.00L506.91,63.75L506.45,62.75L505.85,61.75L505.25,60.98L504.50,60.23L503.75,59.68L502.75,59.17L501.50,58.84L500.25,58.78L499.00,58.95L497.50,59.39L495.75,60.17L494.00,61.13L491.75,62.53L489.25,64.28L485.75,67.08L483.13,69.50L481.47,71.25L480.08,73.00L479.25,74.25L478.40,75.75L477.63,77.50L477.14,79.00L476.89,80.25L476.74,81.75L476.75,83.25L476.94,84.50L477.24,85.50L477.73,86.50L478.45,87.50L479.46,88.50L480.83,89.50L482.25,90.30L484.00,91.06L485.75,91.61L487.25,91.92L489.00,92.06L490.45,92.00" fill="none" stroke="#5e5e5e" stroke-width="0.45" stroke-linejoin="round"/>
<path d="M491.70,90.75L493.00,90.53L494.25,90.22L496.50,89.37L498.75,88.12L500.75,86.63L502.43,85.00L503.27,84.00L504.17,82.75L505.33,80.75L506.25,78.50L506.60,77.25L506.84,76.00L507.03,73.50L506.83,71.00L506.60,69.75L506.25,68.45L505.45,66.50L504.86,65.50L504.25,64.69L503.50,63.91L502.75,63.31L502.00,62.86L501.00,62.43L499.75,62.13L498.50,62.05L497.25,62.15L495.75,62.48L494.25,63.00L492.75,63.67L491.00,64.61L489.25,65.73L487.50,67.02L486.00,68.27L484.15,70.00L482.77,71.50L481.80,72.75L480.81,74.25L480.03,75.75L479.43,77.25L479.08,78.50L478.83,80.00L478.78,81.50L478.91,82.75L479.21,84.00L479.61,85.00L480.18,86.00L480.97,87.00L482.03,88.00L483.25,88.87L484.50,89.56L486.00,90.17L487.50,90.58L488.75,90.78L490.25,90.85L491.70,90.75" fill="none" stroke="#5c5c5c" stroke-width="0.45" stroke-linejoin="round"/>
<path d="M492.34,89.50L494.50,89.08L496.50,88.35L498.50,87.27L500.50,85.78L502.02,84.25L503.35,82.50L504.47,80.50L505.22,78.50L505.67,76.25L505.73,74.00L505.39,71.75L504.75,69.80L504.25,68.79L503.75,67.99L503.17,67.25L502.50,66.56L501.75,65.95L501.00,65.48L499.50,64.86L498.25,64.61L497.00,64.55L495.75,64.65L494.50,64.91L493.25,65.30L491.75,65.93L490.50,66.57L489.00,67.51L487.50,68.61L486.25,69.69L485.00,70.92L484.00,72.07L483.12,73.25L482.36,74.50L481.65,76.00L481.21,77.25L480.92,78.50L480.78,79.75L480.79,81.00L480.96,82.25L481.33,83.50L481.75,84.43L482.42,85.50L483.04,86.25L484.00,87.15L485.00,87.87L486.14,88.50L487.25,88.95L488.50,89.31L489.75,89.51L491.00,89.58L492.34,89.50" fill="none" stroke="#595959" stroke-width="0.45" stroke-linejoin="round"/>
<path d="M492.63,88.25L494.50,87.94L496.25,87.35L498.00,86.46L499.75,85.22L501.25,83.77L502.42,82.25L503.40,80.50L504.05,78.75L504.40,77.00L504.45,75.00L504.11,73.00L503.50,71.34L502.53,69.75L501.50,68.63L500.75,68.04L500.00,67.59L498.50,66.99L497.50,66.77L496.50,66.69L495.50,66.71L494.25,66.89L493.00,67.22L491.75,67.69L490.50,68.31L489.50,68.90L488.30,69.75L487.25,70.63L485.47,72.50L484.73,73.50L483.97,74.75L483.39,76.00L483.05,77.00L482.81,78.00L482.66,79.25L482.66,80.25L482.77,81.25L483.01,82.25L483.39,83.25L483.93,84.25L484.50,85.02L485.25,85.82L486.07,86.50L487.00,87.09L488.00,87.57L489.00,87.91L490.25,88.18L491.50,88.29L492.63,88.25" fill="none" stroke="#575757" stroke-width="0.45" stroke-linejoin="round"/>
<path d="M493.12,87.00L494.75,86.72L496.50,86.11L498.00,85.29L499.40,84.25L500.65,83.00L501.75,81.50L502.52,80.00L503.00,78.50L503.23,77.00L503.17,75.25L502.82,73.75L502.15,72.25L501.25,71.00L500.25,70.07L499.00,69.30L497.50,68.77L495.75,68.56L494.75,68.61L493.75,68.77L492.75,69.04L491.75,69.42L490.75,69.90L489.75,70.50L488.75,71.23L487.88,72.00L487.00,72.92L486.35,73.75L485.31,75.50L484.89,76.50L484.60,77.50L484.43,78.50L484.38,79.50L484.58,81.25L484.90,82.25L485.25,83.00L485.71,83.75L486.31,84.50L487.00,85.16L487.75,85.72L489.30,86.50L490.25,86.79L491.25,86.97L493.12,87.00" fill="none" stroke="#555555" stroke-width="0.45" stroke-linejoin="round"/>
<path d="M493.44,85.75L494.75,85.53L496.25,85.01L497.50,84.36L498.75,83.44L499.94,82.25L500.75,81.14L501.47,79.75L501.86,78.50L502.03,77.25L501.98,76.00L501.69,74.75L501.12,73.50L500.40,72.50L499.50,71.66L498.25,70.92L497.00,70.50L496.25,70.37L495.25,70.32L493.50,70.55L491.75,71.15L490.25,72.01L488.75,73.24L487.67,74.50L486.78,76.00L486.39,77.00L486.19,77.75L486.06,78.50L486.02,79.50L486.23,81.00L486.48,81.75L486.84,82.50L487.75,83.73L488.30,84.25L489.00,84.75L490.25,85.36L491.75,85.72L493.44,85.75" fill="none" stroke="#535353" stroke-width="0.45" stroke-linejoin="round"/>
<path d="M493.75,84.50L494.75,84.31L496.00,83.88L497.16,83.25L498.17,82.50L499.00,81.68L499.75,80.70L500.39,79.50L500.71,78.50L500.85,77.50L500.81,76.50L500.58,75.50L500.11,74.50L499.50,73.69L498.75,73.03L497.75,72.45L496.75,72.12L495.50,71.96L494.00,72.09L492.50,72.55L491.17,73.25L490.00,74.16L489.00,75.26L488.23,76.50L487.70,78.00L487.55,79.25L487.67,80.50L488.12,81.75L488.80,82.75L489.75,83.59L491.00,84.22L492.25,84.50L493.75,84.50" fill="none" stroke="#515151" stroke-width="0.45" stroke-linejoin="round"/>
<path d="M493.80,83.25L494.75,83.05L495.50,82.78L496.50,82.26L497.25,81.73L498.00,81.05L498.67,80.25L499.14,79.50L499.46,78.75L499.65,78.00L499.71,77.25L499.62,76.50L499.36,75.75L499.00,75.15L498.50,74.60L498.00,74.22L497.25,73.84L496.25,73.58L495.00,73.54L493.75,73.78L492.75,74.17L491.50,74.93L490.59,75.75L489.82,76.75L489.31,77.75L489.01,79.00L489.01,80.00L489.28,81.00L489.75,81.81L490.50,82.53L491.50,83.05L492.50,83.27L493.80,83.25" fill="none" stroke="#4e4e4e" stroke-width="0.45" stroke-linejoin="round"/>
<path d="M493.84,82.00L495.00,81.64L496.25,80.94L497.33,80.00L498.25,78.76L498.62,77.75L498.66,77.25L498.60,76.75L498.25,76.00L498.00,75.71L497.50,75.34L496.75,75.06L495.75,74.96L495.00,75.04L494.00,75.32L493.00,75.79L492.00,76.50L491.26,77.25L490.75,78.00L490.34,79.00L490.24,79.75L490.34,80.50L490.75,81.24L491.25,81.67L492.00,81.99L492.75,82.11L493.84,82.00" fill="none" stroke="#4c4c4c" stroke-width="0.45" stroke-linejoin="round"/>
<path d="M493.03,81.00L493.25,80.78L493.75,80.77L494.00,80.53L494.50,80.52L494.75,80.28L495.03,80.25L495.50,79.78L495.75,79.77L497.50,78.02L497.52,77.75L497.76,77.50L497.76,76.75L497.27,76.25L495.75,76.23L495.50,76.47L495.00,76.48L494.75,76.72L494.50,76.73L494.25,76.97L494.00,76.98L493.75,77.22L493.50,77.23L492.75,77.96L492.50,77.98L492.00,78.48L491.97,78.75L491.50,79.23L491.48,79.50L491.24,79.75L491.24,80.50L491.50,80.76L491.75,80.77L492.00,81.01L493.03,81.00" fill="none" stroke="#4a4a4a" stroke-width="0.45" stroke-linejoin="round"/>
<path d="M455.69,95.00L456.00,94.87L457.00,94.81L457.50,94.62L458.00,94.57L458.50,94.38L459.00,94.33L459.50,94.13L460.00,94.08L463.25,92.99L464.00,92.62L464.50,92.49L468.50,90.44L470.00,89.41L471.00,88.62L471.61,88.00L472.35,87.00L473.14,85.50L473.73,83.75L473.82,83.00L473.99,82.50L474.10,81.00L474.26,80.50L474.30,80.00L474.27,73.50L474.10,73.00L474.03,72.00L473.85,71.50L473.78,70.75L473.34,69.25L473.27,68.75L472.69,67.00L471.69,64.75L470.17,62.25L468.37,59.75L465.50,56.89L464.25,55.94L462.50,54.91L460.75,54.16L459.00,53.58L457.00,53.10L454.00,52.60L452.00,52.58L450.25,52.65L448.75,52.95L447.75,53.28L446.25,54.00L445.00,54.79L444.00,55.55L443.28,56.25L441.94,58.00L441.14,59.25L440.62,60.25L439.56,62.75L438.27,66.50L438.13,67.25L437.76,68.25L437.63,69.00L437.43,69.50L437.38,70.00L436.94,71.50L436.87,72.50L436.69,73.00L436.62,74.25L436.45,74.75L436.45,77.75L436.63,78.25L436.69,79.25L436.87,79.75L436.93,80.50L437.13,81.00L437.18,81.50L438.26,84.75L438.64,85.50L438.77,86.00L439.53,87.50L439.91,88.00L440.30,88.75L441.27,90.00L442.75,91.47L444.50,92.70L445.50,93.22L447.25,93.97L449.00,94.54L449.50,94.60L450.00,94.79L451.00,94.86L451.75,95.06L454.75,95.09L455.69,95.00" fill="none" stroke="#5a5a5a" stroke-width="0.45" stroke-linejoin="round"/>
<path d="M455.78,94.00L457.75,93.67L460.00,93.11L462.25,92.36L464.25,91.51L466.17,90.50L467.78,89.50L469.25,88.35L470.35,87.25L471.10,86.25L471.80,85.00L472.40,83.50L472.79,82.00L473.09,80.25L473.24,78.50L473.27,76.00L473.17,74.00L472.87,72.00L472.34,69.75L471.68,67.75L470.91,66.00L469.78,64.00L468.50,62.16L467.25,60.65L465.75,59.16L464.25,57.94L462.75,56.97L461.00,56.10L459.25,55.46L457.25,54.94L455.25,54.63L453.25,54.51L451.50,54.61L450.00,54.87L448.50,55.32L447.25,55.88L446.00,56.61L444.75,57.57L443.75,58.56L442.75,59.77L441.92,61.00L440.95,62.75L440.00,64.89L439.21,67.00L438.36,69.75L437.84,72.00L437.47,74.50L437.38,76.00L437.46,77.75L437.72,79.50L438.17,81.50L438.83,83.50L439.54,85.25L440.32,86.75L441.25,88.17L442.25,89.39L443.25,90.37L444.50,91.34L445.75,92.10L447.25,92.80L449.00,93.43L450.50,93.80L452.25,94.05L454.25,94.11L455.78,94.00" fill="none" stroke="#595959" stroke-width="0.45" stroke-linejoin="round"/>
<path d="M456.58,92.75L458.50,92.38L460.25,91.89L462.00,91.25L463.75,90.45L465.43,89.50L466.75,88.59L468.03,87.50L469.00,86.46L469.88,85.25L470.56,84.00L471.06,82.75L471.49,81.25L471.80,79.50L471.95,77.75L471.96,75.75L471.84,74.00L471.56,72.25L471.06,70.25L470.45,68.50L469.65,66.75L468.63,65.00L467.56,63.50L466.26,62.00L465.00,60.80L463.75,59.81L462.25,58.85L460.75,58.10L459.00,57.44L457.25,56.99L455.50,56.73L453.75,56.66L452.25,56.76L450.75,57.02L449.25,57.47L448.00,58.01L446.75,58.73L445.50,59.67L444.50,60.61L443.50,61.76L442.50,63.18L441.50,64.93L440.65,66.75L439.89,68.75L439.23,71.00L438.81,73.00L438.59,74.75L438.54,76.50L438.66,78.25L438.96,80.00L439.42,81.75L440.04,83.50L440.73,85.00L441.61,86.50L442.50,87.72L443.50,88.82L444.50,89.71L445.75,90.60L447.00,91.30L448.50,91.95L450.00,92.42L451.50,92.74L453.25,92.92L455.00,92.91L456.58,92.75" fill="none" stroke="#575757" stroke-width="0.45" stroke-linejoin="round"/>
<path d="M457.12,91.50L458.75,91.15L460.50,90.60L462.00,89.98L463.43,89.25L464.75,88.42L466.00,87.47L467.03,86.50L468.00,85.36L468.74,84.25L469.38,83.00L469.86,81.75L470.26,80.25L470.51,78.75L470.63,77.00L470.60,75.25L470.44,73.75L470.10,72.00L469.68,70.50L469.00,68.75L468.25,67.26L467.30,65.75L466.34,64.50L465.25,63.31L464.00,62.18L462.75,61.26L461.25,60.38L460.00,59.80L458.50,59.28L457.00,58.93L455.25,58.71L453.75,58.69L452.25,58.84L450.75,59.17L449.50,59.59L448.25,60.17L447.00,60.94L445.75,61.94L444.75,62.93L443.75,64.14L442.84,65.50L442.00,67.01L441.22,68.75L440.61,70.50L440.15,72.25L439.85,74.00L439.72,75.50L439.72,77.00L439.90,78.75L440.20,80.25L440.63,81.75L441.21,83.25L441.97,84.75L442.77,86.00L443.75,87.23L444.75,88.23L445.75,89.04L447.00,89.85L448.25,90.49L449.50,90.98L451.00,91.39L452.50,91.65L454.00,91.75L455.50,91.70L457.12,91.50" fill="none" stroke="#565656" stroke-width="0.45" stroke-linejoin="round"/>
<path d="M456.48,91.00L458.00,90.73L459.50,90.32L461.00,89.76L462.50,89.05L463.75,88.32L465.00,87.42L466.05,86.50L467.00,85.46L467.75,84.45L468.45,83.25L469.00,82.00L469.47,80.50L469.77,79.00L469.92,77.50L469.94,76.00L469.84,74.50L469.55,72.75L469.17,71.25L468.63,69.75L467.94,68.25L467.21,67.00L466.25,65.64L465.25,64.47L464.00,63.28L462.75,62.31L461.50,61.53L460.25,60.90L458.75,60.34L457.25,59.95L455.75,59.72L454.25,59.67L453.00,59.75L451.50,60.00L450.25,60.37L449.00,60.88L447.75,61.57L446.50,62.47L445.50,63.37L444.50,64.48L443.73,65.50L442.79,67.00L442.04,68.50L441.44,70.00L440.90,71.75L440.57,73.25L440.35,75.00L440.31,76.50L440.40,78.00L440.64,79.50L441.01,81.00L441.55,82.50L442.12,83.75L442.84,85.00L443.75,86.25L444.75,87.35L445.75,88.23L446.84,89.00L448.00,89.66L449.25,90.21L450.75,90.69L452.00,90.95L453.50,91.12L455.00,91.13L456.48,91.00" fill="none" stroke="#545454" stroke-width="0.45" stroke-linejoin="round"/>
<path d="M455.32,90.50L456.75,90.35L458.25,90.05L459.75,89.59L461.00,89.09L462.25,88.47L463.50,87.70L464.75,86.75L465.80,85.75L466.65,84.75L467.33,83.75L468.00,82.50L468.49,81.25L468.85,80.00L469.12,78.50L469.23,77.25L469.23,75.75L469.10,74.25L468.82,72.75L468.40,71.25L467.83,69.75L467.21,68.50L466.45,67.25L465.52,66.00L464.50,64.88L463.50,63.96L462.21,63.00L461.00,62.27L459.50,61.58L458.25,61.16L456.75,60.82L455.25,60.65L454.00,60.65L452.75,60.76L451.50,61.01L450.25,61.40L449.00,61.94L447.75,62.67L446.75,63.41L445.75,64.32L444.75,65.43L443.80,66.75L443.06,68.00L442.34,69.50L441.78,71.00L441.36,72.50L441.08,74.00L440.94,75.50L440.94,77.00L441.08,78.50L441.31,79.75L441.73,81.25L442.21,82.50L442.83,83.75L443.61,85.00L444.38,86.00L445.33,87.00L446.25,87.79L447.50,88.64L448.75,89.30L450.00,89.80L451.25,90.16L452.50,90.39L454.00,90.52L455.32,90.50" fill="none" stroke="#535353" stroke-width="0.45" stroke-linejoin="round"/>
<path d="M456.61,89.75L458.00,89.48L459.25,89.12L460.75,88.52L462.00,87.88L463.25,87.08L464.25,86.29L465.08,85.50L465.94,84.50L466.64,83.50L467.19,82.50L467.73,81.25L468.11,80.00L468.36,78.75L468.52,77.25L468.53,76.00L468.41,74.50L468.14,73.00L467.80,71.75L467.25,70.28L466.62,69.00L465.85,67.75L465.11,66.75L464.22,65.75L463.14,64.75L462.00,63.89L460.75,63.13L459.50,62.55L458.25,62.11L457.00,61.81L455.75,61.63L454.25,61.58L453.00,61.69L451.75,61.92L450.50,62.30L449.25,62.85L448.25,63.41L447.25,64.12L446.24,65.00L445.25,66.06L444.35,67.25L443.59,68.50L442.97,69.75L442.47,71.00L442.02,72.50L441.72,74.00L441.56,75.50L441.55,77.00L441.66,78.25L441.94,79.75L442.30,81.00L442.78,82.25L443.41,83.50L444.03,84.50L444.80,85.50L445.75,86.50L446.75,87.35L447.75,88.03L449.00,88.70L450.25,89.21L451.50,89.56L452.75,89.79L454.00,89.90L455.25,89.89L456.61,89.75" fill="none" stroke="#525252" stroke-width="0.45" stroke-linejoin="round"/>
<path d="M455.39,89.25L456.75,89.10L458.00,88.84L459.25,88.45L460.50,87.94L461.75,87.28L462.75,86.62L463.75,85.82L464.59,85.00L465.43,84.00L466.10,83.00L466.63,82.00L467.13,80.75L467.49,79.50L467.71,78.25L467.81,77.00L467.80,75.75L467.65,74.25L467.39,73.00L467.02,71.75L466.53,70.50L465.88,69.25L465.25,68.25L464.49,67.25L463.50,66.18L462.50,65.30L461.37,64.50L460.25,63.86L459.00,63.31L457.75,62.91L456.50,62.65L455.25,62.52L454.00,62.53L452.75,62.67L451.50,62.95L450.25,63.38L449.25,63.86L448.25,64.46L447.25,65.20L446.38,66.00L445.50,66.98L444.74,68.00L443.99,69.25L443.39,70.50L442.92,71.75L442.56,73.00L442.32,74.25L442.18,75.75L442.18,77.00L442.29,78.25L442.52,79.50L442.87,80.75L443.36,82.00L444.00,83.25L444.64,84.25L445.44,85.25L446.25,86.08L447.25,86.91L448.25,87.57L449.25,88.10L450.50,88.61L451.75,88.96L453.00,89.18L454.25,89.27L455.39,89.25" fill="none" stroke="#505050" stroke-width="0.45" stroke-linejoin="round"/>
<path d="M456.55,88.50L457.75,88.26L459.00,87.88L460.25,87.36L461.25,86.82L462.25,86.17L463.09,85.50L464.00,84.63L464.74,83.75L465.42,82.75L465.96,81.75L466.38,80.75L466.75,79.50L466.95,78.50L467.09,77.25L467.10,76.00L467.00,74.75L466.77,73.50L466.42,72.25L465.94,71.00L465.44,70.00L464.75,68.88L464.00,67.89L463.19,67.00L462.25,66.15L461.25,65.42L460.25,64.82L459.25,64.34L458.00,63.89L456.75,63.59L455.50,63.43L454.25,63.42L453.25,63.50L452.25,63.68L451.00,64.04L449.75,64.57L448.75,65.14L447.75,65.85L446.75,66.74L446.00,67.56L445.28,68.50L444.65,69.50L444.02,70.75L443.53,72.00L443.17,73.25L442.93,74.50L442.81,75.75L442.81,77.00L442.92,78.25L443.16,79.50L443.45,80.50L443.93,81.75L444.44,82.75L445.07,83.75L445.86,84.75L446.58,85.50L447.50,86.29L448.50,86.97L449.50,87.51L450.50,87.93L451.75,88.31L453.00,88.54L454.00,88.64L455.25,88.63L456.55,88.50" fill="none" stroke="#4f4f4f" stroke-width="0.45" stroke-linejoin="round"/>
<path d="M455.07,88.00L456.25,87.90L457.25,87.72L458.50,87.37L459.50,86.99L460.50,86.49L461.50,85.88L462.33,85.25L463.25,84.41L464.00,83.55L464.58,82.75L465.16,81.75L465.60,80.75L465.94,79.75L466.22,78.50L466.34,77.50L466.38,76.25L466.29,75.00L466.07,73.75L465.72,72.50L465.33,71.50L464.84,70.50L464.23,69.50L463.50,68.53L462.75,67.70L461.98,67.00L461.00,66.26L460.00,65.65L459.00,65.17L458.00,64.81L456.75,64.49L455.75,64.35L454.50,64.30L453.25,64.40L452.25,64.59L451.25,64.88L450.25,65.29L449.25,65.82L448.25,66.50L447.50,67.13L446.64,68.00L445.84,69.00L445.25,69.90L444.67,71.00L444.25,72.00L443.92,73.00L443.64,74.25L443.48,75.50L443.45,76.75L443.54,78.00L443.71,79.00L444.04,80.25L444.41,81.25L444.90,82.25L445.51,83.25L446.25,84.21L447.00,85.00L447.88,85.75L448.75,86.35L449.75,86.90L450.75,87.32L452.75,87.85L454.00,87.99L455.07,88.00" fill="none" stroke="#4d4d4d" stroke-width="0.45" stroke-linejoin="round"/>
<path d="M456.21,87.25L458.25,86.77L459.25,86.38L460.25,85.87L461.87,84.75L462.68,84.00L463.34,83.25L463.89,82.50L464.47,81.50L464.92,80.50L465.25,79.50L465.61,77.50L465.65,76.50L465.58,75.25L465.37,74.00L465.09,73.00L464.72,72.00L464.24,71.00L463.63,70.00L463.00,69.17L461.50,67.66L460.75,67.09L459.75,66.48L458.75,66.00L457.75,65.63L456.75,65.38L455.75,65.23L454.50,65.18L453.50,65.26L452.50,65.43L451.50,65.71L450.50,66.11L449.50,66.64L448.50,67.33L447.75,67.97L446.40,69.50L445.75,70.48L445.25,71.42L444.80,72.50L444.49,73.50L444.27,74.50L444.12,75.75L444.11,77.00L444.19,78.00L444.64,80.00L445.01,81.00L445.51,82.00L446.14,83.00L446.73,83.75L447.44,84.50L448.25,85.20L449.04,85.75L450.00,86.29L451.00,86.71L452.00,87.03L454.00,87.34L455.00,87.36L456.21,87.25" fill="none" stroke="#4c4c4c" stroke-width="0.45" stroke-linejoin="round"/>
<path d="M456.81,86.50L458.75,85.89L460.50,84.95L462.00,83.72L463.25,82.21L464.17,80.50L464.52,79.50L464.76,78.50L464.94,76.50L464.73,74.50L464.48,73.50L464.13,72.50L463.21,70.75L462.00,69.20L460.50,67.90L458.75,66.89L457.00,66.29L456.00,66.11L455.00,66.03L454.00,66.05L453.00,66.18L451.25,66.68L449.50,67.58L448.00,68.79L447.25,69.60L446.58,70.50L445.63,72.25L444.99,74.25L444.82,75.25L444.74,76.50L444.92,78.50L445.15,79.50L445.50,80.50L446.40,82.25L447.00,83.07L447.75,83.90L449.25,85.12L451.00,86.03L452.75,86.54L453.75,86.68L454.75,86.72L455.75,86.67L456.81,86.50" fill="none" stroke="#4b4b4b" stroke-width="0.45" stroke-linejoin="round"/>
<path d="M455.75,86.00L457.50,85.64L459.25,84.91L460.75,83.91L461.48,83.25L462.15,82.50L463.13,81.00L463.83,79.25L464.16,77.50L464.20,76.50L464.14,75.50L463.77,73.75L463.41,72.75L463.00,71.91L462.00,70.41L461.25,69.58L460.60,69.00L459.00,67.94L457.25,67.24L455.50,66.91L453.75,66.93L452.00,67.30L451.00,67.69L450.25,68.08L448.75,69.16L447.49,70.50L446.97,71.25L446.41,72.25L445.76,74.00L445.45,75.75L445.42,76.75L445.48,77.75L445.85,79.50L446.58,81.25L447.60,82.75L448.86,84.00L450.25,84.94L452.00,85.67L453.75,86.01L454.75,86.06L455.75,86.00" fill="none" stroke="#494949" stroke-width="0.45" stroke-linejoin="round"/>
<path d="M456.30,85.25L458.00,84.75L459.50,83.98L460.25,83.43L461.00,82.75L462.00,81.52L462.81,80.00L463.28,78.50L463.47,76.75L463.31,75.00L462.80,73.25L462.02,71.75L461.00,70.45L459.75,69.35L458.25,68.48L456.75,67.96L455.00,67.71L453.25,67.84L451.50,68.36L450.00,69.17L448.75,70.20L447.68,71.50L446.85,73.00L446.29,74.75L446.09,76.50L446.22,78.25L446.72,80.00L447.50,81.50L448.50,82.77L449.75,83.85L451.25,84.69L452.75,85.18L454.50,85.40L456.30,85.25" fill="none" stroke="#484848" stroke-width="0.45" stroke-linejoin="round"/>
<path d="M456.67,84.50L458.25,83.92L459.50,83.16L460.75,82.02L461.67,80.75L462.34,79.25L462.68,77.75L462.74,76.25L462.52,74.75L461.99,73.25L461.25,71.96L460.25,70.78L459.00,69.78L457.50,69.02L456.00,68.62L454.50,68.51L453.00,68.70L451.50,69.21L450.25,69.92L449.00,71.00L448.04,72.25L447.29,73.75L446.88,75.25L446.75,77.00L446.94,78.50L447.43,80.00L448.25,81.44L449.25,82.59L450.50,83.56L452.00,84.29L453.50,84.66L455.00,84.74L456.67,84.50" fill="none" stroke="#474747" stroke-width="0.45" stroke-linejoin="round"/>
<path d="M455.66,84.00L457.00,83.69L458.25,83.14L459.50,82.26L460.50,81.20L461.25,80.00L461.79,78.50L461.99,77.25L461.94,75.75L461.57,74.25L460.99,73.00L460.08,71.75L459.00,70.76L457.75,70.02L456.50,69.56L455.25,69.35L453.75,69.40L452.25,69.77L451.00,70.37L449.84,71.25L448.94,72.25L448.18,73.50L447.72,74.75L447.46,76.25L447.51,77.75L447.87,79.25L448.45,80.50L449.25,81.61L450.25,82.55L451.50,83.33L452.75,83.81L454.25,84.06L455.66,84.00" fill="none" stroke="#454545" stroke-width="0.45" stroke-linejoin="round"/>
<path d="M456.07,83.25L457.25,82.88L458.40,82.25L459.31,81.50L460.15,80.50L460.81,79.25L461.17,78.00L461.28,76.75L461.16,75.50L460.78,74.25L460.11,73.00L459.27,72.00L458.35,71.25L457.25,70.64L456.00,70.25L454.75,70.12L453.50,70.23L452.25,70.60L451.25,71.11L450.12,72.00L449.29,73.00L448.62,74.25L448.25,75.50L448.12,76.75L448.23,78.00L448.58,79.25L449.24,80.50L450.06,81.50L451.00,82.28L452.25,82.94L453.50,83.30L454.75,83.40L456.07,83.25" fill="none" stroke="#444444" stroke-width="0.45" stroke-linejoin="round"/>
<path d="M456.29,82.50L457.25,82.13L458.26,81.50L459.07,80.75L459.79,79.75L460.24,78.75L460.52,77.50L460.55,76.50L460.34,75.25L459.97,74.25L459.36,73.25L458.69,72.50L457.71,71.75L456.75,71.28L455.50,70.95L454.25,70.91L453.25,71.07L452.25,71.43L451.25,72.02L450.42,72.75L449.66,73.75L449.18,74.75L448.86,76.00L448.82,77.25L448.97,78.25L449.43,79.50L450.00,80.41L450.77,81.25L451.75,81.96L452.75,82.41L454.00,82.69L455.25,82.70L456.29,82.50" fill="none" stroke="#424242" stroke-width="0.45" stroke-linejoin="round"/>
<path d="M455.36,82.00L456.25,81.80L457.25,81.35L458.08,80.75L458.78,80.00L459.25,79.25L459.64,78.25L459.82,77.25L459.79,76.25L459.57,75.25L459.12,74.25L458.50,73.39L457.81,72.75L457.00,72.23L456.00,71.84L455.00,71.68L454.00,71.71L453.00,71.95L452.00,72.42L451.22,73.00L450.54,73.75L450.07,74.50L449.68,75.50L449.51,76.50L449.53,77.50L449.76,78.50L450.21,79.50L450.75,80.26L451.50,80.97L452.25,81.46L453.25,81.86L454.25,82.04L455.36,82.00" fill="none" stroke="#414141" stroke-width="0.45" stroke-linejoin="round"/>
<path d="M455.65,81.25L456.50,80.96L457.25,80.52L457.85,80.00L458.44,79.25L458.81,78.50L459.03,77.75L459.11,76.75L459.01,76.00L458.68,75.00L458.25,74.27L457.75,73.69L457.00,73.10L456.25,72.73L455.50,72.51L454.75,72.43L453.75,72.52L452.75,72.86L452.08,73.25L451.49,73.75L450.90,74.50L450.51,75.25L450.24,76.25L450.19,77.00L450.32,78.00L450.59,78.75L451.02,79.50L451.50,80.07L452.25,80.67L453.00,81.06L454.00,81.32L454.75,81.37L455.65,81.25" fill="none" stroke="#404040" stroke-width="0.45" stroke-linejoin="round"/>
<path d="M455.83,80.50L456.50,80.20L457.13,79.75L457.60,79.25L458.06,78.50L458.31,77.75L458.39,77.25L458.38,76.50L458.21,75.75L457.87,75.00L457.50,74.49L457.00,74.00L456.25,73.53L455.75,73.33L455.00,73.18L454.25,73.18L453.50,73.34L452.75,73.67L452.25,74.02L451.75,74.52L451.27,75.25L451.06,75.75L450.90,76.50L450.88,77.25L451.02,78.00L451.33,78.75L451.75,79.36L452.25,79.85L453.00,80.33L453.75,80.60L454.50,80.70L455.25,80.65L455.83,80.50" fill="none" stroke="#3e3e3e" stroke-width="0.45" stroke-linejoin="round"/>
<path d="M455.24,80.00L455.75,79.85L456.40,79.50L456.96,79.00L457.25,78.62L457.56,78.00L457.69,77.50L457.73,76.75L457.66,76.25L457.23,75.25L456.82,74.75L456.25,74.30L455.25,73.91L454.50,73.85L454.00,73.91L453.00,74.31L452.50,74.70L452.04,75.25L451.60,76.25L451.52,76.75L451.56,77.50L451.69,78.00L452.00,78.62L452.28,79.00L452.84,79.50L453.50,79.86L454.00,80.00L454.50,80.06L455.24,80.00" fill="none" stroke="#3d3d3d" stroke-width="0.45" stroke-linejoin="round"/>
<path d="M455.29,79.25L455.75,79.06L456.19,78.75L456.76,78.00L456.98,77.25L456.99,76.75L456.89,76.25L456.48,75.50L455.75,74.89L455.00,74.63L454.50,74.61L454.00,74.69L453.25,75.05L452.77,75.50L452.50,75.92L452.25,76.75L452.25,77.25L452.36,77.75L452.79,78.50L453.50,79.07L454.00,79.27L454.50,79.35L455.29,79.25" fill="none" stroke="#3b3b3b" stroke-width="0.45" stroke-linejoin="round"/>
<path d="M455.37,78.50L455.98,78.00L456.24,77.50L456.32,77.00L456.15,76.25L455.77,75.75L455.25,75.42L454.75,75.30L454.00,75.42L453.48,75.75L453.25,76.00L452.99,76.50L452.91,77.25L453.08,77.75L453.47,78.25L454.00,78.57L454.75,78.68L455.37,78.50" fill="none" stroke="#3a3a3a" stroke-width="0.45" stroke-linejoin="round"/>
<path d="M471.4,101.3 L485.1,16.6 L489.1,13.3 L513.4,13.3" fill="none" stroke="#231f20" stroke-width="0.8" stroke-linejoin="miter"/>
<line x1="471.4" y1="101.3" x2="513.4" y2="101.3" stroke="#231f20" stroke-width="0.8"/>
<rect x="474" y="18.3" width="37" height="31.3" fill="#fff" fill-opacity="0.85"/>
<text x="474.6" y="32.0" font-size="9.45" text-anchor="start" font-weight="normal" fill="#231f20" stroke="#231f20" stroke-width="0.22">TUNEL+</text>
<text x="484.2" y="43.6" font-size="9.45" text-anchor="start" font-weight="normal" fill="#231f20" stroke="#231f20" stroke-width="0.22">27.8</text>
<path d="M366.16,193.00L370.25,192.95L370.50,192.73L372.50,192.69L372.75,192.47L373.75,192.43L374.00,192.22L375.00,192.17L375.25,191.96L376.00,191.91L376.25,191.70L376.75,191.65L377.00,191.44L377.25,191.40L377.50,191.19L378.00,191.12L378.50,190.68L378.75,190.62L379.40,190.00L379.75,189.84L380.09,189.50L380.16,189.25L380.84,188.50L380.91,188.25L381.11,188.00L381.16,187.75L381.60,187.00L381.67,186.50L381.86,186.25L381.92,185.75L382.10,185.50L382.17,185.00L382.34,184.75L382.42,183.50L382.58,183.25L382.63,183.00L382.62,181.75L382.58,181.50L382.42,181.25L382.32,180.00L382.16,179.75L382.08,179.25L381.91,179.00L381.82,178.50L381.58,178.00L381.16,177.50L381.09,177.25L380.17,176.25L380.10,176.00L379.00,174.89L378.66,174.75L377.50,173.62L377.25,173.57L376.50,172.87L376.25,172.82L375.75,172.36L375.50,172.32L375.00,171.87L374.75,171.82L374.50,171.61L374.25,171.57L374.00,171.35L373.75,171.31L373.50,171.10L373.25,171.06L373.00,170.85L372.75,170.81L372.50,170.60L372.25,170.56L372.00,170.36L371.75,170.32L371.50,170.12L371.00,170.06L370.75,169.86L370.25,169.81L370.00,169.61L369.50,169.56L369.25,169.36L368.75,169.31L368.50,169.12L367.75,169.06L367.50,168.87L366.75,168.81L366.50,168.62L365.50,168.56L365.25,168.38L364.25,168.32L364.00,168.14L363.75,168.10L362.25,168.07L362.00,167.90L361.75,167.86L359.50,167.83L359.00,167.63L356.50,167.60L356.00,167.42L353.50,167.39L353.00,167.23L351.00,167.18L350.25,167.03L348.50,167.01L347.50,166.88L345.50,166.86L340.50,166.49L337.50,166.41L336.00,166.55L334.75,166.92L333.75,167.53L333.00,168.34L332.50,169.18L332.17,170.00L331.85,171.25L331.67,172.50L331.55,174.00L331.54,176.25L331.74,179.50L332.24,182.50L332.87,184.50L333.25,185.28L333.75,186.07L334.33,186.75L334.91,187.25L336.50,188.17L339.18,189.25L341.50,189.94L344.50,190.61L346.00,190.79L346.75,190.99L347.75,191.09L348.25,191.26L349.75,191.38L350.25,191.57L351.75,191.66L352.25,191.86L353.75,191.93L354.00,192.10L354.25,192.15L355.75,192.20L356.00,192.39L356.25,192.42L357.75,192.46L358.00,192.66L360.50,192.72L360.75,192.94L361.00,192.95L365.75,192.98L366.00,193.16L366.16,193.00" fill="none" stroke="#707070" stroke-width="0.45" stroke-linejoin="round"/>
<path d="M369.98,192.75L370.50,192.59L372.25,192.46L374.75,191.88L376.61,191.25L378.25,190.36L379.54,189.25L380.47,188.00L381.08,186.75L381.78,184.50L382.01,182.75L381.94,181.50L381.59,179.75L381.23,178.75L380.85,178.00L379.60,176.25L378.91,175.50L376.50,173.45L374.75,172.26L372.50,171.09L370.75,170.34L368.25,169.54L365.00,168.84L363.50,168.61L361.50,168.43L358.75,168.30L355.50,168.27L352.50,168.35L349.75,168.57L347.50,168.90L345.50,169.36L343.75,169.94L342.25,170.65L340.96,171.50L339.89,172.50L338.96,173.75L338.55,174.50L338.15,175.50L337.87,176.50L337.70,177.50L337.66,179.50L338.01,181.50L338.69,183.25L339.27,184.25L339.82,185.00L341.29,186.50L343.02,187.75L345.43,189.00L348.50,190.14L352.50,191.21L356.50,192.03L358.50,192.37L360.50,192.54L361.00,192.68L361.75,192.75L366.00,192.87L369.98,192.75" fill="none" stroke="#6b6b6b" stroke-width="0.45" stroke-linejoin="round"/>
<path d="M369.11,192.00L371.25,191.66L372.50,191.36L374.00,190.84L375.25,190.25L376.40,189.50L377.25,188.75L378.08,187.75L378.80,186.50L379.25,185.25L379.54,183.75L379.58,182.25L379.34,180.75L378.94,179.50L378.31,178.25L377.44,177.00L376.29,175.75L375.13,174.75L373.75,173.78L372.25,172.95L370.75,172.28L369.25,171.76L367.50,171.32L365.75,171.02L363.75,170.86L361.75,170.88L360.00,171.05L358.25,171.36L356.50,171.84L355.00,172.41L353.50,173.20L352.34,174.00L351.25,175.00L350.11,176.50L349.39,178.00L349.02,179.50L348.96,181.25L349.29,183.00L349.90,184.50L350.87,186.00L352.01,187.25L353.55,188.50L355.17,189.50L357.25,190.46L359.25,191.15L361.50,191.69L363.50,191.96L366.25,192.10L369.11,192.00" fill="none" stroke="#676767" stroke-width="0.45" stroke-linejoin="round"/>
<path d="M367.85,191.00L369.00,190.88L370.25,190.64L371.50,190.27L372.50,189.85L373.50,189.29L374.26,188.75L375.06,188.00L375.66,187.25L376.12,186.50L376.55,185.50L376.82,184.50L376.93,183.50L376.91,182.50L376.75,181.50L376.45,180.50L376.00,179.50L375.38,178.50L374.75,177.72L374.00,176.96L373.00,176.15L372.00,175.50L371.00,174.97L370.00,174.56L368.75,174.16L367.50,173.89L366.25,173.73L365.00,173.69L363.75,173.76L362.50,173.94L361.50,174.19L360.25,174.62L359.25,175.10L357.88,176.00L356.75,177.05L355.86,178.25L355.17,179.75L354.85,181.25L354.85,182.75L355.18,184.25L355.71,185.50L356.53,186.75L357.71,188.00L359.05,189.00L360.50,189.78L362.25,190.43L364.00,190.82L366.00,191.02L367.85,191.00" fill="none" stroke="#626262" stroke-width="0.45" stroke-linejoin="round"/>
<path d="M368.39,189.75L370.25,189.30L371.75,188.59L373.00,187.60L373.87,186.50L374.44,185.25L374.62,184.50L374.70,183.75L374.57,182.25L374.36,181.50L374.04,180.75L373.23,179.50L372.00,178.28L370.50,177.32L369.00,176.71L367.25,176.35L365.50,176.31L363.75,176.59L362.25,177.14L361.00,177.89L360.03,178.75L359.26,179.75L358.75,180.75L358.40,182.00L358.33,183.25L358.53,184.50L358.89,185.50L359.47,186.50L360.33,187.50L361.25,188.25L362.58,189.00L363.75,189.43L365.25,189.75L366.75,189.86L368.39,189.75" fill="none" stroke="#5e5e5e" stroke-width="0.45" stroke-linejoin="round"/>
<path d="M368.11,188.50L369.50,188.15L370.50,187.69L371.42,187.00L372.08,186.25L372.59,185.25L372.82,184.25L372.80,183.25L372.42,182.00L371.80,181.00L371.00,180.18L370.00,179.50L368.75,178.97L367.50,178.71L366.25,178.66L365.00,178.84L363.75,179.28L362.75,179.89L362.07,180.50L361.49,181.25L361.10,182.00L360.88,182.75L360.79,183.75L360.93,184.75L361.21,185.50L361.65,186.25L362.33,187.00L363.00,187.52L363.90,188.00L365.00,188.37L366.00,188.54L367.00,188.59L368.11,188.50" fill="none" stroke="#595959" stroke-width="0.45" stroke-linejoin="round"/>
<path d="M368.50,187.25L369.50,186.90L370.25,186.43L370.92,185.75L371.33,185.00L371.49,184.25L371.44,183.50L371.16,182.75L370.63,182.00L370.00,181.45L369.00,180.92L368.00,180.63L367.00,180.52L366.00,180.58L365.00,180.82L364.25,181.15L363.50,181.68L362.75,182.62L362.49,183.25L362.39,183.75L362.42,184.50L362.57,185.00L362.81,185.50L363.19,186.00L363.75,186.50L364.25,186.81L365.50,187.27L367.00,187.42L368.50,187.25" fill="none" stroke="#555555" stroke-width="0.45" stroke-linejoin="round"/>
<path d="M368.27,186.25L368.50,186.02L369.00,186.01L369.25,185.77L369.52,185.75L370.25,185.02L370.27,184.75L370.51,184.50L370.50,183.73L370.02,183.25L370.00,182.99L369.75,182.97L369.25,182.49L368.75,182.47L368.50,182.23L367.25,182.22L367.00,181.99L366.75,182.22L365.50,182.23L365.25,182.47L364.75,182.48L364.25,182.97L364.00,182.98L363.97,183.25L363.49,183.75L363.49,184.50L363.73,184.75L363.74,185.00L364.50,185.76L364.75,185.77L365.00,186.01L365.50,186.02L365.75,186.26L368.27,186.25" fill="none" stroke="#505050" stroke-width="0.45" stroke-linejoin="round"/>
<path d="M314.30,194.00C314.33,190.83 314.42,180.67 314.50,175.00C314.58,169.33 314.58,164.83 314.80,160.00C315.02,155.17 315.27,149.42 315.80,146.00C316.33,142.58 317.22,140.82 318.00,139.50C318.78,138.18 319.58,138.18 320.50,138.10C321.42,138.02 322.62,138.43 323.50,139.00C324.38,139.57 325.17,140.00 325.80,141.50C326.43,143.00 326.85,145.25 327.30,148.00C327.75,150.75 327.97,154.33 328.50,158.00C329.03,161.67 329.92,165.50 330.50,170.00C331.08,174.50 331.67,181.00 332.00,185.00C332.33,189.00 332.42,192.50 332.50,194.00" fill="none" stroke="#808080" stroke-width="0.5"/>
<path d="M314.78,194.00C314.81,190.83 314.89,180.67 314.97,175.00C315.05,169.33 315.06,164.77 315.26,160.00C315.46,155.23 315.70,149.69 316.19,146.41C316.68,143.13 317.48,141.56 318.19,140.33C318.91,139.09 319.66,139.07 320.50,138.99C321.34,138.91 322.44,139.31 323.24,139.86C324.05,140.40 324.77,140.82 325.34,142.27C325.91,143.71 326.29,145.85 326.69,148.51C327.09,151.17 327.26,154.59 327.73,158.20C328.20,161.82 328.99,165.74 329.51,170.20C330.03,174.67 330.54,181.03 330.83,185.00C331.13,188.97 331.20,192.50 331.27,194.00" fill="none" stroke="#777777" stroke-width="0.5"/>
<path d="M315.26,194.00C315.29,190.83 315.36,180.67 315.44,175.00C315.52,169.33 315.53,164.70 315.72,160.00C315.91,155.30 316.13,149.96 316.58,146.82C317.02,143.68 317.73,142.31 318.39,141.16C319.04,140.00 319.73,139.95 320.50,139.88C321.27,139.81 322.26,140.19 322.99,140.72C323.72,141.24 324.37,141.65 324.88,143.03C325.39,144.42 325.73,146.46 326.07,149.02C326.42,151.58 326.56,154.84 326.97,158.41C327.37,161.97 328.07,165.98 328.52,170.41C328.97,174.84 329.41,181.07 329.67,185.00C329.92,188.93 329.98,192.50 330.05,194.00" fill="none" stroke="#6f6f6f" stroke-width="0.5"/>
<path d="M315.74,194.00C315.77,190.83 315.84,180.67 315.91,175.00C315.98,169.33 316.00,164.63 316.18,160.00C316.36,155.37 316.56,150.23 316.97,147.23C317.37,144.22 317.99,143.06 318.58,141.98C319.17,140.91 319.81,140.84 320.50,140.77C321.19,140.70 322.08,141.07 322.73,141.58C323.39,142.08 323.97,142.47 324.42,143.80C324.87,145.13 325.16,147.06 325.46,149.53C325.76,152.00 325.86,155.10 326.20,158.61C326.54,162.13 327.14,166.22 327.53,170.61C327.91,175.01 328.29,181.10 328.50,185.00C328.72,188.90 328.77,192.50 328.82,194.00" fill="none" stroke="#666666" stroke-width="0.5"/>
<path d="M316.22,194.00C316.25,190.83 316.31,180.67 316.38,175.00C316.45,169.33 316.48,164.56 316.64,160.00C316.80,155.44 317.00,150.50 317.35,147.64C317.71,144.77 318.25,143.81 318.78,142.81C319.30,141.82 319.88,141.72 320.50,141.66C321.12,141.59 321.90,141.95 322.48,142.43C323.05,142.92 323.57,143.30 323.96,144.57C324.35,145.83 324.60,147.67 324.85,150.04C325.09,152.42 325.15,155.36 325.43,158.82C325.71,162.28 326.22,166.45 326.53,170.82C326.85,175.18 327.16,181.14 327.34,185.00C327.52,188.86 327.55,192.50 327.59,194.00" fill="none" stroke="#5e5e5e" stroke-width="0.5"/>
<path d="M316.70,194.00C316.73,190.83 316.78,180.67 316.85,175.00C316.92,169.33 316.95,164.49 317.10,160.00C317.25,155.51 317.43,150.77 317.74,148.04C318.05,145.32 318.51,144.56 318.97,143.64C319.43,142.72 319.96,142.60 320.50,142.55C321.04,142.49 321.72,142.83 322.22,143.29C322.72,143.76 323.16,144.12 323.50,145.33C323.84,146.54 324.04,148.27 324.23,150.56C324.43,152.84 324.45,155.61 324.67,159.02C324.88,162.43 325.29,166.69 325.54,171.02C325.79,175.35 326.04,181.17 326.17,185.00C326.31,188.83 326.33,192.50 326.37,194.00" fill="none" stroke="#555555" stroke-width="0.5"/>
<path d="M317.18,194.00C317.21,190.83 317.26,180.67 317.32,175.00C317.38,169.33 317.43,164.42 317.56,160.00C317.69,155.58 317.86,151.04 318.13,148.45C318.40,145.86 318.77,145.30 319.17,144.47C319.56,143.63 320.03,143.49 320.50,143.44C320.97,143.38 321.54,143.71 321.97,144.15C322.39,144.60 322.76,144.95 323.04,146.10C323.32,147.25 323.48,148.88 323.62,151.07C323.76,153.25 323.74,155.87 323.90,159.23C324.06,162.59 324.37,166.93 324.55,171.23C324.74,175.52 324.91,181.20 325.01,185.00C325.11,188.80 325.12,192.50 325.14,194.00" fill="none" stroke="#4d4d4d" stroke-width="0.5"/>
<path d="M317.66,194.00C317.68,190.83 317.73,180.67 317.79,175.00C317.85,169.33 317.90,164.36 318.02,160.00C318.14,155.64 318.30,151.31 318.52,148.86C318.74,146.41 319.03,146.05 319.36,145.30C319.69,144.54 320.11,144.37 320.50,144.33C320.89,144.28 321.36,144.59 321.71,145.01C322.06,145.43 322.36,145.77 322.58,146.87C322.80,147.96 322.91,149.48 323.01,151.58C323.10,153.67 323.04,156.12 323.13,159.43C323.23,162.74 323.44,167.17 323.56,171.43C323.68,175.69 323.78,181.24 323.84,185.00C323.90,188.76 323.90,192.50 323.91,194.00" fill="none" stroke="#444444" stroke-width="0.5"/>
<path d="M318.14,194.00C318.16,190.83 318.21,180.67 318.26,175.00C318.32,169.33 318.37,164.29 318.48,160.00C318.59,155.71 318.73,151.58 318.91,149.27C319.09,146.96 319.29,146.80 319.55,146.12C319.82,145.45 320.18,145.26 320.50,145.21C320.82,145.17 321.19,145.47 321.46,145.87C321.73,146.27 321.96,146.60 322.12,147.63C322.28,148.67 322.35,150.09 322.39,152.09C322.43,154.09 322.34,156.38 322.37,159.64C322.40,162.89 322.52,167.41 322.57,171.64C322.62,175.86 322.66,181.27 322.68,185.00C322.70,188.73 322.69,192.50 322.69,194.00" fill="none" stroke="#3c3c3c" stroke-width="0.5"/>
<path d="M318.62,194.00C318.64,190.83 318.68,180.67 318.73,175.00C318.78,169.33 318.85,164.22 318.94,160.00C319.03,155.78 319.16,151.85 319.30,149.68C319.43,147.51 319.55,147.55 319.75,146.95C319.95,146.36 320.26,146.14 320.50,146.10C320.74,146.07 321.01,146.35 321.20,146.73C321.39,147.11 321.56,147.42 321.66,148.40C321.76,149.38 321.79,150.69 321.78,152.60C321.77,154.51 321.63,156.63 321.60,159.84C321.57,163.05 321.59,167.65 321.58,171.84C321.56,176.03 321.53,181.31 321.51,185.00C321.49,188.69 321.47,192.50 321.46,194.00" fill="none" stroke="#333333" stroke-width="0.5"/>
<line x1="337.5" y1="113.3" x2="337.5" y2="212.4" stroke="#231f20" stroke-width="1"/>
<line x1="307.5" y1="156.3" x2="337.5" y2="156.3" stroke="#231f20" stroke-width="1"/>
<line x1="337.5" y1="172.0" x2="406.5" y2="172.0" stroke="#231f20" stroke-width="1"/>
<text x="310.3" y="127.0" font-size="9.45" text-anchor="start" font-weight="normal" fill="#231f20" stroke="#231f20" stroke-width="0.22">7.26</text>
<text x="377.3" y="127.0" font-size="9.45" text-anchor="start" font-weight="normal" fill="#231f20" stroke="#231f20" stroke-width="0.22">5.63</text>
<text x="309.3" y="203.8" font-size="9.45" text-anchor="start" font-weight="normal" fill="#231f20" stroke="#231f20" stroke-width="0.22">71.6</text>
<text x="377.8" y="203.8" font-size="9.45" text-anchor="start" font-weight="normal" fill="#231f20" stroke="#231f20" stroke-width="0.22">15.6</text>
<path d="M487.72,196.25L489.75,196.22L490.00,195.99L491.00,195.97L491.25,195.74L492.00,195.72L492.25,195.49L493.00,195.47L493.25,195.23L493.75,195.22L494.00,194.98L494.50,194.96L494.75,194.73L495.00,194.71L495.25,194.48L495.50,194.46L495.75,194.23L496.00,194.21L496.25,193.97L496.50,193.95L496.75,193.72L497.00,193.69L498.19,192.50L498.22,192.25L498.69,191.75L498.71,191.50L498.94,191.25L498.96,191.00L499.19,190.75L499.21,190.50L499.43,190.25L499.46,189.75L499.68,189.50L499.71,189.00L499.92,188.75L499.96,187.75L500.16,187.50L500.18,187.25L500.17,185.75L500.14,185.50L499.94,185.25L499.89,184.75L499.68,184.50L499.64,184.25L499.43,184.00L499.38,183.75L497.50,181.86L497.25,181.81L497.00,181.59L496.75,181.55L496.50,181.34L496.25,181.30L496.00,181.09L495.50,181.05L495.25,180.84L494.25,180.79L494.00,180.58L493.75,180.56L492.75,180.57L492.50,180.78L490.75,180.80L490.50,181.02L489.50,181.05L489.25,181.27L488.50,181.29L488.25,181.52L487.75,181.54L487.50,181.77L487.00,181.79L486.75,182.02L486.25,182.04L486.00,182.28L485.75,182.29L485.50,182.53L485.25,182.54L484.75,183.02L484.50,183.04L484.00,183.52L483.75,183.54L481.29,186.00L481.25,186.28L480.55,187.00L480.53,187.25L480.06,187.75L480.03,188.00L479.81,188.25L479.79,188.50L479.57,188.75L479.54,189.25L479.32,189.50L479.29,190.00L479.09,190.25L479.10,191.00L479.30,191.25L479.33,191.75L479.55,192.00L479.57,192.25L479.80,192.50L479.83,192.75L481.75,194.69L482.00,194.72L482.50,195.20L482.75,195.22L483.00,195.46L483.25,195.47L483.50,195.71L483.75,195.72L484.00,195.96L484.50,195.98L484.75,196.21L485.75,196.23L486.00,196.46L487.50,196.47L487.72,196.25" fill="none" stroke="#555555" stroke-width="0.50" stroke-linejoin="round"/>
<path d="M489.82,194.25L491.00,194.00L492.00,193.66L493.00,193.17L493.96,192.50L494.50,191.98L495.06,191.25L495.45,190.50L495.73,189.50L495.79,188.50L495.69,187.75L495.33,186.75L494.86,186.00L494.25,185.35L493.40,184.75L492.50,184.34L491.50,184.09L490.25,183.99L488.75,184.13L487.25,184.55L486.00,185.16L484.86,186.00L483.95,187.00L483.35,188.00L482.98,189.25L482.98,190.50L483.28,191.50L483.90,192.50L484.75,193.28L485.75,193.85L487.00,194.23L488.25,194.36L489.82,194.25" fill="none" stroke="#555555" stroke-width="0.50" stroke-linejoin="round"/>
<path d="M489.52,191.75L489.75,191.52L490.50,191.51L490.75,191.27L491.02,191.25L491.25,191.02L491.50,191.01L492.51,190.00L492.51,189.75L492.76,189.50L492.76,189.25L492.52,189.00L492.51,188.50L492.00,187.99L491.75,187.98L491.50,187.74L491.00,187.73L490.75,187.49L488.50,187.49L488.25,187.73L487.75,187.74L487.50,187.98L487.23,188.00L487.00,188.23L486.75,188.24L485.99,189.00L485.99,189.25L485.74,189.50L485.74,190.25L485.99,190.50L486.00,190.76L486.49,191.25L486.75,191.27L487.00,191.51L487.75,191.52L488.00,191.76L489.52,191.75" fill="none" stroke="#555555" stroke-width="0.50" stroke-linejoin="round"/>
<path d="M454.48,200.00L454.75,199.88L455.75,199.83L456.25,199.64L456.75,199.59L457.25,199.39L458.00,199.28L458.25,199.13L458.75,199.03L460.00,198.40L460.50,198.30L461.50,197.80L462.00,197.40L462.75,197.06L463.25,196.65L464.00,196.31L464.50,195.89L464.75,195.81L465.50,195.14L465.75,195.06L466.61,194.25L467.25,193.82L468.79,192.25L469.00,191.84L469.77,191.00L470.53,189.75L471.26,188.25L472.01,186.00L472.14,185.00L472.33,184.50L472.39,183.50L472.58,183.00L472.63,181.00L472.83,180.25L472.82,178.50L472.62,177.75L472.53,176.00L472.35,175.50L472.28,174.75L471.69,172.75L470.95,171.00L469.93,169.00L468.87,167.25L467.33,165.25L465.50,163.44L464.50,162.72L463.00,161.92L460.75,161.10L458.50,160.59L457.25,160.48L456.75,160.34L454.75,160.23L454.00,160.09L452.25,160.09L450.00,160.40L449.00,160.64L446.75,161.48L445.75,162.00L444.50,162.76L443.25,163.72L441.51,165.50L440.70,166.75L440.16,167.75L439.34,169.75L438.31,172.75L438.16,173.50L437.80,174.50L437.66,175.25L437.48,175.75L437.40,176.50L437.22,177.00L437.15,177.75L436.97,178.25L436.90,179.25L436.70,180.00L436.70,185.00L436.90,185.75L436.98,186.75L437.30,188.00L437.80,189.50L438.41,190.75L438.57,191.25L439.81,193.25L440.57,194.25L441.50,195.19L441.98,195.50L442.75,196.21L443.50,196.72L444.25,197.10L444.75,197.48L446.25,198.24L446.75,198.37L447.50,198.74L450.00,199.57L450.75,199.63L451.25,199.82L452.25,199.88L453.00,200.08L454.00,200.08L454.48,200.00" fill="none" stroke="#5a5a5a" stroke-width="0.45" stroke-linejoin="round"/>
<path d="M454.29,199.25L455.75,199.08L457.75,198.63L459.00,198.21L461.00,197.35L463.50,195.90L464.75,195.04L466.75,193.42L467.91,192.25L469.08,190.75L469.72,189.75L470.47,188.25L471.03,186.75L471.43,185.25L471.81,183.00L472.02,179.50L471.93,178.25L471.54,175.75L471.07,174.00L470.39,172.25L469.50,170.47L468.45,168.75L467.25,167.17L466.00,165.82L464.75,164.73L463.50,163.89L462.25,163.25L460.75,162.66L459.00,162.19L457.25,161.88L455.50,161.70L453.50,161.63L451.75,161.77L450.00,162.10L448.50,162.57L447.00,163.22L445.50,164.09L444.27,165.00L443.20,166.00L442.15,167.25L441.25,168.65L440.32,170.50L439.42,172.75L438.69,175.00L438.13,177.25L437.70,179.75L437.58,181.25L437.57,183.25L437.65,184.75L437.92,186.50L438.31,188.00L438.85,189.50L439.56,191.00L440.31,192.25L441.25,193.52L442.17,194.50L443.34,195.50L444.80,196.50L446.25,197.32L447.79,198.00L449.75,198.67L451.25,199.01L453.00,199.26L454.29,199.25" fill="none" stroke="#595959" stroke-width="0.45" stroke-linejoin="round"/>
<path d="M455.42,198.25L457.00,197.98L458.50,197.56L460.25,196.88L461.75,196.12L463.25,195.22L464.75,194.15L466.10,193.00L467.30,191.75L468.27,190.50L469.05,189.25L469.66,188.00L470.21,186.50L470.60,185.00L470.89,183.25L471.03,181.50L471.04,179.75L470.87,178.00L470.53,176.25L470.10,174.75L469.50,173.22L468.75,171.73L467.75,170.13L466.68,168.75L465.50,167.50L464.25,166.43L463.00,165.58L461.75,164.92L460.25,164.32L458.75,163.89L457.00,163.58L455.25,163.43L453.75,163.43L452.25,163.57L450.75,163.85L449.25,164.31L447.75,164.96L446.50,165.67L445.25,166.58L444.00,167.74L443.00,168.92L442.00,170.42L441.16,172.00L440.30,174.00L439.63,176.00L439.13,178.00L438.84,179.75L438.68,181.50L438.69,183.50L438.82,185.00L439.09,186.50L439.51,188.00L440.09,189.50L440.72,190.75L441.52,192.00L442.50,193.23L443.53,194.25L444.78,195.25L446.25,196.19L447.75,196.95L449.25,197.53L450.75,197.96L452.50,198.27L454.00,198.35L455.42,198.25" fill="none" stroke="#575757" stroke-width="0.45" stroke-linejoin="round"/>
<path d="M456.28,197.25L457.75,196.93L459.25,196.45L460.50,195.92L462.00,195.13L463.37,194.25L464.67,193.25L465.76,192.25L466.87,191.00L467.60,190.00L468.35,188.75L468.93,187.50L469.44,186.00L469.79,184.50L470.00,183.00L470.09,181.25L470.04,179.75L469.85,178.25L469.52,176.75L469.05,175.25L468.40,173.75L467.57,172.25L466.71,171.00L465.66,169.75L464.50,168.63L463.50,167.84L462.25,167.04L461.00,166.41L459.50,165.85L458.00,165.46L456.50,165.23L455.00,165.15L453.50,165.21L452.00,165.42L450.50,165.79L449.00,166.36L447.75,167.00L446.50,167.82L445.50,168.63L444.50,169.64L443.50,170.88L442.61,172.25L441.75,173.90L441.09,175.50L440.53,177.25L440.13,179.00L439.89,180.75L439.81,182.50L439.87,184.00L440.06,185.50L440.41,187.00L440.92,188.50L441.49,189.75L442.21,191.00L443.00,192.08L444.00,193.19L445.00,194.08L446.25,194.99L447.55,195.75L449.00,196.41L450.50,196.92L452.00,197.25L453.50,197.42L455.00,197.40L456.28,197.25" fill="none" stroke="#565656" stroke-width="0.45" stroke-linejoin="round"/>
<path d="M454.57,196.50L456.00,196.40L457.25,196.18L458.50,195.84L460.00,195.27L461.25,194.65L462.50,193.90L463.75,192.99L464.86,192.00L465.80,191.00L466.58,190.00L467.22,189.00L467.86,187.75L468.34,186.50L468.70,185.25L468.97,183.75L469.10,182.25L469.09,180.75L468.94,179.25L468.64,177.75L468.26,176.50L467.65,175.00L467.00,173.77L466.25,172.62L465.36,171.50L464.39,170.50L463.25,169.54L462.25,168.86L461.00,168.18L459.75,167.65L458.25,167.21L457.00,166.98L455.50,166.85L454.00,166.88L452.75,167.03L451.25,167.38L450.00,167.81L448.75,168.40L447.50,169.16L446.50,169.93L445.50,170.88L444.50,172.05L443.66,173.25L442.96,174.50L442.27,176.00L441.75,177.50L441.36,179.00L441.11,180.50L440.99,182.00L441.01,183.50L441.13,184.75L441.41,186.25L441.78,187.50L442.29,188.75L442.94,190.00L443.75,191.20L444.64,192.25L445.69,193.25L446.75,194.06L448.00,194.83L449.25,195.43L450.50,195.90L452.00,196.28L453.25,196.45L454.57,196.50" fill="none" stroke="#545454" stroke-width="0.45" stroke-linejoin="round"/>
<path d="M455.82,195.50L457.00,195.33L458.25,195.02L459.50,194.57L460.75,193.99L462.00,193.26L463.00,192.54L464.00,191.68L464.89,190.75L465.69,189.75L466.33,188.75L466.86,187.75L467.37,186.50L467.73,185.25L467.97,184.00L468.09,182.75L468.09,181.25L467.93,179.75L467.68,178.50L467.30,177.25L466.78,176.00L466.11,174.75L465.44,173.75L464.64,172.75L463.75,171.85L462.75,171.01L461.75,170.33L460.75,169.78L459.50,169.25L458.25,168.87L457.00,168.62L455.75,168.51L454.50,168.51L453.25,168.64L452.00,168.90L450.75,169.31L449.50,169.87L448.25,170.61L447.25,171.37L446.31,172.25L445.50,173.16L444.71,174.25L444.00,175.44L443.38,176.75L442.92,178.00L442.58,179.25L442.31,180.75L442.19,182.25L442.20,183.50L442.33,184.75L442.57,186.00L442.94,187.25L443.46,188.50L444.15,189.75L444.84,190.75L445.71,191.75L446.50,192.50L447.50,193.28L448.66,194.00L449.75,194.54L451.00,195.00L452.25,195.32L453.50,195.51L454.75,195.56L455.82,195.50" fill="none" stroke="#535353" stroke-width="0.45" stroke-linejoin="round"/>
<path d="M455.61,195.00L456.75,194.86L458.00,194.58L459.25,194.16L460.25,193.72L461.50,193.02L462.50,192.33L463.49,191.50L464.25,190.74L465.08,189.75L465.75,188.75L466.29,187.75L466.82,186.50L467.12,185.50L467.38,184.25L467.52,183.00L467.54,181.75L467.44,180.50L467.22,179.25L466.88,178.00L466.50,177.00L465.89,175.75L465.27,174.75L464.52,173.75L463.75,172.91L462.75,172.02L461.75,171.30L460.75,170.72L459.75,170.26L458.75,169.91L457.50,169.60L456.25,169.43L455.00,169.39L453.75,169.48L452.50,169.71L451.25,170.08L450.25,170.49L449.25,171.02L448.16,171.75L447.25,172.50L446.28,173.50L445.49,174.50L444.75,175.65L444.18,176.75L443.68,178.00L443.30,179.25L443.04,180.50L442.89,181.75L442.85,183.00L442.93,184.25L443.13,185.50L443.47,186.75L443.84,187.75L444.31,188.75L445.00,189.88L445.75,190.86L446.59,191.75L447.50,192.53L448.50,193.23L449.50,193.79L450.75,194.32L452.00,194.70L453.25,194.94L454.50,195.03L455.61,195.00" fill="none" stroke="#525252" stroke-width="0.45" stroke-linejoin="round"/>
<path d="M455.48,194.50L456.50,194.40L457.75,194.15L458.75,193.84L460.00,193.32L461.00,192.79L462.00,192.13L463.00,191.32L463.75,190.59L464.47,189.75L465.18,188.75L465.74,187.75L466.18,186.75L466.52,185.75L466.81,184.50L466.94,183.50L466.99,182.25L466.92,181.00L466.72,179.75L466.39,178.50L466.02,177.50L465.55,176.50L464.95,175.50L464.25,174.54L463.50,173.70L462.75,173.00L461.75,172.23L460.75,171.62L459.75,171.14L458.75,170.77L457.50,170.45L456.50,170.30L455.25,170.24L454.00,170.31L453.00,170.48L451.75,170.81L450.75,171.20L449.75,171.70L448.75,172.34L447.75,173.14L447.00,173.87L446.25,174.75L445.55,175.75L444.98,176.75L444.42,178.00L444.01,179.25L443.72,180.50L443.55,181.75L443.51,183.00L443.59,184.25L443.74,185.25L444.06,186.50L444.42,187.50L444.89,188.50L445.49,189.50L446.24,190.50L447.00,191.31L447.78,192.00L448.82,192.75L450.00,193.40L451.00,193.83L452.00,194.14L453.25,194.40L454.25,194.50L455.48,194.50" fill="none" stroke="#505050" stroke-width="0.45" stroke-linejoin="round"/>
<path d="M457.24,193.75L459.25,193.13L460.25,192.65L461.25,192.06L462.25,191.33L463.00,190.66L463.75,189.85L464.41,189.00L465.03,188.00L465.52,187.00L466.16,185.00L466.41,183.00L466.40,181.75L466.29,180.75L465.81,178.75L465.42,177.75L464.92,176.75L463.70,175.00L463.00,174.24L462.00,173.36L461.00,172.68L460.00,172.13L459.00,171.72L458.00,171.42L456.00,171.11L454.75,171.11L453.75,171.21L451.75,171.71L450.75,172.13L449.75,172.67L448.75,173.36L448.00,174.00L447.25,174.77L446.47,175.75L445.83,176.75L445.31,177.75L444.90,178.75L444.53,180.00L444.29,181.25L444.19,182.50L444.21,183.75L444.32,184.75L444.82,186.75L445.23,187.75L445.76,188.75L446.44,189.75L447.07,190.50L447.83,191.25L448.77,192.00L449.75,192.62L450.75,193.12L451.75,193.49L452.75,193.75L453.75,193.92L455.00,193.99L456.25,193.91L457.24,193.75" fill="none" stroke="#4f4f4f" stroke-width="0.45" stroke-linejoin="round"/>
<path d="M457.01,193.25L459.00,192.67L460.00,192.21L461.00,191.62L461.84,191.00L462.68,190.25L463.94,188.75L464.92,187.00L465.30,186.00L465.58,185.00L465.82,183.00L465.70,181.00L465.20,179.00L464.40,177.25L463.25,175.61L462.50,174.82L461.75,174.16L461.00,173.63L460.00,173.05L459.00,172.61L458.00,172.29L457.00,172.08L456.00,171.98L454.00,172.06L453.00,172.25L452.00,172.55L450.25,173.37L449.30,174.00L448.50,174.67L447.75,175.43L447.08,176.25L446.43,177.25L445.91,178.25L445.22,180.25L445.02,181.25L444.89,182.50L444.98,184.50L445.46,186.50L445.85,187.50L446.38,188.50L447.00,189.41L447.71,190.25L449.14,191.50L450.00,192.06L451.00,192.57L452.00,192.95L453.00,193.22L454.00,193.38L455.00,193.43L456.00,193.39L457.01,193.25" fill="none" stroke="#4d4d4d" stroke-width="0.45" stroke-linejoin="round"/>
<path d="M456.91,192.75L458.75,192.23L460.50,191.36L462.00,190.22L463.32,188.75L463.82,188.00L464.35,187.00L464.96,185.25L465.24,183.50L465.18,181.50L465.00,180.50L464.72,179.50L463.93,177.75L462.89,176.25L461.50,174.89L460.75,174.35L459.75,173.77L458.00,173.10L456.25,172.80L455.25,172.77L454.25,172.84L453.25,173.02L452.25,173.31L450.50,174.14L449.00,175.25L448.25,176.00L447.63,176.75L446.58,178.50L446.16,179.50L445.86,180.50L445.56,182.50L445.64,184.50L445.83,185.50L446.13,186.50L446.96,188.25L448.07,189.75L449.50,191.04L450.25,191.54L451.25,192.06L453.00,192.66L454.00,192.83L455.00,192.90L456.91,192.75" fill="none" stroke="#4c4c4c" stroke-width="0.45" stroke-linejoin="round"/>
<path d="M456.70,192.25L458.50,191.78L460.11,191.00L461.50,189.98L462.24,189.25L462.86,188.50L463.76,187.00L464.39,185.25L464.67,183.50L464.61,181.75L464.22,180.00L463.50,178.34L462.50,176.87L461.25,175.63L459.75,174.63L458.00,173.92L456.25,173.60L454.50,173.62L452.75,174.00L451.75,174.39L451.00,174.77L449.50,175.85L448.25,177.18L447.27,178.75L446.59,180.50L446.26,182.25L446.22,183.25L446.28,184.25L446.65,186.00L447.41,187.75L448.46,189.25L449.79,190.50L451.25,191.42L453.00,192.07L454.75,192.35L455.75,192.35L456.70,192.25" fill="none" stroke="#4b4b4b" stroke-width="0.45" stroke-linejoin="round"/>
<path d="M456.35,191.75L458.00,191.39L459.50,190.75L460.96,189.75L462.19,188.50L463.15,187.00L463.74,185.50L464.04,184.00L464.06,182.25L463.71,180.50L463.10,179.00L462.11,177.50L461.00,176.37L459.50,175.35L458.00,174.73L456.50,174.42L454.75,174.40L453.00,174.76L451.50,175.40L450.22,176.25L448.96,177.50L447.96,179.00L447.33,180.50L446.95,182.25L446.93,184.00L447.27,185.75L447.87,187.25L448.86,188.75L450.00,189.89L451.50,190.88L453.00,191.47L454.75,191.79L456.35,191.75" fill="none" stroke="#494949" stroke-width="0.45" stroke-linejoin="round"/>
<path d="M455.52,191.25L457.00,191.09L458.50,190.64L460.00,189.82L461.25,188.75L462.24,187.50L462.89,186.25L463.34,184.75L463.50,183.25L463.37,181.75L462.95,180.25L462.25,178.86L461.25,177.58L460.00,176.52L458.75,175.82L457.25,175.33L455.75,175.15L454.25,175.27L452.75,175.68L451.25,176.45L450.00,177.47L449.00,178.69L448.25,180.06L447.78,181.50L447.58,183.25L447.71,184.75L448.13,186.25L448.91,187.75L449.94,189.00L451.18,190.00L452.50,190.68L454.00,191.12L455.52,191.25" fill="none" stroke="#484848" stroke-width="0.45" stroke-linejoin="round"/>
<path d="M457.08,190.50L458.50,190.03L459.75,189.32L460.75,188.47L461.73,187.25L462.37,186.00L462.79,184.50L462.88,183.00L462.73,181.75L462.24,180.25L461.52,179.00L460.67,178.00L459.50,177.07L458.25,176.44L457.00,176.07L455.75,175.94L454.25,176.07L452.75,176.53L451.50,177.22L450.50,178.05L449.52,179.25L448.86,180.50L448.41,182.00L448.28,183.50L448.40,184.75L448.85,186.25L449.52,187.50L450.34,188.50L451.50,189.47L452.75,190.13L454.25,190.57L455.75,190.67L457.08,190.50" fill="none" stroke="#474747" stroke-width="0.45" stroke-linejoin="round"/>
<path d="M456.72,190.00L458.00,189.64L459.24,189.00L460.25,188.19L461.05,187.25L461.75,186.00L462.14,184.75L462.28,183.50L462.19,182.25L461.85,181.00L461.25,179.80L460.50,178.83L459.50,177.94L458.25,177.24L457.00,176.84L455.75,176.70L454.50,176.80L453.25,177.15L452.07,177.75L451.11,178.50L450.23,179.50L449.52,180.75L449.12,182.00L448.96,183.25L449.04,184.50L449.36,185.75L449.97,187.00L450.75,188.02L451.75,188.89L452.75,189.48L454.00,189.92L455.25,190.10L456.72,190.00" fill="none" stroke="#454545" stroke-width="0.45" stroke-linejoin="round"/>
<path d="M456.00,189.50L457.25,189.29L458.25,188.91L459.25,188.29L460.12,187.50L460.85,186.50L461.31,185.50L461.62,184.25L461.65,183.00L461.41,181.75L461.01,180.75L460.38,179.75L459.50,178.85L458.50,178.17L457.50,177.75L456.50,177.52L455.25,177.48L454.00,177.70L453.00,178.10L452.00,178.73L451.18,179.50L450.46,180.50L450.00,181.50L449.70,182.75L449.67,184.00L449.90,185.25L450.30,186.25L450.94,187.25L451.75,188.09L452.75,188.78L453.75,189.22L454.75,189.45L456.00,189.50" fill="none" stroke="#444444" stroke-width="0.45" stroke-linejoin="round"/>
<path d="M457.05,188.75L458.00,188.40L459.00,187.78L459.75,187.06L460.33,186.25L460.79,185.25L461.02,184.25L461.05,183.25L460.90,182.25L460.54,181.25L460.00,180.35L459.25,179.53L458.50,178.98L457.50,178.50L456.50,178.25L455.50,178.19L454.25,178.39L453.25,178.78L452.25,179.45L451.50,180.22L450.98,181.00L450.56,182.00L450.35,183.00L450.33,184.00L450.51,185.00L450.89,186.00L451.35,186.75L452.01,187.50L453.00,188.23L454.00,188.67L455.00,188.90L456.00,188.92L457.05,188.75" fill="none" stroke="#424242" stroke-width="0.45" stroke-linejoin="round"/>
<path d="M456.66,188.25L457.50,187.99L458.25,187.61L459.02,187.00L459.65,186.25L460.06,185.50L460.37,184.50L460.45,183.75L460.37,182.75L460.07,181.75L459.66,181.00L459.00,180.22L458.25,179.63L457.50,179.25L456.50,178.97L455.50,178.91L454.75,179.01L453.75,179.34L453.03,179.75L452.43,180.25L451.80,181.00L451.38,181.75L451.07,182.75L450.99,183.75L451.06,184.50L451.36,185.50L451.77,186.25L452.39,187.00L453.00,187.50L453.75,187.93L454.75,188.25L455.75,188.35L456.66,188.25" fill="none" stroke="#414141" stroke-width="0.45" stroke-linejoin="round"/>
<path d="M456.00,187.75L456.75,187.63L457.50,187.36L458.25,186.90L458.75,186.45L459.28,185.75L459.63,185.00L459.81,184.25L459.84,183.50L459.74,182.75L459.48,182.00L459.03,181.25L458.50,180.66L457.75,180.13L457.00,179.80L456.25,179.64L455.50,179.62L454.75,179.73L454.00,180.00L453.25,180.46L452.67,181.00L452.14,181.75L451.82,182.50L451.67,183.25L451.65,184.00L451.78,184.75L452.07,185.50L452.50,186.18L453.03,186.75L453.75,187.25L454.50,187.57L455.25,187.73L456.00,187.75" fill="none" stroke="#404040" stroke-width="0.45" stroke-linejoin="round"/>
<path d="M456.84,187.00L457.50,186.71L458.00,186.36L458.50,185.85L458.89,185.25L459.09,184.75L459.24,184.00L459.21,183.25L459.10,182.75L458.91,182.25L458.50,181.61L458.00,181.09L457.50,180.75L457.00,180.52L456.25,180.33L455.50,180.30L454.75,180.45L454.00,180.78L453.50,181.13L453.00,181.66L452.63,182.25L452.44,182.75L452.30,183.50L452.32,184.25L452.44,184.75L452.78,185.50L453.15,186.00L453.70,186.50L454.25,186.83L454.75,187.02L455.50,187.16L456.25,187.14L456.84,187.00" fill="none" stroke="#3e3e3e" stroke-width="0.45" stroke-linejoin="round"/>
<path d="M456.36,186.50L457.00,186.29L457.49,186.00L458.20,185.25L458.45,184.75L458.59,184.25L458.58,183.25L458.43,182.75L458.17,182.25L457.43,181.50L456.50,181.07L455.75,180.99L455.25,181.03L454.75,181.18L454.25,181.43L453.75,181.83L453.41,182.25L453.14,182.75L452.99,183.25L452.98,184.25L453.12,184.75L453.37,185.25L453.75,185.72L454.25,186.12L454.75,186.37L455.25,186.51L455.75,186.56L456.36,186.50" fill="none" stroke="#3d3d3d" stroke-width="0.45" stroke-linejoin="round"/>
<path d="M456.72,185.75L457.43,185.25L457.90,184.50L458.02,183.75L457.94,183.25L457.75,182.79L457.25,182.18L456.50,181.77L456.00,181.67L455.50,181.69L454.75,181.92L454.05,182.50L453.66,183.25L453.59,184.00L453.81,184.75L454.25,185.33L455.00,185.80L455.75,185.95L456.25,185.90L456.72,185.75" fill="none" stroke="#3b3b3b" stroke-width="0.45" stroke-linejoin="round"/>
<path d="M456.40,185.25L456.86,185.00L457.28,184.50L457.44,184.00L457.32,183.25L457.00,182.77L456.50,182.43L455.75,182.31L455.00,182.50L454.65,182.75L454.30,183.25L454.19,184.00L454.34,184.50L454.75,184.99L455.25,185.26L455.75,185.36L456.40,185.25" fill="none" stroke="#3a3a3a" stroke-width="0.45" stroke-linejoin="round"/>
<path d="M471.4,209.0 L485.1,124.9 L490.2,120.5 L513.4,120.5" fill="none" stroke="#231f20" stroke-width="0.8" stroke-linejoin="miter"/>
<line x1="471.4" y1="209.0" x2="513.4" y2="209.0" stroke="#231f20" stroke-width="0.8"/>
<rect x="474" y="125.2" width="37" height="31.60000000000001" fill="#fff" fill-opacity="0.85"/>
<text x="474.6" y="138.2" font-size="9.45" text-anchor="start" font-weight="normal" fill="#231f20" stroke="#231f20" stroke-width="0.22">TUNEL+</text>
<text x="482.8" y="149.2" font-size="9.45" text-anchor="start" font-weight="normal" fill="#231f20" stroke="#231f20" stroke-width="0.22">8.89</text>
<line x1="323.4" y1="118.5" x2="323.40" y2="108.90" stroke="#231f20" stroke-width="1.0"/>
<path d="M323.40,104.40 L326.00,109.40 L320.80,109.40 Z" fill="#231f20"/>
<line x1="401.3" y1="117.8" x2="411.34" y2="108.69" stroke="#231f20" stroke-width="1.0"/>
<path d="M414.30,106.00 L412.72,110.95 L409.22,107.10 Z" fill="#231f20"/>
<line x1="400.8" y1="200.7" x2="410.80" y2="200.70" stroke="#231f20" stroke-width="1.0"/>
<path d="M414.80,200.70 L410.30,203.30 L410.30,198.10 Z" fill="#231f20"/>
<line x1="300.0" y1="200" x2="300.00" y2="174.20" stroke="#231f20" stroke-width="1"/>
<path d="M300.00,169.50 L303.00,174.70 L297.00,174.70 Z" fill="#231f20"/>
<path d="M300,220 L300,172" stroke="#231f20" stroke-width="1" fill="none"/>
<line x1="299.5" y1="220" x2="333.10" y2="220.00" stroke="#231f20" stroke-width="1"/>
<path d="M337.80,220.00 L332.60,223.00 L332.60,217.00 Z" fill="#231f20"/>
<text x="0" y="0" font-size="9.6" fill="#231f20" transform="translate(303.6,165.0) rotate(-90)">CD34</text>
<text x="340.8" y="222.8" font-size="9.6" text-anchor="start" font-weight="normal" fill="#231f20" >CD41</text>
<path d="M46.4,257.3 L46.4,386.0 L150.3,386.0" fill="none" stroke="#2a2a2a" stroke-width="1.15"/>
<line x1="43.199999999999996" y1="386.0" x2="46.4" y2="386.0" stroke="#231f20" stroke-width="0.9"/>
<text x="40.199999999999996" y="388.85" font-size="7.9" text-anchor="end" font-weight="normal" fill="#2a2a2a" stroke="#2a2a2a" stroke-width="0.18">0</text>
<line x1="43.199999999999996" y1="343.1" x2="46.4" y2="343.1" stroke="#231f20" stroke-width="0.9"/>
<text x="40.199999999999996" y="345.95000000000005" font-size="7.9" text-anchor="end" font-weight="normal" fill="#2a2a2a" stroke="#2a2a2a" stroke-width="0.18">10</text>
<line x1="43.199999999999996" y1="300.2" x2="46.4" y2="300.2" stroke="#231f20" stroke-width="0.9"/>
<text x="40.199999999999996" y="303.05" font-size="7.9" text-anchor="end" font-weight="normal" fill="#2a2a2a" stroke="#2a2a2a" stroke-width="0.18">20</text>
<line x1="43.199999999999996" y1="257.3" x2="46.4" y2="257.3" stroke="#231f20" stroke-width="0.9"/>
<text x="40.199999999999996" y="260.15000000000003" font-size="7.9" text-anchor="end" font-weight="normal" fill="#2a2a2a" stroke="#2a2a2a" stroke-width="0.18">30</text>
<line x1="52.5" y1="386.0" x2="52.5" y2="389.0" stroke="#231f20" stroke-width="0.9"/>
<text x="52.8" y="397.9" font-size="7.8" text-anchor="middle" font-weight="normal" fill="#2a2a2a" stroke="#2a2a2a" stroke-width="0.18">0</text>
<line x1="82.8" y1="386.0" x2="82.8" y2="389.0" stroke="#231f20" stroke-width="0.9"/>
<text x="83.1" y="397.9" font-size="7.8" text-anchor="middle" font-weight="normal" fill="#2a2a2a" stroke="#2a2a2a" stroke-width="0.18">10</text>
<line x1="113.1" y1="386.0" x2="113.1" y2="389.0" stroke="#231f20" stroke-width="0.9"/>
<text x="113.39999999999999" y="397.9" font-size="7.8" text-anchor="middle" font-weight="normal" fill="#2a2a2a" stroke="#2a2a2a" stroke-width="0.18">20</text>
<line x1="143.39999999999998" y1="386.0" x2="143.39999999999998" y2="389.0" stroke="#231f20" stroke-width="0.9"/>
<text x="143.7" y="397.9" font-size="7.8" text-anchor="middle" font-weight="normal" fill="#2a2a2a" stroke="#2a2a2a" stroke-width="0.18">30</text>
<line x1="52.5" y1="268.883" x2="52.5" y2="329.801" stroke="#2b2b2b" stroke-width="1.0"/>
<line x1="51.0" y1="268.883" x2="54.0" y2="268.883" stroke="#2b2b2b" stroke-width="1.0"/>
<line x1="51.0" y1="291.62" x2="54.0" y2="291.62" stroke="#2b2b2b" stroke-width="1.0"/>
<line x1="51.0" y1="322.937" x2="54.0" y2="322.937" stroke="#2b2b2b" stroke-width="1.0"/>
<line x1="51.0" y1="329.801" x2="54.0" y2="329.801" stroke="#2b2b2b" stroke-width="1.0"/>
<line x1="70.68" y1="274.46" x2="70.68" y2="324.653" stroke="#2b2b2b" stroke-width="1.0"/>
<line x1="69.18" y1="274.46" x2="72.18" y2="274.46" stroke="#2b2b2b" stroke-width="1.0"/>
<line x1="69.18" y1="283.03999999999996" x2="72.18" y2="283.03999999999996" stroke="#2b2b2b" stroke-width="1.0"/>
<line x1="69.18" y1="302.345" x2="72.18" y2="302.345" stroke="#2b2b2b" stroke-width="1.0"/>
<line x1="69.18" y1="308.78" x2="72.18" y2="308.78" stroke="#2b2b2b" stroke-width="1.0"/>
<line x1="69.18" y1="324.653" x2="72.18" y2="324.653" stroke="#2b2b2b" stroke-width="1.0"/>
<line x1="82.8" y1="273.173" x2="82.8" y2="324.224" stroke="#2b2b2b" stroke-width="1.0"/>
<line x1="81.3" y1="273.173" x2="84.3" y2="273.173" stroke="#2b2b2b" stroke-width="1.0"/>
<line x1="81.3" y1="286.901" x2="84.3" y2="286.901" stroke="#2b2b2b" stroke-width="1.0"/>
<line x1="81.3" y1="317.36" x2="84.3" y2="317.36" stroke="#2b2b2b" stroke-width="1.0"/>
<line x1="81.3" y1="324.224" x2="84.3" y2="324.224" stroke="#2b2b2b" stroke-width="1.0"/>
<line x1="143.39999999999998" y1="315.644" x2="143.39999999999998" y2="359.402" stroke="#2b2b2b" stroke-width="1.0"/>
<line x1="141.89999999999998" y1="315.644" x2="144.89999999999998" y2="315.644" stroke="#2b2b2b" stroke-width="1.0"/>
<line x1="141.89999999999998" y1="319.076" x2="144.89999999999998" y2="319.076" stroke="#2b2b2b" stroke-width="1.0"/>
<line x1="141.89999999999998" y1="341.384" x2="144.89999999999998" y2="341.384" stroke="#2b2b2b" stroke-width="1.0"/>
<line x1="141.89999999999998" y1="346.532" x2="144.89999999999998" y2="346.532" stroke="#2b2b2b" stroke-width="1.0"/>
<line x1="141.89999999999998" y1="359.402" x2="144.89999999999998" y2="359.402" stroke="#2b2b2b" stroke-width="1.0"/>
<polyline points="52.50,316.93 70.68,312.21 82.80,312.21 143.40,332.38" fill="none" stroke="#2db34a" stroke-width="1.4" stroke-linejoin="round"/>
<path d="M50.30,315.43 L54.70,315.43 L52.50,319.13 Z" fill="#2db34a"/>
<path d="M68.48,310.71 L72.88,310.71 L70.68,314.41 Z" fill="#2db34a"/>
<path d="M80.60,310.71 L85.00,310.71 L82.80,314.41 Z" fill="#2db34a"/>
<path d="M141.20,330.88 L145.60,330.88 L143.40,334.57 Z" fill="#2db34a"/>
<polyline points="52.50,307.49 70.68,297.63 82.80,304.49 143.40,332.38" fill="none" stroke="#12508c" stroke-width="1.4" stroke-linejoin="round"/>
<rect x="50.40" y="305.39" width="4.2" height="4.2" fill="#12508c"/>
<rect x="68.58" y="295.53" width="4.2" height="4.2" fill="#12508c"/>
<rect x="80.70" y="302.39" width="4.2" height="4.2" fill="#12508c"/>
<rect x="141.30" y="330.27" width="4.2" height="4.2" fill="#12508c"/>
<polyline points="52.50,287.33 70.68,291.62 82.80,294.62 143.40,350.82" fill="none" stroke="#cc1131" stroke-width="1.4" stroke-linejoin="round"/>
<circle cx="52.50" cy="287.33" r="2.2" fill="#cc1131"/>
<circle cx="70.68" cy="291.62" r="2.2" fill="#cc1131"/>
<circle cx="82.80" cy="294.62" r="2.2" fill="#cc1131"/>
<circle cx="143.40" cy="350.82" r="2.2" fill="#cc1131"/>
<rect x="51.65" y="336.45" width="1.5" height="1.5" fill="#333"/>
<text x="98.3" y="257.0" font-size="9.5" text-anchor="middle" fill="#231f20" stroke="#231f20" stroke-width="0.06">CD34<tspan dy="-2.6" font-size="8.4">+</tspan><tspan dy="2.6">CD41</tspan><tspan dy="-2.6" font-size="8.4">−</tspan></text>
<path d="M200.5,257.8 L200.5,385.7 L304.5,385.7" fill="none" stroke="#2a2a2a" stroke-width="1.15"/>
<line x1="197.3" y1="385.7" x2="200.5" y2="385.7" stroke="#231f20" stroke-width="0.9"/>
<text x="194.3" y="388.55" font-size="7.9" text-anchor="end" font-weight="normal" fill="#2a2a2a" stroke="#2a2a2a" stroke-width="0.18">20</text>
<line x1="197.3" y1="350.6" x2="200.5" y2="350.6" stroke="#231f20" stroke-width="0.9"/>
<text x="194.3" y="353.45000000000005" font-size="7.9" text-anchor="end" font-weight="normal" fill="#2a2a2a" stroke="#2a2a2a" stroke-width="0.18">30</text>
<line x1="197.3" y1="315.5" x2="200.5" y2="315.5" stroke="#231f20" stroke-width="0.9"/>
<text x="194.3" y="318.35" font-size="7.9" text-anchor="end" font-weight="normal" fill="#2a2a2a" stroke="#2a2a2a" stroke-width="0.18">40</text>
<line x1="197.3" y1="280.4" x2="200.5" y2="280.4" stroke="#231f20" stroke-width="0.9"/>
<text x="194.3" y="283.25" font-size="7.9" text-anchor="end" font-weight="normal" fill="#2a2a2a" stroke="#2a2a2a" stroke-width="0.18">50</text>
<line x1="206.6" y1="385.7" x2="206.6" y2="388.7" stroke="#231f20" stroke-width="0.9"/>
<text x="206.9" y="397.59999999999997" font-size="7.8" text-anchor="middle" font-weight="normal" fill="#2a2a2a" stroke="#2a2a2a" stroke-width="0.18">0</text>
<line x1="236.93" y1="385.7" x2="236.93" y2="388.7" stroke="#231f20" stroke-width="0.9"/>
<text x="237.23000000000002" y="397.59999999999997" font-size="7.8" text-anchor="middle" font-weight="normal" fill="#2a2a2a" stroke="#2a2a2a" stroke-width="0.18">10</text>
<line x1="267.26" y1="385.7" x2="267.26" y2="388.7" stroke="#231f20" stroke-width="0.9"/>
<text x="267.56" y="397.59999999999997" font-size="7.8" text-anchor="middle" font-weight="normal" fill="#2a2a2a" stroke="#2a2a2a" stroke-width="0.18">20</text>
<line x1="297.59" y1="385.7" x2="297.59" y2="388.7" stroke="#231f20" stroke-width="0.9"/>
<text x="297.89" y="397.59999999999997" font-size="7.8" text-anchor="middle" font-weight="normal" fill="#2a2a2a" stroke="#2a2a2a" stroke-width="0.18">30</text>
<line x1="206.6" y1="289.877" x2="206.6" y2="311.288" stroke="#2b2b2b" stroke-width="1.0"/>
<line x1="205.1" y1="289.877" x2="208.1" y2="289.877" stroke="#2b2b2b" stroke-width="1.0"/>
<line x1="205.1" y1="292.685" x2="208.1" y2="292.685" stroke="#2b2b2b" stroke-width="1.0"/>
<line x1="205.1" y1="304.97" x2="208.1" y2="304.97" stroke="#2b2b2b" stroke-width="1.0"/>
<line x1="205.1" y1="311.288" x2="208.1" y2="311.288" stroke="#2b2b2b" stroke-width="1.0"/>
<line x1="224.798" y1="276.188" x2="224.798" y2="301.811" stroke="#2b2b2b" stroke-width="1.0"/>
<line x1="223.298" y1="276.188" x2="226.298" y2="276.188" stroke="#2b2b2b" stroke-width="1.0"/>
<line x1="223.298" y1="278.645" x2="226.298" y2="278.645" stroke="#2b2b2b" stroke-width="1.0"/>
<line x1="223.298" y1="296.897" x2="226.298" y2="296.897" stroke="#2b2b2b" stroke-width="1.0"/>
<line x1="223.298" y1="301.811" x2="226.298" y2="301.811" stroke="#2b2b2b" stroke-width="1.0"/>
<line x1="236.93" y1="279.698" x2="236.93" y2="300.758" stroke="#2b2b2b" stroke-width="1.0"/>
<line x1="235.43" y1="279.698" x2="238.43" y2="279.698" stroke="#2b2b2b" stroke-width="1.0"/>
<line x1="235.43" y1="300.758" x2="238.43" y2="300.758" stroke="#2b2b2b" stroke-width="1.0"/>
<line x1="297.59" y1="273.029" x2="297.59" y2="316.202" stroke="#2b2b2b" stroke-width="1.0"/>
<line x1="296.09" y1="273.029" x2="299.09" y2="273.029" stroke="#2b2b2b" stroke-width="1.0"/>
<line x1="296.09" y1="316.202" x2="299.09" y2="316.202" stroke="#2b2b2b" stroke-width="1.0"/>
<line x1="297.59" y1="334.805" x2="297.59" y2="375.872" stroke="#2b2b2b" stroke-width="1.0"/>
<line x1="296.09" y1="334.805" x2="299.09" y2="334.805" stroke="#2b2b2b" stroke-width="1.0"/>
<line x1="296.09" y1="375.872" x2="299.09" y2="375.872" stroke="#2b2b2b" stroke-width="1.0"/>
<polyline points="206.60,299.00 224.80,291.63 236.93,289.88 297.59,300.41" fill="none" stroke="#2db34a" stroke-width="1.4" stroke-linejoin="round"/>
<path d="M204.40,297.50 L208.80,297.50 L206.60,301.20 Z" fill="#2db34a"/>
<path d="M222.60,290.13 L227.00,290.13 L224.80,293.83 Z" fill="#2db34a"/>
<path d="M234.73,288.38 L239.13,288.38 L236.93,292.08 Z" fill="#2db34a"/>
<path d="M295.39,298.91 L299.79,298.91 L297.59,302.61 Z" fill="#2db34a"/>
<polyline points="206.60,296.19 224.80,286.37 236.93,289.88 297.59,286.37" fill="none" stroke="#12508c" stroke-width="1.4" stroke-linejoin="round"/>
<rect x="204.50" y="294.09" width="4.2" height="4.2" fill="#12508c"/>
<rect x="222.70" y="284.27" width="4.2" height="4.2" fill="#12508c"/>
<rect x="234.83" y="287.78" width="4.2" height="4.2" fill="#12508c"/>
<rect x="295.49" y="284.27" width="4.2" height="4.2" fill="#12508c"/>
<polyline points="206.60,300.76 224.80,286.37 236.93,289.88 297.59,355.51" fill="none" stroke="#cc1131" stroke-width="1.4" stroke-linejoin="round"/>
<circle cx="206.60" cy="300.76" r="2.2" fill="#cc1131"/>
<circle cx="224.80" cy="286.37" r="2.2" fill="#cc1131"/>
<circle cx="236.93" cy="289.88" r="2.2" fill="#cc1131"/>
<circle cx="297.59" cy="355.51" r="2.2" fill="#cc1131"/>
<rect x="285.55" y="363.35" width="1.5" height="1.5" fill="#333"/>
<rect x="288.65" y="363.35" width="1.5" height="1.5" fill="#333"/>
<rect x="291.75" y="363.35" width="1.5" height="1.5" fill="#333"/>
<text x="252.5" y="257.0" font-size="9.5" text-anchor="middle" fill="#231f20" stroke="#231f20" stroke-width="0.06">CD34<tspan dy="-2.6" font-size="8.4">+</tspan><tspan dy="2.6">CD41</tspan><tspan dy="-2.6" font-size="8.4">+</tspan></text>
<path d="M350.3,257.3 L350.3,385.6 L452.7,385.6" fill="none" stroke="#2a2a2a" stroke-width="1.15"/>
<line x1="347.1" y1="349.1" x2="350.3" y2="349.1" stroke="#231f20" stroke-width="0.9"/>
<text x="344.1" y="351.95000000000005" font-size="7.9" text-anchor="end" font-weight="normal" fill="#2a2a2a" stroke="#2a2a2a" stroke-width="0.18">20</text>
<line x1="347.1" y1="312.6" x2="350.3" y2="312.6" stroke="#231f20" stroke-width="0.9"/>
<text x="344.1" y="315.45000000000005" font-size="7.9" text-anchor="end" font-weight="normal" fill="#2a2a2a" stroke="#2a2a2a" stroke-width="0.18">30</text>
<line x1="347.1" y1="276.1" x2="350.3" y2="276.1" stroke="#231f20" stroke-width="0.9"/>
<text x="344.1" y="278.95000000000005" font-size="7.9" text-anchor="end" font-weight="normal" fill="#2a2a2a" stroke="#2a2a2a" stroke-width="0.18">40</text>
<line x1="355.8" y1="385.6" x2="355.8" y2="388.6" stroke="#231f20" stroke-width="0.9"/>
<text x="356.1" y="397.5" font-size="7.8" text-anchor="middle" font-weight="normal" fill="#2a2a2a" stroke="#2a2a2a" stroke-width="0.18">0</text>
<line x1="386.43" y1="385.6" x2="386.43" y2="388.6" stroke="#231f20" stroke-width="0.9"/>
<text x="386.73" y="397.5" font-size="7.8" text-anchor="middle" font-weight="normal" fill="#2a2a2a" stroke="#2a2a2a" stroke-width="0.18">10</text>
<line x1="417.06" y1="385.6" x2="417.06" y2="388.6" stroke="#231f20" stroke-width="0.9"/>
<text x="417.36" y="397.5" font-size="7.8" text-anchor="middle" font-weight="normal" fill="#2a2a2a" stroke="#2a2a2a" stroke-width="0.18">20</text>
<line x1="447.69" y1="385.6" x2="447.69" y2="388.6" stroke="#231f20" stroke-width="0.9"/>
<text x="447.99" y="397.5" font-size="7.8" text-anchor="middle" font-weight="normal" fill="#2a2a2a" stroke="#2a2a2a" stroke-width="0.18">30</text>
<line x1="355.8" y1="276.46500000000003" x2="355.8" y2="292.16" stroke="#2b2b2b" stroke-width="1.0"/>
<line x1="354.3" y1="276.46500000000003" x2="357.3" y2="276.46500000000003" stroke="#2b2b2b" stroke-width="1.0"/>
<line x1="354.3" y1="278.65500000000003" x2="357.3" y2="278.65500000000003" stroke="#2b2b2b" stroke-width="1.0"/>
<line x1="354.3" y1="292.16" x2="357.3" y2="292.16" stroke="#2b2b2b" stroke-width="1.0"/>
<line x1="374.178" y1="275.00500000000005" x2="374.178" y2="285.95500000000004" stroke="#2b2b2b" stroke-width="1.0"/>
<line x1="372.678" y1="275.00500000000005" x2="375.678" y2="275.00500000000005" stroke="#2b2b2b" stroke-width="1.0"/>
<line x1="372.678" y1="285.95500000000004" x2="375.678" y2="285.95500000000004" stroke="#2b2b2b" stroke-width="1.0"/>
<line x1="386.43" y1="275.37" x2="386.43" y2="294.35" stroke="#2b2b2b" stroke-width="1.0"/>
<line x1="384.93" y1="275.37" x2="387.93" y2="275.37" stroke="#2b2b2b" stroke-width="1.0"/>
<line x1="384.93" y1="294.35" x2="387.93" y2="294.35" stroke="#2b2b2b" stroke-width="1.0"/>
<line x1="447.69" y1="282.67" x2="447.69" y2="310.77500000000003" stroke="#2b2b2b" stroke-width="1.0"/>
<line x1="446.19" y1="282.67" x2="449.19" y2="282.67" stroke="#2b2b2b" stroke-width="1.0"/>
<line x1="446.19" y1="286.32000000000005" x2="449.19" y2="286.32000000000005" stroke="#2b2b2b" stroke-width="1.0"/>
<line x1="446.19" y1="310.77500000000003" x2="449.19" y2="310.77500000000003" stroke="#2b2b2b" stroke-width="1.0"/>
<line x1="447.69" y1="330.485" x2="447.69" y2="354.57500000000005" stroke="#2b2b2b" stroke-width="1.0"/>
<line x1="446.19" y1="330.485" x2="449.19" y2="330.485" stroke="#2b2b2b" stroke-width="1.0"/>
<line x1="446.19" y1="354.57500000000005" x2="449.19" y2="354.57500000000005" stroke="#2b2b2b" stroke-width="1.0"/>
<polyline points="355.80,281.58 374.18,278.66 386.43,278.66 447.69,296.91" fill="none" stroke="#2db34a" stroke-width="1.4" stroke-linejoin="round"/>
<path d="M353.60,280.08 L358.00,280.08 L355.80,283.78 Z" fill="#2db34a"/>
<path d="M371.98,277.16 L376.38,277.16 L374.18,280.86 Z" fill="#2db34a"/>
<path d="M384.23,277.16 L388.63,277.16 L386.43,280.86 Z" fill="#2db34a"/>
<path d="M445.49,295.41 L449.89,295.41 L447.69,299.11 Z" fill="#2db34a"/>
<polyline points="355.80,282.31 374.18,281.58 386.43,281.21 447.69,296.91" fill="none" stroke="#12508c" stroke-width="1.4" stroke-linejoin="round"/>
<rect x="353.70" y="280.21" width="4.2" height="4.2" fill="#12508c"/>
<rect x="372.08" y="279.48" width="4.2" height="4.2" fill="#12508c"/>
<rect x="384.33" y="279.11" width="4.2" height="4.2" fill="#12508c"/>
<rect x="445.59" y="294.81" width="4.2" height="4.2" fill="#12508c"/>
<polyline points="355.80,287.78 374.18,281.21 386.43,287.05 447.69,342.53" fill="none" stroke="#cc1131" stroke-width="1.4" stroke-linejoin="round"/>
<circle cx="355.80" cy="287.78" r="2.2" fill="#cc1131"/>
<circle cx="374.18" cy="281.21" r="2.2" fill="#cc1131"/>
<circle cx="386.43" cy="287.05" r="2.2" fill="#cc1131"/>
<circle cx="447.69" cy="342.53" r="2.2" fill="#cc1131"/>
<rect x="435.55" y="357.75" width="1.5" height="1.5" fill="#333"/>
<rect x="438.65" y="357.75" width="1.5" height="1.5" fill="#333"/>
<rect x="441.75" y="357.75" width="1.5" height="1.5" fill="#333"/>
<text x="402.0" y="257.0" font-size="9.5" text-anchor="middle" fill="#231f20" stroke="#231f20" stroke-width="0.06">CD34<tspan dy="-2.6" font-size="8.4">−</tspan><tspan dy="2.6">CD41</tspan><tspan dy="-2.6" font-size="8.4">+</tspan></text>
<path d="M46.4,442.7 L46.4,571.7 L150.0,571.7" fill="none" stroke="#2a2a2a" stroke-width="1.15"/>
<line x1="43.199999999999996" y1="571.7" x2="46.4" y2="571.7" stroke="#231f20" stroke-width="0.9"/>
<text x="40.199999999999996" y="574.5500000000001" font-size="7.9" text-anchor="end" font-weight="normal" fill="#2a2a2a" stroke="#2a2a2a" stroke-width="0.18">0</text>
<line x1="43.199999999999996" y1="539.45" x2="46.4" y2="539.45" stroke="#231f20" stroke-width="0.9"/>
<text x="40.199999999999996" y="542.3000000000001" font-size="7.9" text-anchor="end" font-weight="normal" fill="#2a2a2a" stroke="#2a2a2a" stroke-width="0.18">10</text>
<line x1="43.199999999999996" y1="507.20000000000005" x2="46.4" y2="507.20000000000005" stroke="#231f20" stroke-width="0.9"/>
<text x="40.199999999999996" y="510.05000000000007" font-size="7.9" text-anchor="end" font-weight="normal" fill="#2a2a2a" stroke="#2a2a2a" stroke-width="0.18">20</text>
<line x1="43.199999999999996" y1="474.95000000000005" x2="46.4" y2="474.95000000000005" stroke="#231f20" stroke-width="0.9"/>
<text x="40.199999999999996" y="477.80000000000007" font-size="7.9" text-anchor="end" font-weight="normal" fill="#2a2a2a" stroke="#2a2a2a" stroke-width="0.18">30</text>
<line x1="43.199999999999996" y1="442.70000000000005" x2="46.4" y2="442.70000000000005" stroke="#231f20" stroke-width="0.9"/>
<text x="40.199999999999996" y="445.55000000000007" font-size="7.9" text-anchor="end" font-weight="normal" fill="#2a2a2a" stroke="#2a2a2a" stroke-width="0.18">40</text>
<line x1="52.4" y1="571.7" x2="52.4" y2="574.7" stroke="#231f20" stroke-width="0.9"/>
<text x="52.699999999999996" y="583.6" font-size="7.8" text-anchor="middle" font-weight="normal" fill="#2a2a2a" stroke="#2a2a2a" stroke-width="0.18">0</text>
<line x1="82.69999999999999" y1="571.7" x2="82.69999999999999" y2="574.7" stroke="#231f20" stroke-width="0.9"/>
<text x="82.99999999999999" y="583.6" font-size="7.8" text-anchor="middle" font-weight="normal" fill="#2a2a2a" stroke="#2a2a2a" stroke-width="0.18">10</text>
<line x1="113.0" y1="571.7" x2="113.0" y2="574.7" stroke="#231f20" stroke-width="0.9"/>
<text x="113.3" y="583.6" font-size="7.8" text-anchor="middle" font-weight="normal" fill="#2a2a2a" stroke="#2a2a2a" stroke-width="0.18">20</text>
<line x1="143.29999999999998" y1="571.7" x2="143.29999999999998" y2="574.7" stroke="#231f20" stroke-width="0.9"/>
<text x="143.6" y="583.6" font-size="7.8" text-anchor="middle" font-weight="normal" fill="#2a2a2a" stroke="#2a2a2a" stroke-width="0.18">30</text>
<line x1="52.4" y1="543.6425" x2="52.4" y2="562.6700000000001" stroke="#2b2b2b" stroke-width="1.0"/>
<line x1="50.9" y1="543.6425" x2="53.9" y2="543.6425" stroke="#2b2b2b" stroke-width="1.0"/>
<line x1="50.9" y1="544.9325" x2="53.9" y2="544.9325" stroke="#2b2b2b" stroke-width="1.0"/>
<line x1="50.9" y1="560.735" x2="53.9" y2="560.735" stroke="#2b2b2b" stroke-width="1.0"/>
<line x1="50.9" y1="562.6700000000001" x2="53.9" y2="562.6700000000001" stroke="#2b2b2b" stroke-width="1.0"/>
<line x1="70.58" y1="547.5125" x2="70.58" y2="561.0575" stroke="#2b2b2b" stroke-width="1.0"/>
<line x1="69.08" y1="547.5125" x2="72.08" y2="547.5125" stroke="#2b2b2b" stroke-width="1.0"/>
<line x1="69.08" y1="550.7375000000001" x2="72.08" y2="550.7375000000001" stroke="#2b2b2b" stroke-width="1.0"/>
<line x1="69.08" y1="561.0575" x2="72.08" y2="561.0575" stroke="#2b2b2b" stroke-width="1.0"/>
<line x1="82.69999999999999" y1="536.225" x2="82.69999999999999" y2="561.0575" stroke="#2b2b2b" stroke-width="1.0"/>
<line x1="81.19999999999999" y1="536.225" x2="84.19999999999999" y2="536.225" stroke="#2b2b2b" stroke-width="1.0"/>
<line x1="81.19999999999999" y1="540.4175" x2="84.19999999999999" y2="540.4175" stroke="#2b2b2b" stroke-width="1.0"/>
<line x1="81.19999999999999" y1="561.0575" x2="84.19999999999999" y2="561.0575" stroke="#2b2b2b" stroke-width="1.0"/>
<line x1="143.29999999999998" y1="462.05000000000007" x2="143.29999999999998" y2="534.9350000000001" stroke="#2b2b2b" stroke-width="1.0"/>
<line x1="141.79999999999998" y1="462.05000000000007" x2="144.79999999999998" y2="462.05000000000007" stroke="#2b2b2b" stroke-width="1.0"/>
<line x1="141.79999999999998" y1="481.07750000000004" x2="144.79999999999998" y2="481.07750000000004" stroke="#2b2b2b" stroke-width="1.0"/>
<line x1="141.79999999999998" y1="528.8075" x2="144.79999999999998" y2="528.8075" stroke="#2b2b2b" stroke-width="1.0"/>
<line x1="141.79999999999998" y1="534.9350000000001" x2="144.79999999999998" y2="534.9350000000001" stroke="#2b2b2b" stroke-width="1.0"/>
<polyline points="52.40,559.77 70.58,555.58 82.70,554.29 143.30,518.81" fill="none" stroke="#2db34a" stroke-width="1.4" stroke-linejoin="round"/>
<path d="M50.20,558.27 L54.60,558.27 L52.40,561.97 Z" fill="#2db34a"/>
<path d="M68.38,554.08 L72.78,554.08 L70.58,557.78 Z" fill="#2db34a"/>
<path d="M80.50,552.79 L84.90,552.79 L82.70,556.49 Z" fill="#2db34a"/>
<path d="M141.10,517.31 L145.50,517.31 L143.30,521.01 Z" fill="#2db34a"/>
<polyline points="52.40,549.77 70.58,554.93 82.70,542.03 143.30,494.95" fill="none" stroke="#12508c" stroke-width="1.4" stroke-linejoin="round"/>
<rect x="50.30" y="547.67" width="4.2" height="4.2" fill="#12508c"/>
<rect x="68.48" y="552.83" width="4.2" height="4.2" fill="#12508c"/>
<rect x="80.60" y="539.93" width="4.2" height="4.2" fill="#12508c"/>
<rect x="141.20" y="492.85" width="4.2" height="4.2" fill="#12508c"/>
<polyline points="52.40,559.77 70.58,552.67 82.70,547.51 143.30,504.94" fill="none" stroke="#cc1131" stroke-width="1.4" stroke-linejoin="round"/>
<circle cx="52.40" cy="559.77" r="2.2" fill="#cc1131"/>
<circle cx="70.58" cy="552.67" r="2.2" fill="#cc1131"/>
<circle cx="82.70" cy="547.51" r="2.2" fill="#cc1131"/>
<circle cx="143.30" cy="504.94" r="2.2" fill="#cc1131"/>
<text x="98.3" y="442.5" font-size="9.5" text-anchor="middle" fill="#231f20" stroke="#231f20" stroke-width="0.06">CD34<tspan dy="-2.6" font-size="8.4">+</tspan><tspan dy="2.6">CD41</tspan><tspan dy="-2.6" font-size="8.4">−</tspan></text>
<path d="M200.5,442.5 L200.5,571.4 L304.5,571.4" fill="none" stroke="#2a2a2a" stroke-width="1.15"/>
<line x1="197.3" y1="571.4" x2="200.5" y2="571.4" stroke="#231f20" stroke-width="0.9"/>
<text x="194.3" y="574.25" font-size="7.9" text-anchor="end" font-weight="normal" fill="#2a2a2a" stroke="#2a2a2a" stroke-width="0.18">10</text>
<line x1="197.3" y1="534.5" x2="200.5" y2="534.5" stroke="#231f20" stroke-width="0.9"/>
<text x="194.3" y="537.35" font-size="7.9" text-anchor="end" font-weight="normal" fill="#2a2a2a" stroke="#2a2a2a" stroke-width="0.18">20</text>
<line x1="197.3" y1="497.59999999999997" x2="200.5" y2="497.59999999999997" stroke="#231f20" stroke-width="0.9"/>
<text x="194.3" y="500.45" font-size="7.9" text-anchor="end" font-weight="normal" fill="#2a2a2a" stroke="#2a2a2a" stroke-width="0.18">30</text>
<line x1="197.3" y1="460.7" x2="200.5" y2="460.7" stroke="#231f20" stroke-width="0.9"/>
<text x="194.3" y="463.55" font-size="7.9" text-anchor="end" font-weight="normal" fill="#2a2a2a" stroke="#2a2a2a" stroke-width="0.18">40</text>
<line x1="206.6" y1="571.4" x2="206.6" y2="574.4" stroke="#231f20" stroke-width="0.9"/>
<text x="206.9" y="583.3" font-size="7.8" text-anchor="middle" font-weight="normal" fill="#2a2a2a" stroke="#2a2a2a" stroke-width="0.18">0</text>
<line x1="236.93" y1="571.4" x2="236.93" y2="574.4" stroke="#231f20" stroke-width="0.9"/>
<text x="237.23000000000002" y="583.3" font-size="7.8" text-anchor="middle" font-weight="normal" fill="#2a2a2a" stroke="#2a2a2a" stroke-width="0.18">10</text>
<line x1="267.26" y1="571.4" x2="267.26" y2="574.4" stroke="#231f20" stroke-width="0.9"/>
<text x="267.56" y="583.3" font-size="7.8" text-anchor="middle" font-weight="normal" fill="#2a2a2a" stroke="#2a2a2a" stroke-width="0.18">20</text>
<line x1="297.59" y1="571.4" x2="297.59" y2="574.4" stroke="#231f20" stroke-width="0.9"/>
<text x="297.89" y="583.3" font-size="7.8" text-anchor="middle" font-weight="normal" fill="#2a2a2a" stroke="#2a2a2a" stroke-width="0.18">30</text>
<line x1="206.6" y1="519.002" x2="206.6" y2="566.2339999999999" stroke="#2b2b2b" stroke-width="1.0"/>
<line x1="205.1" y1="519.002" x2="208.1" y2="519.002" stroke="#2b2b2b" stroke-width="1.0"/>
<line x1="205.1" y1="533.393" x2="208.1" y2="533.393" stroke="#2b2b2b" stroke-width="1.0"/>
<line x1="205.1" y1="553.688" x2="208.1" y2="553.688" stroke="#2b2b2b" stroke-width="1.0"/>
<line x1="205.1" y1="559.592" x2="208.1" y2="559.592" stroke="#2b2b2b" stroke-width="1.0"/>
<line x1="205.1" y1="566.2339999999999" x2="208.1" y2="566.2339999999999" stroke="#2b2b2b" stroke-width="1.0"/>
<line x1="224.798" y1="518.6329999999999" x2="224.798" y2="567.341" stroke="#2b2b2b" stroke-width="1.0"/>
<line x1="223.298" y1="518.6329999999999" x2="226.298" y2="518.6329999999999" stroke="#2b2b2b" stroke-width="1.0"/>
<line x1="223.298" y1="524.906" x2="226.298" y2="524.906" stroke="#2b2b2b" stroke-width="1.0"/>
<line x1="223.298" y1="559.223" x2="226.298" y2="559.223" stroke="#2b2b2b" stroke-width="1.0"/>
<line x1="223.298" y1="567.341" x2="226.298" y2="567.341" stroke="#2b2b2b" stroke-width="1.0"/>
<line x1="236.93" y1="502.76599999999996" x2="236.93" y2="560.3299999999999" stroke="#2b2b2b" stroke-width="1.0"/>
<line x1="235.43" y1="502.76599999999996" x2="238.43" y2="502.76599999999996" stroke="#2b2b2b" stroke-width="1.0"/>
<line x1="235.43" y1="503.50399999999996" x2="238.43" y2="503.50399999999996" stroke="#2b2b2b" stroke-width="1.0"/>
<line x1="235.43" y1="537.083" x2="238.43" y2="537.083" stroke="#2b2b2b" stroke-width="1.0"/>
<line x1="235.43" y1="540.035" x2="238.43" y2="540.035" stroke="#2b2b2b" stroke-width="1.0"/>
<line x1="235.43" y1="560.3299999999999" x2="238.43" y2="560.3299999999999" stroke="#2b2b2b" stroke-width="1.0"/>
<line x1="297.59" y1="442.988" x2="297.59" y2="491.69599999999997" stroke="#2b2b2b" stroke-width="1.0"/>
<line x1="296.09" y1="442.988" x2="299.09" y2="442.988" stroke="#2b2b2b" stroke-width="1.0"/>
<line x1="296.09" y1="457.748" x2="299.09" y2="457.748" stroke="#2b2b2b" stroke-width="1.0"/>
<line x1="296.09" y1="459.59299999999996" x2="299.09" y2="459.59299999999996" stroke="#2b2b2b" stroke-width="1.0"/>
<line x1="296.09" y1="491.69599999999997" x2="299.09" y2="491.69599999999997" stroke="#2b2b2b" stroke-width="1.0"/>
<polyline points="206.60,544.46 224.80,551.84 236.93,550.00 297.59,470.66" fill="none" stroke="#2db34a" stroke-width="1.4" stroke-linejoin="round"/>
<path d="M204.40,542.96 L208.80,542.96 L206.60,546.66 Z" fill="#2db34a"/>
<path d="M222.60,550.34 L227.00,550.34 L224.80,554.04 Z" fill="#2db34a"/>
<path d="M234.73,548.50 L239.13,548.50 L236.93,552.20 Z" fill="#2db34a"/>
<path d="M295.39,469.16 L299.79,469.16 L297.59,472.86 Z" fill="#2db34a"/>
<polyline points="206.60,536.35 224.80,546.68 236.93,521.59 297.59,450.37" fill="none" stroke="#12508c" stroke-width="1.4" stroke-linejoin="round"/>
<rect x="204.50" y="534.25" width="4.2" height="4.2" fill="#12508c"/>
<rect x="222.70" y="544.58" width="4.2" height="4.2" fill="#12508c"/>
<rect x="234.83" y="519.49" width="4.2" height="4.2" fill="#12508c"/>
<rect x="295.49" y="448.27" width="4.2" height="4.2" fill="#12508c"/>
<polyline points="206.60,550.74 224.80,531.55 236.93,519.37 297.59,448.52" fill="none" stroke="#cc1131" stroke-width="1.4" stroke-linejoin="round"/>
<circle cx="206.60" cy="550.74" r="2.2" fill="#cc1131"/>
<circle cx="224.80" cy="531.55" r="2.2" fill="#cc1131"/>
<circle cx="236.93" cy="519.37" r="2.2" fill="#cc1131"/>
<circle cx="297.59" cy="448.52" r="2.2" fill="#cc1131"/>
<text x="252.5" y="442.5" font-size="9.5" text-anchor="middle" fill="#231f20" stroke="#231f20" stroke-width="0.06">CD34<tspan dy="-2.6" font-size="8.4">+</tspan><tspan dy="2.6">CD41</tspan><tspan dy="-2.6" font-size="8.4">+</tspan></text>
<path d="M350.3,443.0 L350.3,571.9 L452.7,571.9" fill="none" stroke="#2a2a2a" stroke-width="1.15"/>
<line x1="347.1" y1="571.9" x2="350.3" y2="571.9" stroke="#231f20" stroke-width="0.9"/>
<text x="344.1" y="574.75" font-size="7.9" text-anchor="end" font-weight="normal" fill="#2a2a2a" stroke="#2a2a2a" stroke-width="0.18">0</text>
<line x1="347.1" y1="543.05" x2="350.3" y2="543.05" stroke="#231f20" stroke-width="0.9"/>
<text x="344.1" y="545.9" font-size="7.9" text-anchor="end" font-weight="normal" fill="#2a2a2a" stroke="#2a2a2a" stroke-width="0.18">10</text>
<line x1="347.1" y1="514.1999999999999" x2="350.3" y2="514.1999999999999" stroke="#231f20" stroke-width="0.9"/>
<text x="344.1" y="517.05" font-size="7.9" text-anchor="end" font-weight="normal" fill="#2a2a2a" stroke="#2a2a2a" stroke-width="0.18">20</text>
<line x1="347.1" y1="485.34999999999997" x2="350.3" y2="485.34999999999997" stroke="#231f20" stroke-width="0.9"/>
<text x="344.1" y="488.2" font-size="7.9" text-anchor="end" font-weight="normal" fill="#2a2a2a" stroke="#2a2a2a" stroke-width="0.18">30</text>
<line x1="347.1" y1="456.5" x2="350.3" y2="456.5" stroke="#231f20" stroke-width="0.9"/>
<text x="344.1" y="459.35" font-size="7.9" text-anchor="end" font-weight="normal" fill="#2a2a2a" stroke="#2a2a2a" stroke-width="0.18">40</text>
<line x1="355.8" y1="571.9" x2="355.8" y2="574.9" stroke="#231f20" stroke-width="0.9"/>
<text x="356.1" y="583.8" font-size="7.8" text-anchor="middle" font-weight="normal" fill="#2a2a2a" stroke="#2a2a2a" stroke-width="0.18">0</text>
<line x1="386.43" y1="571.9" x2="386.43" y2="574.9" stroke="#231f20" stroke-width="0.9"/>
<text x="386.73" y="583.8" font-size="7.8" text-anchor="middle" font-weight="normal" fill="#2a2a2a" stroke="#2a2a2a" stroke-width="0.18">10</text>
<line x1="417.06" y1="571.9" x2="417.06" y2="574.9" stroke="#231f20" stroke-width="0.9"/>
<text x="417.36" y="583.8" font-size="7.8" text-anchor="middle" font-weight="normal" fill="#2a2a2a" stroke="#2a2a2a" stroke-width="0.18">20</text>
<line x1="447.69" y1="571.9" x2="447.69" y2="574.9" stroke="#231f20" stroke-width="0.9"/>
<text x="447.99" y="583.8" font-size="7.8" text-anchor="middle" font-weight="normal" fill="#2a2a2a" stroke="#2a2a2a" stroke-width="0.18">30</text>
<line x1="355.8" y1="538.434" x2="355.8" y2="554.8785" stroke="#2b2b2b" stroke-width="1.0"/>
<line x1="354.3" y1="538.434" x2="357.3" y2="538.434" stroke="#2b2b2b" stroke-width="1.0"/>
<line x1="354.3" y1="540.165" x2="357.3" y2="540.165" stroke="#2b2b2b" stroke-width="1.0"/>
<line x1="354.3" y1="554.8785" x2="357.3" y2="554.8785" stroke="#2b2b2b" stroke-width="1.0"/>
<line x1="374.178" y1="539.011" x2="374.178" y2="560.36" stroke="#2b2b2b" stroke-width="1.0"/>
<line x1="372.678" y1="539.011" x2="375.678" y2="539.011" stroke="#2b2b2b" stroke-width="1.0"/>
<line x1="372.678" y1="560.36" x2="375.678" y2="560.36" stroke="#2b2b2b" stroke-width="1.0"/>
<line x1="386.43" y1="516.2194999999999" x2="386.43" y2="547.0889999999999" stroke="#2b2b2b" stroke-width="1.0"/>
<line x1="384.93" y1="516.2194999999999" x2="387.93" y2="516.2194999999999" stroke="#2b2b2b" stroke-width="1.0"/>
<line x1="384.93" y1="519.97" x2="387.93" y2="519.97" stroke="#2b2b2b" stroke-width="1.0"/>
<line x1="384.93" y1="547.0889999999999" x2="387.93" y2="547.0889999999999" stroke="#2b2b2b" stroke-width="1.0"/>
<line x1="447.69" y1="459.0965" x2="447.69" y2="514.1999999999999" stroke="#2b2b2b" stroke-width="1.0"/>
<line x1="446.19" y1="459.0965" x2="449.19" y2="459.0965" stroke="#2b2b2b" stroke-width="1.0"/>
<line x1="446.19" y1="462.27" x2="449.19" y2="462.27" stroke="#2b2b2b" stroke-width="1.0"/>
<line x1="446.19" y1="496.89" x2="449.19" y2="496.89" stroke="#2b2b2b" stroke-width="1.0"/>
<line x1="446.19" y1="514.1999999999999" x2="449.19" y2="514.1999999999999" stroke="#2b2b2b" stroke-width="1.0"/>
<polyline points="355.80,546.22 374.18,555.46 386.43,555.46 447.69,492.27" fill="none" stroke="#2db34a" stroke-width="1.4" stroke-linejoin="round"/>
<path d="M353.60,544.72 L358.00,544.72 L355.80,548.42 Z" fill="#2db34a"/>
<path d="M371.98,553.96 L376.38,553.96 L374.18,557.66 Z" fill="#2db34a"/>
<path d="M384.23,553.96 L388.63,553.96 L386.43,557.66 Z" fill="#2db34a"/>
<path d="M445.49,490.77 L449.89,490.77 L447.69,494.47 Z" fill="#2db34a"/>
<polyline points="355.80,543.05 374.18,552.57 386.43,532.38 447.69,480.45" fill="none" stroke="#12508c" stroke-width="1.4" stroke-linejoin="round"/>
<rect x="353.70" y="540.95" width="4.2" height="4.2" fill="#12508c"/>
<rect x="372.08" y="550.47" width="4.2" height="4.2" fill="#12508c"/>
<rect x="384.33" y="530.28" width="4.2" height="4.2" fill="#12508c"/>
<rect x="445.59" y="478.35" width="4.2" height="4.2" fill="#12508c"/>
<polyline points="355.80,550.84 374.18,543.92 386.43,532.38 447.69,470.06" fill="none" stroke="#cc1131" stroke-width="1.4" stroke-linejoin="round"/>
<circle cx="355.80" cy="550.84" r="2.2" fill="#cc1131"/>
<circle cx="374.18" cy="543.92" r="2.2" fill="#cc1131"/>
<circle cx="386.43" cy="532.38" r="2.2" fill="#cc1131"/>
<circle cx="447.69" cy="470.06" r="2.2" fill="#cc1131"/>
<text x="402.0" y="442.5" font-size="9.5" text-anchor="middle" fill="#231f20" stroke="#231f20" stroke-width="0.06">CD34<tspan dy="-2.6" font-size="8.4">−</tspan><tspan dy="2.6">CD41</tspan><tspan dy="-2.6" font-size="8.4">+</tspan></text>
<text x="0" y="0" font-size="9.2" font-weight="bold" fill="#2a2a2a" transform="translate(25.4,332.8) rotate(-90) scale(0.68,1)">% EdU<tspan dy="-3.6" font-size="6">+</tspan></text>
<text x="0" y="0" font-size="9.2" font-weight="bold" fill="#2a2a2a" transform="translate(25.3,522.3) rotate(-90) scale(0.66,1)">% TUNEL<tspan dy="-3.6" font-size="6">+</tspan></text>
<text x="0" y="0" font-size="8.6" fill="#222" stroke="#222" stroke-width="0.3" transform="translate(375.6,410.9) scale(0.79,1)">Eltrombopag (μM)</text>
<text x="0" y="0" font-size="8.6" fill="#222" stroke="#222" stroke-width="0.3" transform="translate(375.6,595.6) scale(0.79,1)">Eltrombopag (μM)</text>
<text x="467.0" y="261.6" font-size="7.6" text-anchor="start" font-weight="normal" fill="#222" stroke="#222" stroke-width="0.15">% Holo-Tf</text>
<line x1="467.1" y1="269.1" x2="477.3" y2="269.1" stroke="#cc1131" stroke-width="1.4"/>
<circle cx="472.2" cy="269.1" r="2.1" fill="#cc1131"/>
<text x="480.5" y="271.8" font-size="7.6" text-anchor="start" font-weight="normal" fill="#222" stroke="#222" stroke-width="0.15">0%</text>
<line x1="467.1" y1="278.70000000000005" x2="477.3" y2="278.70000000000005" stroke="#12508c" stroke-width="1.4"/>
<rect x="470.2" y="276.70000000000005" width="4" height="4" fill="#12508c"/>
<text x="480.5" y="281.40000000000003" font-size="7.6" text-anchor="start" font-weight="normal" fill="#222" stroke="#222" stroke-width="0.15">10%</text>
<line x1="467.1" y1="288.3" x2="477.3" y2="288.3" stroke="#2db34a" stroke-width="1.4"/>
<path d="M469.80,286.80 L474.60,286.80 L472.20,290.60 Z" fill="#2db34a"/>
<text x="480.5" y="291.0" font-size="7.6" text-anchor="start" font-weight="normal" fill="#222" stroke="#222" stroke-width="0.15">100%</text>
<text x="467.0" y="446.8" font-size="7.6" text-anchor="start" font-weight="normal" fill="#222" stroke="#222" stroke-width="0.15">% Holo-Tf</text>
<line x1="467.1" y1="454.3" x2="477.3" y2="454.3" stroke="#cc1131" stroke-width="1.4"/>
<circle cx="472.2" cy="454.3" r="2.1" fill="#cc1131"/>
<text x="480.5" y="457.0" font-size="7.6" text-anchor="start" font-weight="normal" fill="#222" stroke="#222" stroke-width="0.15">0%</text>
<line x1="467.1" y1="463.90000000000003" x2="477.3" y2="463.90000000000003" stroke="#12508c" stroke-width="1.4"/>
<rect x="470.2" y="461.90000000000003" width="4" height="4" fill="#12508c"/>
<text x="480.5" y="466.6" font-size="7.6" text-anchor="start" font-weight="normal" fill="#222" stroke="#222" stroke-width="0.15">10%</text>
<line x1="467.1" y1="473.5" x2="477.3" y2="473.5" stroke="#2db34a" stroke-width="1.4"/>
<path d="M469.80,472.00 L474.60,472.00 L472.20,475.80 Z" fill="#2db34a"/>
<text x="480.5" y="476.2" font-size="7.6" text-anchor="start" font-weight="normal" fill="#222" stroke="#222" stroke-width="0.15">100%</text>
</svg>
</body></html>
